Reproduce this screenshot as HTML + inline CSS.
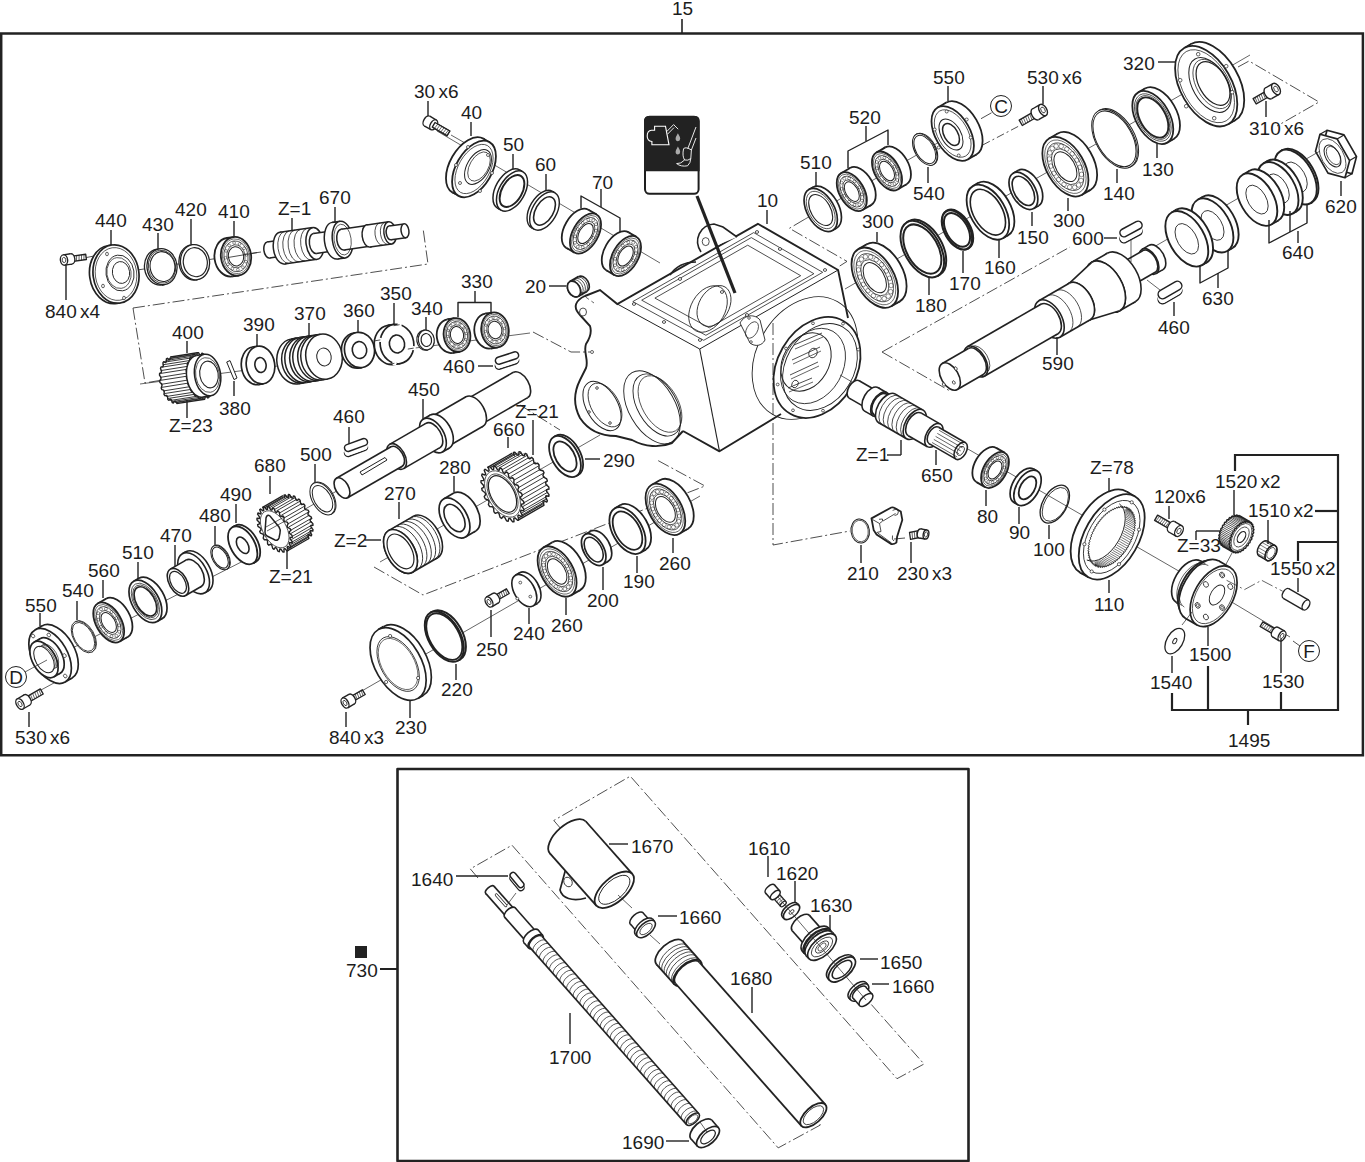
<!DOCTYPE html>
<html><head><meta charset="utf-8"><style>
html,body{margin:0;padding:0;background:#fff;}
svg{display:block;}
text{font-family:"Liberation Sans",sans-serif;fill:#1c1c1c;word-spacing:-2px;}
</style></head><body>
<svg width="1365" height="1162" viewBox="0 0 1365 1162">
<rect x="0" y="0" width="1365" height="1162" fill="#fff"/>
<polygon points="1.2,33.6 1362.9,33.6 1362.9,755.2 1.2,755.2" fill="none" stroke="#222" stroke-width="2.5" stroke-linejoin="miter"/>
<line x1="682" y1="19" x2="682" y2="34" stroke="#222" stroke-width="1.6"/>
<text x="672" y="15" font-size="19">15</text>
<polygon points="397.5,769 968.5,769 968.5,1161 397.5,1161" fill="none" stroke="#222" stroke-width="2.6" stroke-linejoin="round"/>
<rect x="355" y="946" width="12" height="12" fill="#222"/>
<text x="346" y="977" font-size="19">730</text>
<line x1="380" y1="969" x2="397" y2="969" stroke="#222" stroke-width="2"/>
<polygon points="699.7,349 838.1,270 848,318 820,400 781,414 719.5,451.3" fill="#fff" stroke="none" stroke-width="0" stroke-linejoin="round"/>
<path d="M617.3,304 L699.7,349 L719.5,451.3 L683,431 L672,443 C660,448 645,447 632,440 L616,436 C600,436 588,430 580,418 C573,405 574,392 580,380 L586,368 C589,360 583,352 586,344 C590,338 592,332 590,326 L580,315 C572,307 576,300 585,296 L600,290 L617.3,304 Z" fill="#fff" stroke="none" stroke-width="0" />
<polygon points="617.3,304 757.9,223.8 838.1,270 699.7,349" fill="#fff" stroke="none" stroke-width="0" stroke-linejoin="round"/>
<path d="M683,431 L672,443 C660,448 645,447 632,440 L616,436 C600,436 588,430 580,418 C573,405 574,392 580,380 L586,368 C589,360 583,352 586,344 C590,338 592,332 590,326 L580,315 C572,307 576,300 585,296 L600,290 L617.3,304 L757.9,223.8 L838.1,270 L848,318" fill="none" stroke="#222" stroke-width="1.9" />
<polyline points="781,414 719.5,451.3 683,431" fill="none" stroke="#222" stroke-width="1.9" stroke-linejoin="round"/>
<polyline points="617.3,304 699.7,349 838.1,270" fill="none" stroke="#222" stroke-width="1.0" stroke-linejoin="round"/>
<line x1="699.7" y1="349" x2="719.5" y2="451.3" stroke="#222" stroke-width="1.1"/>
<polygon points="632.8,301.6 753.7,232.6 822.7,272.3 703.7,340.3" fill="none" stroke="#222" stroke-width="0.8" stroke-linejoin="round"/>
<polygon points="641.7,300.2 751.3,237.6 813.9,273.7 705.9,335.3" fill="none" stroke="#222" stroke-width="0.8" stroke-linejoin="round"/>
<polygon points="654.9,298.1 747.7,245.2 800.7,275.7 709.3,327.8" fill="none" stroke="#222" stroke-width="0.8" stroke-linejoin="round"/>
<ellipse cx="634" cy="304" rx="1.6" ry="1.4" fill="#fff" stroke="#222" stroke-width="0.8"/>
<ellipse cx="757" cy="232" rx="1.6" ry="1.4" fill="#fff" stroke="#222" stroke-width="0.8"/>
<ellipse cx="825" cy="270" rx="1.6" ry="1.4" fill="#fff" stroke="#222" stroke-width="0.8"/>
<ellipse cx="700" cy="340" rx="1.6" ry="1.4" fill="#fff" stroke="#222" stroke-width="0.8"/>
<ellipse cx="680" cy="279" rx="1.6" ry="1.4" fill="#fff" stroke="#222" stroke-width="0.8"/>
<ellipse cx="780" cy="249" rx="1.6" ry="1.4" fill="#fff" stroke="#222" stroke-width="0.8"/>
<ellipse cx="747" cy="315" rx="1.6" ry="1.4" fill="#fff" stroke="#222" stroke-width="0.8"/>
<ellipse cx="664" cy="322" rx="1.6" ry="1.4" fill="#fff" stroke="#222" stroke-width="0.8"/>
<ellipse cx="722" cy="292" rx="1.6" ry="1.4" fill="#fff" stroke="#222" stroke-width="0.8"/>
<ellipse cx="708" cy="309" rx="17" ry="25" fill="none" stroke="#222" stroke-width="0.8" transform="rotate(30 708 309)"/>
<ellipse cx="714" cy="306" rx="15" ry="22" fill="none" stroke="#222" stroke-width="0.8" transform="rotate(30 714 306)"/>
<path d="M701,252 C693,240 700,225 714,224 L723,227 L737,237" fill="#fff" stroke="#222" stroke-width="1.6" />
<ellipse cx="705.7" cy="241.6" rx="3.5" ry="4" fill="#fff" stroke="#222" stroke-width="0.8"/>
<ellipse cx="583" cy="312" rx="3.5" ry="4" fill="#fff" stroke="#222" stroke-width="0.8"/>
<ellipse cx="592" cy="352" rx="1.5" ry="1.5" fill="#fff" stroke="#222" stroke-width="0.7"/>
<ellipse cx="602" cy="406" rx="15.6" ry="27" fill="none" stroke="#222" stroke-width="1.0" transform="rotate(-30 602 406)"/>
<ellipse cx="605" cy="405" rx="13.8" ry="24" fill="none" stroke="#222" stroke-width="0.8" transform="rotate(-30 605 405)"/>
<ellipse cx="597" cy="388" rx="1.3" ry="1.3" fill="#fff" stroke="#222" stroke-width="0.8"/>
<ellipse cx="610" cy="423" rx="1.3" ry="1.3" fill="#fff" stroke="#222" stroke-width="0.8"/>
<ellipse cx="589" cy="412" rx="1.3" ry="1.3" fill="#fff" stroke="#222" stroke-width="0.8"/>
<ellipse cx="652" cy="407.3" rx="23.1" ry="40" fill="none" stroke="#222" stroke-width="0.9" transform="rotate(-30 652 407.3)"/>
<ellipse cx="657" cy="405" rx="19.6" ry="34" fill="none" stroke="#222" stroke-width="0.9" transform="rotate(-30 657 405)"/>
<ellipse cx="660" cy="404" rx="17.9" ry="31" fill="none" stroke="#222" stroke-width="0.7" transform="rotate(-30 660 404)"/>
<ellipse cx="805" cy="358" rx="48.1" ry="65" fill="none" stroke="#222" stroke-width="0.9" transform="rotate(30 805 358)"/>
<ellipse cx="817" cy="367.5" rx="39.6" ry="53.5" fill="#fff" stroke="#222" stroke-width="1.8" transform="rotate(30 817 367.5)"/>
<ellipse cx="820" cy="367" rx="34" ry="46" fill="none" stroke="#222" stroke-width="0.9" transform="rotate(30 820 367)"/>
<ellipse cx="813" cy="366" rx="29.6" ry="40" fill="none" stroke="#222" stroke-width="0.8" transform="rotate(30 813 366)"/>
<ellipse cx="806" cy="362" rx="22.9" ry="31" fill="none" stroke="#222" stroke-width="1.0" transform="rotate(30 806 362)"/>
<ellipse cx="850" cy="385.5" rx="1.4" ry="1.4" fill="#fff" stroke="#222" stroke-width="0.7"/>
<ellipse cx="823" cy="410.7" rx="1.4" ry="1.4" fill="#fff" stroke="#222" stroke-width="0.7"/>
<ellipse cx="793" cy="410.3" rx="1.4" ry="1.4" fill="#fff" stroke="#222" stroke-width="0.7"/>
<ellipse cx="777.7" cy="384.5" rx="1.4" ry="1.4" fill="#fff" stroke="#222" stroke-width="0.7"/>
<ellipse cx="786" cy="348.5" rx="1.4" ry="1.4" fill="#fff" stroke="#222" stroke-width="0.7"/>
<ellipse cx="813" cy="323.3" rx="1.4" ry="1.4" fill="#fff" stroke="#222" stroke-width="0.7"/>
<ellipse cx="843" cy="323.7" rx="1.4" ry="1.4" fill="#fff" stroke="#222" stroke-width="0.7"/>
<ellipse cx="858.3" cy="349.5" rx="1.4" ry="1.4" fill="#fff" stroke="#222" stroke-width="0.7"/>
<line x1="794" y1="345" x2="822" y2="333" stroke="#222" stroke-width="0.8"/>
<line x1="795" y1="349" x2="823" y2="337" stroke="#222" stroke-width="0.7"/>
<line x1="792" y1="360" x2="820" y2="347" stroke="#222" stroke-width="0.8"/>
<line x1="793" y1="364" x2="821" y2="351" stroke="#222" stroke-width="0.7"/>
<line x1="790" y1="375" x2="818" y2="362" stroke="#222" stroke-width="0.8"/>
<line x1="791" y1="379" x2="819" y2="366" stroke="#222" stroke-width="0.7"/>
<line x1="788" y1="388" x2="812" y2="378" stroke="#222" stroke-width="0.8"/>
<line x1="789" y1="392" x2="813" y2="382" stroke="#222" stroke-width="0.7"/>
<ellipse cx="813" cy="353" rx="4" ry="5" fill="none" stroke="#222" stroke-width="0.8" transform="rotate(30 813 353)"/>
<ellipse cx="795" cy="384" rx="3" ry="4" fill="none" stroke="#222" stroke-width="0.8" transform="rotate(30 795 384)"/>
<path d="M740,323 C745,314 755,314 760,320 L765,340 C762,346 755,347 750,343 Z" fill="#fff" stroke="#222" stroke-width="0.9" />
<ellipse cx="749" cy="318" rx="1.3" ry="1.3" fill="#fff" stroke="#222" stroke-width="0.7"/>
<ellipse cx="751" cy="342" rx="1.3" ry="1.3" fill="#fff" stroke="#222" stroke-width="0.7"/>
<ellipse cx="752" cy="330" rx="5.4" ry="9" fill="none" stroke="#222" stroke-width="0.7" transform="rotate(30 752 330)"/>
<path d="M670,275 C676,266 686,262 696,262" fill="none" stroke="#222" stroke-width="1.6" />
<rect x="645" y="116.8" width="53.6" height="77" rx="4.5" ry="4.5" fill="#fff" stroke="#1e1e1e" stroke-width="2"/>
<path d="M644,121 Q644,116 649,116 L695,116 Q699.6,116 699.6,121 L699.6,171.2 L644,171.2 Z" fill="#222"/>
<path d="M654.6,126.3 L665.5,126.3 L669,144.8 L651.9,144.8 L651.9,141.5 Q647.2,141 647.2,136 Q647.2,130.6 651.5,130.3 L654.6,130.3 Z" fill="none" stroke="#fff" stroke-width="1.1"/>
<path d="M666.7,131.6 L673.6,124.6 L678.2,129.2 M667.6,134.1 L674,127.6" fill="none" stroke="#fff" stroke-width="0.9"/>
<path d="M677.9,133.2 Q675.6,137 675.6,138.6 Q675.6,141.2 677.9,141.2 Q680.2,141.2 680.2,138.6 Q680.2,137 677.9,133.2 Z M677.9,146.4 Q675.6,150.2 675.6,151.8 Q675.6,154.4 677.9,154.4 Q680.2,154.4 680.2,151.8 Q680.2,150.2 677.9,146.4 Z" fill="#aaa"/>
<path d="M696,127 L687.8,148.6 M696,138 L691.4,150 M683.6,148.6 Q686,146.5 691.4,150 L690.8,158.5 Q688,161 684.6,160 Q682,156 683.6,148.6 Z M684.6,160 Q681,164 676.6,163.6 Q681,167 687.6,165.8 Q690.6,163 690.8,158.5" fill="none" stroke="#fff" stroke-width="0.9"/>
<line x1="697" y1="196" x2="735" y2="293" stroke="#222" stroke-width="3.2"/>
<polyline points="773,323 773,545 850,531" fill="none" stroke="#222" stroke-width="0.8" stroke-linejoin="round" stroke-dasharray="12 3 2 3"/>
<polyline points="520,405 560,430" fill="none" stroke="#222" stroke-width="0.8" stroke-linejoin="round" stroke-dasharray="12 3 2 3"/>
<polyline points="533,332 571,352 590,352" fill="none" stroke="#222" stroke-width="0.8" stroke-linejoin="round" stroke-dasharray="12 3 2 3"/>
<line x1="84" y1="258" x2="94" y2="256" stroke="#222" stroke-width="0.8"/>
<line x1="113" y1="273.5" x2="257" y2="252.6" stroke="#222" stroke-width="0.8"/>
<line x1="257" y1="252.6" x2="266" y2="251.3" stroke="#222" stroke-width="0.8" stroke-dasharray="4 3"/>
<polygon points="71.6,261.6 86.4,259.5 85.7,254.3 70.8,256.4" fill="#fff" stroke="#222" stroke-width="1.4" stroke-linejoin="round"/>
<line x1="74" y1="261.2" x2="74.1" y2="256" stroke="#222" stroke-width="0.7"/>
<line x1="76.5" y1="260.9" x2="76.6" y2="255.6" stroke="#222" stroke-width="0.7"/>
<line x1="79" y1="260.5" x2="79.1" y2="255.3" stroke="#222" stroke-width="0.7"/>
<line x1="81.5" y1="260.2" x2="81.5" y2="254.9" stroke="#222" stroke-width="0.7"/>
<line x1="83.9" y1="259.8" x2="84" y2="254.6" stroke="#222" stroke-width="0.7"/>
<ellipse cx="71.2" cy="259" rx="3.6" ry="5.2" fill="#fff" stroke="#222" stroke-width="1.4" transform="rotate(-8 71.2 259)"/>
<polygon points="64.7,265.1 71.9,264.1 70.5,253.8 63.3,254.9" fill="#fff" stroke="none" stroke-width="0" stroke-linejoin="round"/>
<line x1="64.7" y1="265.1" x2="71.9" y2="264.1" stroke="#222" stroke-width="1.4"/>
<line x1="63.3" y1="254.9" x2="70.5" y2="253.8" stroke="#222" stroke-width="1.4"/>
<ellipse cx="64" cy="260" rx="3.6" ry="5.2" fill="#fff" stroke="#222" stroke-width="1.4" transform="rotate(-8 64 260)"/>
<ellipse cx="64" cy="260" rx="1.8" ry="2.6" fill="none" stroke="#222" stroke-width="0.8" transform="rotate(-8 64 260)"/>
<ellipse cx="112.5" cy="274.5" rx="22.9" ry="29.3" fill="#fff" stroke="#222" stroke-width="1.7" transform="rotate(172 112.5 274.5)"/>
<polygon points="111.9,245 108.5,245.5 116.6,303.5 120.1,303" fill="#fff" stroke="none" stroke-width="0" stroke-linejoin="round"/>
<line x1="111.9" y1="245" x2="108.5" y2="245.5" stroke="#222" stroke-width="1.7"/>
<line x1="120.1" y1="303" x2="116.6" y2="303.5" stroke="#222" stroke-width="1.7"/>
<ellipse cx="116" cy="274" rx="22.9" ry="29.3" fill="#fff" stroke="#222" stroke-width="1.7" transform="rotate(172 116 274)"/>
<ellipse cx="116" cy="274" rx="20.7" ry="26.5" fill="none" stroke="#222" stroke-width="0.7" transform="rotate(-8.3 116 274)"/>
<ellipse cx="120" cy="273" rx="14" ry="18" fill="none" stroke="#222" stroke-width="0.9" transform="rotate(-8.3 120 273)"/>
<ellipse cx="119" cy="273" rx="12.1" ry="15.5" fill="none" stroke="#222" stroke-width="0.7" transform="rotate(-8.3 119 273)"/>
<ellipse cx="121" cy="272.5" rx="8.6" ry="11" fill="none" stroke="#222" stroke-width="0.9" transform="rotate(-8.3 121 272.5)"/>
<ellipse cx="107" cy="254" rx="1.4" ry="1.8" fill="#fff" stroke="#222" stroke-width="0.7"/>
<ellipse cx="103" cy="286" rx="1.4" ry="1.8" fill="#fff" stroke="#222" stroke-width="0.7"/>
<ellipse cx="124" cy="298" rx="1.4" ry="1.8" fill="#fff" stroke="#222" stroke-width="0.7"/>
<ellipse cx="159.5" cy="267" rx="15" ry="18.1" fill="#fff" stroke="#222" stroke-width="1.3" transform="rotate(172 159.5 267)"/>
<polygon points="159.5,248.8 157,249.1 162,285 164.5,284.6" fill="#fff" stroke="none" stroke-width="0" stroke-linejoin="round"/>
<line x1="159.5" y1="248.8" x2="157" y2="249.1" stroke="#222" stroke-width="1.3"/>
<line x1="164.5" y1="284.6" x2="162" y2="285" stroke="#222" stroke-width="1.3"/>
<ellipse cx="162" cy="266.7" rx="15" ry="18.1" fill="#fff" stroke="#222" stroke-width="1.3" transform="rotate(172 162 266.7)"/>
<ellipse cx="162" cy="266.7" rx="13.7" ry="16.5" fill="none" stroke="#222" stroke-width="0.8" transform="rotate(-8.3 162 266.7)"/>
<ellipse cx="162.5" cy="266.6" rx="12.4" ry="15" fill="none" stroke="#222" stroke-width="1.1" transform="rotate(-8.3 162.5 266.6)"/>
<ellipse cx="193.5" cy="262.4" rx="14.5" ry="17.7" fill="#fff" stroke="#222" stroke-width="1.3" transform="rotate(172 193.5 262.4)"/>
<polygon points="192.5,244.7 191.1,244.9 196,279.9 197.5,279.7" fill="#fff" stroke="none" stroke-width="0" stroke-linejoin="round"/>
<line x1="192.5" y1="244.7" x2="191.1" y2="244.9" stroke="#222" stroke-width="1.3"/>
<line x1="197.5" y1="279.7" x2="196" y2="279.9" stroke="#222" stroke-width="1.3"/>
<ellipse cx="195" cy="262.2" rx="14.5" ry="17.7" fill="#fff" stroke="#222" stroke-width="1.3" transform="rotate(172 195 262.2)"/>
<ellipse cx="195.3" cy="262.2" rx="12" ry="14.6" fill="none" stroke="#222" stroke-width="1.2" transform="rotate(-8.3 195.3 262.2)"/>
<ellipse cx="229.6" cy="257.2" rx="15.1" ry="19.4" fill="#fff" stroke="#222" stroke-width="1.8" transform="rotate(172 229.6 257.2)"/>
<polygon points="233.3,237.1 226.9,238 232.3,276.4 238.7,275.5" fill="#fff" stroke="none" stroke-width="0" stroke-linejoin="round"/>
<line x1="233.3" y1="237.1" x2="226.9" y2="238" stroke="#222" stroke-width="1.8"/>
<line x1="238.7" y1="275.5" x2="232.3" y2="276.4" stroke="#222" stroke-width="1.8"/>
<ellipse cx="236" cy="256.3" rx="15.1" ry="19.4" fill="#fff" stroke="#222" stroke-width="1.8" transform="rotate(172 236 256.3)"/>
<ellipse cx="236" cy="256.3" rx="13.6" ry="17.5" fill="none" stroke="#222" stroke-width="0.6" transform="rotate(172 236 256.3)"/>
<ellipse cx="236" cy="256.3" rx="12.1" ry="15.5" fill="none" stroke="#222" stroke-width="0.7" transform="rotate(172 236 256.3)"/>
<ellipse cx="236" cy="256.3" rx="9.1" ry="11.6" fill="none" stroke="#222" stroke-width="0.7" transform="rotate(172 236 256.3)"/>
<ellipse cx="236" cy="256.3" rx="7.6" ry="9.7" fill="none" stroke="#222" stroke-width="1.0" transform="rotate(172 236 256.3)"/>
<ellipse cx="225.5" cy="257.8" rx="1.4" ry="1.4" fill="none" stroke="#222" stroke-width="0.5"/>
<ellipse cx="226" cy="250.9" rx="1.4" ry="1.4" fill="none" stroke="#222" stroke-width="0.5"/>
<ellipse cx="229.1" cy="245.4" rx="1.4" ry="1.4" fill="none" stroke="#222" stroke-width="0.5"/>
<ellipse cx="234.1" cy="242.9" rx="1.4" ry="1.4" fill="none" stroke="#222" stroke-width="0.5"/>
<ellipse cx="239.6" cy="243.9" rx="1.4" ry="1.4" fill="none" stroke="#222" stroke-width="0.5"/>
<ellipse cx="244.1" cy="248.3" rx="1.4" ry="1.4" fill="none" stroke="#222" stroke-width="0.5"/>
<ellipse cx="246.5" cy="254.8" rx="1.4" ry="1.4" fill="none" stroke="#222" stroke-width="0.5"/>
<ellipse cx="246" cy="261.7" rx="1.4" ry="1.4" fill="none" stroke="#222" stroke-width="0.5"/>
<ellipse cx="242.9" cy="267.2" rx="1.4" ry="1.4" fill="none" stroke="#222" stroke-width="0.5"/>
<ellipse cx="237.9" cy="269.7" rx="1.4" ry="1.4" fill="none" stroke="#222" stroke-width="0.5"/>
<ellipse cx="232.4" cy="268.7" rx="1.4" ry="1.4" fill="none" stroke="#222" stroke-width="0.5"/>
<ellipse cx="227.9" cy="264.3" rx="1.4" ry="1.4" fill="none" stroke="#222" stroke-width="0.5"/>
<line x1="228" y1="257.5" x2="257" y2="252.6" stroke="#222" stroke-width="0.8"/>
<ellipse cx="268.3" cy="250" rx="4.4" ry="8" fill="#fff" stroke="#222" stroke-width="1.5" transform="rotate(172 268.3 250)"/>
<polygon points="281.1,240.1 267.2,242.1 269.5,257.9 283.3,256" fill="#fff" stroke="none" stroke-width="0" stroke-linejoin="round"/>
<line x1="281.1" y1="240.1" x2="267.2" y2="242.1" stroke="#222" stroke-width="1.5"/>
<line x1="283.3" y1="256" x2="269.5" y2="257.9" stroke="#222" stroke-width="1.5"/>
<ellipse cx="282.2" cy="248.1" rx="4.4" ry="8" fill="#fff" stroke="#222" stroke-width="1.5" transform="rotate(172 282.2 248.1)"/>
<ellipse cx="282.2" cy="248.1" rx="8.8" ry="16" fill="#fff" stroke="#222" stroke-width="1.5" transform="rotate(172 282.2 248.1)"/>
<polygon points="312.7,227.6 280,232.2 284.4,263.9 317.1,259.3" fill="#fff" stroke="none" stroke-width="0" stroke-linejoin="round"/>
<line x1="312.7" y1="227.6" x2="280" y2="232.2" stroke="#222" stroke-width="1.5"/>
<line x1="317.1" y1="259.3" x2="284.4" y2="263.9" stroke="#222" stroke-width="1.5"/>
<ellipse cx="314.9" cy="243.5" rx="8.8" ry="16" fill="#fff" stroke="#222" stroke-width="1.5" transform="rotate(172 314.9 243.5)"/>
<ellipse cx="314.9" cy="243.5" rx="5.5" ry="10" fill="#fff" stroke="#222" stroke-width="1.5" transform="rotate(172 314.9 243.5)"/>
<polygon points="333.3,230.8 313.5,233.6 316.3,253.4 336.1,250.6" fill="#fff" stroke="none" stroke-width="0" stroke-linejoin="round"/>
<line x1="333.3" y1="230.8" x2="313.5" y2="233.6" stroke="#222" stroke-width="1.5"/>
<line x1="336.1" y1="250.6" x2="316.3" y2="253.4" stroke="#222" stroke-width="1.5"/>
<ellipse cx="334.7" cy="240.7" rx="5.5" ry="10" fill="#fff" stroke="#222" stroke-width="1.5" transform="rotate(172 334.7 240.7)"/>
<ellipse cx="334.7" cy="240.7" rx="10.2" ry="18.5" fill="#fff" stroke="#222" stroke-width="1.5" transform="rotate(172 334.7 240.7)"/>
<polygon points="340,221.2 332.1,222.4 337.3,259 345.2,257.9" fill="#fff" stroke="none" stroke-width="0" stroke-linejoin="round"/>
<line x1="340" y1="221.2" x2="332.1" y2="222.4" stroke="#222" stroke-width="1.5"/>
<line x1="345.2" y1="257.9" x2="337.3" y2="259" stroke="#222" stroke-width="1.5"/>
<ellipse cx="342.6" cy="239.6" rx="10.2" ry="18.5" fill="#fff" stroke="#222" stroke-width="1.5" transform="rotate(172 342.6 239.6)"/>
<ellipse cx="342.6" cy="239.6" rx="5.8" ry="10.5" fill="#fff" stroke="#222" stroke-width="1.5" transform="rotate(172 342.6 239.6)"/>
<polygon points="366.9,225.6 341.2,229.2 344.1,250 369.8,246.3" fill="#fff" stroke="none" stroke-width="0" stroke-linejoin="round"/>
<line x1="366.9" y1="225.6" x2="341.2" y2="229.2" stroke="#222" stroke-width="1.5"/>
<line x1="369.8" y1="246.3" x2="344.1" y2="250" stroke="#222" stroke-width="1.5"/>
<ellipse cx="368.4" cy="235.9" rx="5.8" ry="10.5" fill="#fff" stroke="#222" stroke-width="1.5" transform="rotate(172 368.4 235.9)"/>
<ellipse cx="368.4" cy="235.9" rx="6.2" ry="11.2" fill="#fff" stroke="#222" stroke-width="1.5" transform="rotate(172 368.4 235.9)"/>
<polygon points="388.6,221.8 366.8,224.9 369.9,247 391.7,244" fill="#fff" stroke="none" stroke-width="0" stroke-linejoin="round"/>
<line x1="388.6" y1="221.8" x2="366.8" y2="224.9" stroke="#222" stroke-width="1.5"/>
<line x1="391.7" y1="244" x2="369.9" y2="247" stroke="#222" stroke-width="1.5"/>
<ellipse cx="390.1" cy="232.9" rx="6.2" ry="11.2" fill="#fff" stroke="#222" stroke-width="1.5" transform="rotate(172 390.1 232.9)"/>
<ellipse cx="390.1" cy="232.9" rx="3.9" ry="7" fill="#fff" stroke="#222" stroke-width="1.5" transform="rotate(172 390.1 232.9)"/>
<polygon points="404,223.9 389.2,226 391.1,239.8 406,237.7" fill="#fff" stroke="none" stroke-width="0" stroke-linejoin="round"/>
<line x1="404" y1="223.9" x2="389.2" y2="226" stroke="#222" stroke-width="1.5"/>
<line x1="406" y1="237.7" x2="391.1" y2="239.8" stroke="#222" stroke-width="1.5"/>
<ellipse cx="405" cy="230.8" rx="3.9" ry="7" fill="#fff" stroke="#222" stroke-width="1.5" transform="rotate(172 405 230.8)"/>
<path d="M384.6,222.4 A6.2,11.2 172 0 0 387.7,244.5" fill="none" stroke="#222" stroke-width="0.8"/>
<path d="M379.7,223 A6.2,11.2 172 0 0 382.8,245.2" fill="none" stroke="#222" stroke-width="0.8"/>
<path d="M306.7,228.5 A8.8,16 172 0 0 311.2,260.1" fill="none" stroke="#222" stroke-width="0.8"/>
<path d="M300.8,229.3 A8.8,16 172 0 0 305.2,261" fill="none" stroke="#222" stroke-width="0.8"/>
<path d="M294.8,230.1 A8.8,16 172 0 0 299.3,261.8" fill="none" stroke="#222" stroke-width="0.8"/>
<path d="M288.9,231 A8.8,16 172 0 0 293.3,262.6" fill="none" stroke="#222" stroke-width="0.8"/>
<path d="M283.9,231.7 A8.8,16 172 0 0 288.4,263.3" fill="none" stroke="#222" stroke-width="0.8"/>
<ellipse cx="342.6" cy="239.6" rx="8.5" ry="15.5" fill="none" stroke="#222" stroke-width="0.7" transform="rotate(172 342.6 239.6)"/>
<polyline points="140,384 530,333" fill="none" stroke="#333" stroke-width="0.75" stroke-linejoin="round"/>
<polyline points="133,308 428,264 423,228" fill="none" stroke="#222" stroke-width="0.8" stroke-linejoin="round" stroke-dasharray="12 3 2 3"/>
<polyline points="133,308 145,383 168,379" fill="none" stroke="#222" stroke-width="0.8" stroke-linejoin="round" stroke-dasharray="12 3 2 3"/>
<polygon points="159.9,382.5 159.7,380.7 161,379 160.9,377.3 159.5,375.2 159.6,373.4 161.3,372.5 161.5,371 160.5,368.4 161,366.9 162.8,366.9 163.4,365.6 162.9,362.8 163.7,361.6 165.5,362.5 166.3,361.7 166.4,358.9 167.4,358.2 169,359.9 170,359.5 170.7,357 171.8,356.9 173.1,359.2 174.1,359.4 175.3,357.4 176.4,357.9 177.3,360.6 178.3,361.3 179.8,360.1 180.9,361.1 181.2,364 182.1,365.1 183.8,364.7 184.7,366.2 184.4,368.9 185.1,370.3 186.9,370.9 187.5,372.6 186.6,374.9 187,376.5 188.7,377.9 189,379.8 187.7,381.5 187.7,383.1 189.2,385.2 189,387 187.4,387.9 187.1,389.4 188.1,392 187.7,393.6 185.9,393.6 185.3,394.8 185.8,397.7 185,398.8 183.2,397.9 182.4,398.8 182.3,401.6 181.3,402.3 179.6,400.6 178.7,400.9 178,403.4 176.9,403.5 175.6,401.2 174.5,401.1 173.4,403 172.2,402.5 171.4,399.8 170.4,399.2 168.8,400.3 167.8,399.4 167.5,396.5 166.6,395.4 164.9,395.7 164,394.3 164.3,391.6 163.6,390.1 161.8,389.6 161.2,387.9 162,385.5 161.7,383.9" fill="#fff" stroke="#222" stroke-width="1.4" stroke-linejoin="round"/>
<polygon points="197.3,352.8 170.7,357 178,403.4 204.7,399.2" fill="#fff" stroke="none" stroke-width="0" stroke-linejoin="round"/>
<line x1="197.3" y1="352.8" x2="170.7" y2="357" stroke="#222" stroke-width="1.4"/>
<line x1="204.7" y1="399.2" x2="178" y2="403.4" stroke="#222" stroke-width="1.4"/>
<line x1="186.9" y1="376.2" x2="160.2" y2="380.4" stroke="#222" stroke-width="0.9"/>
<line x1="186.7" y1="373.1" x2="160.1" y2="377.4" stroke="#222" stroke-width="0.9"/>
<line x1="186.9" y1="369.3" x2="160.2" y2="373.5" stroke="#222" stroke-width="0.9"/>
<line x1="187.3" y1="366.4" x2="160.7" y2="370.6" stroke="#222" stroke-width="0.9"/>
<line x1="188.3" y1="363" x2="161.6" y2="367.2" stroke="#222" stroke-width="0.9"/>
<line x1="189.3" y1="360.6" x2="162.6" y2="364.8" stroke="#222" stroke-width="0.9"/>
<line x1="190.9" y1="358" x2="164.2" y2="362.2" stroke="#222" stroke-width="0.9"/>
<line x1="192.3" y1="356.3" x2="165.7" y2="360.6" stroke="#222" stroke-width="0.9"/>
<line x1="194.5" y1="354.8" x2="167.8" y2="359" stroke="#222" stroke-width="0.9"/>
<line x1="196.3" y1="354" x2="169.6" y2="358.2" stroke="#222" stroke-width="0.9"/>
<line x1="203.3" y1="398.4" x2="176.6" y2="402.6" stroke="#222" stroke-width="0.9"/>
<line x1="201.3" y1="398.2" x2="174.7" y2="402.4" stroke="#222" stroke-width="0.9"/>
<line x1="198.8" y1="397.4" x2="172.2" y2="401.6" stroke="#222" stroke-width="0.9"/>
<line x1="196.9" y1="396.3" x2="170.2" y2="400.5" stroke="#222" stroke-width="0.9"/>
<line x1="194.6" y1="394.3" x2="167.9" y2="398.5" stroke="#222" stroke-width="0.9"/>
<line x1="192.9" y1="392.3" x2="166.2" y2="396.5" stroke="#222" stroke-width="0.9"/>
<line x1="191" y1="389.4" x2="164.3" y2="393.6" stroke="#222" stroke-width="0.9"/>
<line x1="189.7" y1="386.7" x2="163" y2="391" stroke="#222" stroke-width="0.9"/>
<line x1="188.3" y1="383.1" x2="161.6" y2="387.4" stroke="#222" stroke-width="0.9"/>
<line x1="187.5" y1="380.1" x2="160.9" y2="384.4" stroke="#222" stroke-width="0.9"/>
<polygon points="186.6,378.3 186.4,376.5 187.7,374.8 187.6,373.1 186.2,371 186.3,369.2 187.9,368.3 188.2,366.8 187.2,364.2 187.7,362.7 189.5,362.6 190,361.4 189.6,358.6 190.3,357.4 192.2,358.3 193,357.4 193.1,354.6 194.1,354 195.7,355.6 196.7,355.3 197.3,352.8 198.5,352.7 199.8,355 200.8,355.2 202,353.2 203.1,353.7 203.9,356.4 205,357.1 206.5,355.9 207.6,356.9 207.8,359.7 208.7,360.8 210.5,360.5 211.3,361.9 211.1,364.7 211.7,366.1 213.6,366.7 214.1,368.4 213.3,370.7 213.7,372.3 215.4,373.7 215.6,375.5 214.3,377.2 214.4,378.9 215.8,381 215.7,382.8 214.1,383.7 213.8,385.2 214.8,387.8 214.3,389.3 212.5,389.4 212,390.6 212.4,393.4 211.7,394.6 209.8,393.7 209,394.6 208.9,397.4 207.9,398 206.3,396.4 205.3,396.7 204.7,399.2 203.5,399.3 202.2,397 201.2,396.8 200,398.8 198.9,398.3 198.1,395.6 197,394.9 195.5,396.1 194.4,395.1 194.2,392.3 193.3,391.2 191.5,391.5 190.7,390.1 190.9,387.3 190.3,385.9 188.4,385.3 187.9,383.6 188.7,381.3 188.3,379.7" fill="#fff" stroke="#222" stroke-width="1.4" stroke-linejoin="round"/>
<ellipse cx="201" cy="376" rx="12.2" ry="19.7" fill="none" stroke="#222" stroke-width="0.7" transform="rotate(171 201 376)"/>
<ellipse cx="199.7" cy="376.3" rx="13" ry="21" fill="#fff" stroke="#222" stroke-width="1.5" transform="rotate(171 199.7 376.3)"/>
<polygon points="204.3,354.3 196.4,355.5 203,397 210.9,395.7" fill="#fff" stroke="none" stroke-width="0" stroke-linejoin="round"/>
<line x1="204.3" y1="354.3" x2="196.4" y2="355.5" stroke="#222" stroke-width="1.5"/>
<line x1="210.9" y1="395.7" x2="203" y2="397" stroke="#222" stroke-width="1.5"/>
<ellipse cx="207.6" cy="375" rx="13" ry="21" fill="#fff" stroke="#222" stroke-width="1.5" transform="rotate(171 207.6 375)"/>
<ellipse cx="207.6" cy="375" rx="11.9" ry="17.5" fill="none" stroke="#222" stroke-width="0.7" transform="rotate(-9.5 207.6 375)"/>
<ellipse cx="209" cy="374.5" rx="9.2" ry="13.5" fill="none" stroke="#222" stroke-width="1.1" transform="rotate(-9.5 209 374.5)"/>
<polygon points="226.7,362 230,360.6 237,378 234,379.6" fill="#fff" stroke="#222" stroke-width="1.0" stroke-linejoin="round"/>
<ellipse cx="255.6" cy="365.8" rx="14.2" ry="19" fill="#fff" stroke="#222" stroke-width="1.7" transform="rotate(171 255.6 365.8)"/>
<polygon points="257.5,346.2 252.6,347 258.5,384.5 263.5,383.8" fill="#fff" stroke="none" stroke-width="0" stroke-linejoin="round"/>
<line x1="257.5" y1="346.2" x2="252.6" y2="347" stroke="#222" stroke-width="1.7"/>
<line x1="263.5" y1="383.8" x2="258.5" y2="384.5" stroke="#222" stroke-width="1.7"/>
<ellipse cx="260.5" cy="365" rx="14.2" ry="19" fill="#fff" stroke="#222" stroke-width="1.7" transform="rotate(171 260.5 365)"/>
<ellipse cx="260.5" cy="365" rx="5.6" ry="7.5" fill="none" stroke="#222" stroke-width="1.6" transform="rotate(171 260.5 365)"/>
<ellipse cx="295.1" cy="361.3" rx="18.2" ry="22.7" fill="#fff" stroke="#222" stroke-width="1.5" transform="rotate(171 295.1 361.3)"/>
<polygon points="296.4,338.1 291.5,338.9 298.6,383.7 303.6,382.9" fill="#fff" stroke="none" stroke-width="0" stroke-linejoin="round"/>
<line x1="296.4" y1="338.1" x2="291.5" y2="338.9" stroke="#222" stroke-width="1.5"/>
<line x1="303.6" y1="382.9" x2="298.6" y2="383.7" stroke="#222" stroke-width="1.5"/>
<ellipse cx="300" cy="360.5" rx="18.2" ry="22.7" fill="#fff" stroke="#222" stroke-width="1.5" transform="rotate(171 300 360.5)"/>
<ellipse cx="303.1" cy="360" rx="18.2" ry="22.7" fill="#fff" stroke="#222" stroke-width="1.5" transform="rotate(171 303.1 360)"/>
<polygon points="304.4,336.8 299.5,337.6 306.6,382.4 311.6,381.6" fill="#fff" stroke="none" stroke-width="0" stroke-linejoin="round"/>
<line x1="304.4" y1="336.8" x2="299.5" y2="337.6" stroke="#222" stroke-width="1.5"/>
<line x1="311.6" y1="381.6" x2="306.6" y2="382.4" stroke="#222" stroke-width="1.5"/>
<ellipse cx="308" cy="359.2" rx="18.2" ry="22.7" fill="#fff" stroke="#222" stroke-width="1.5" transform="rotate(171 308 359.2)"/>
<ellipse cx="311.1" cy="358.7" rx="18.2" ry="22.7" fill="#fff" stroke="#222" stroke-width="1.5" transform="rotate(171 311.1 358.7)"/>
<polygon points="312.4,335.5 307.5,336.3 314.6,381.1 319.6,380.3" fill="#fff" stroke="none" stroke-width="0" stroke-linejoin="round"/>
<line x1="312.4" y1="335.5" x2="307.5" y2="336.3" stroke="#222" stroke-width="1.5"/>
<line x1="319.6" y1="380.3" x2="314.6" y2="381.1" stroke="#222" stroke-width="1.5"/>
<ellipse cx="316" cy="357.9" rx="18.2" ry="22.7" fill="#fff" stroke="#222" stroke-width="1.5" transform="rotate(171 316 357.9)"/>
<ellipse cx="319.1" cy="357.4" rx="18.2" ry="22.7" fill="#fff" stroke="#222" stroke-width="1.5" transform="rotate(171 319.1 357.4)"/>
<polygon points="320.4,334.2 315.5,335 322.6,379.8 327.6,379" fill="#fff" stroke="none" stroke-width="0" stroke-linejoin="round"/>
<line x1="320.4" y1="334.2" x2="315.5" y2="335" stroke="#222" stroke-width="1.5"/>
<line x1="327.6" y1="379" x2="322.6" y2="379.8" stroke="#222" stroke-width="1.5"/>
<ellipse cx="324" cy="356.6" rx="18.2" ry="22.7" fill="#fff" stroke="#222" stroke-width="1.5" transform="rotate(171 324 356.6)"/>
<ellipse cx="324" cy="357" rx="7.2" ry="9" fill="none" stroke="#222" stroke-width="1.0" transform="rotate(-9.5 324 357)"/>
<ellipse cx="356.5" cy="350.5" rx="15" ry="17.7" fill="#fff" stroke="#222" stroke-width="1.7" transform="rotate(171 356.5 350.5)"/>
<polygon points="356.7,332.5 353.8,333 359.3,368 362.3,367.5" fill="#fff" stroke="none" stroke-width="0" stroke-linejoin="round"/>
<line x1="356.7" y1="332.5" x2="353.8" y2="333" stroke="#222" stroke-width="1.7"/>
<line x1="362.3" y1="367.5" x2="359.3" y2="368" stroke="#222" stroke-width="1.7"/>
<ellipse cx="359.5" cy="350" rx="15" ry="17.7" fill="#fff" stroke="#222" stroke-width="1.7" transform="rotate(171 359.5 350)"/>
<ellipse cx="359.5" cy="350" rx="7.2" ry="8.5" fill="none" stroke="#222" stroke-width="1.6" transform="rotate(171 359.5 350)"/>
<ellipse cx="391.1" cy="344.9" rx="16.8" ry="19.8" fill="#fff" stroke="#222" stroke-width="1.7" transform="rotate(171 391.1 344.9)"/>
<polygon points="393.9,324.4 388,325.4 394.2,364.5 400.1,363.6" fill="#fff" stroke="none" stroke-width="0" stroke-linejoin="round"/>
<line x1="393.9" y1="324.4" x2="388" y2="325.4" stroke="#222" stroke-width="1.7"/>
<line x1="400.1" y1="363.6" x2="394.2" y2="364.5" stroke="#222" stroke-width="1.7"/>
<ellipse cx="397" cy="344" rx="16.8" ry="19.8" fill="#fff" stroke="#222" stroke-width="1.7" transform="rotate(171 397 344)"/>
<ellipse cx="397" cy="344" rx="7.6" ry="9" fill="none" stroke="#222" stroke-width="1.6" transform="rotate(171 397 344)"/>
<ellipse cx="413.7" cy="348.1" rx="2.2" ry="2.2" fill="#fff"/>
<line x1="413.7" y1="348.1" x2="407.8" y2="349.1" stroke="#222" stroke-width="0.8"/>
<ellipse cx="394.4" cy="363.3" rx="2.2" ry="2.2" fill="#fff"/>
<line x1="394.4" y1="363.3" x2="388.5" y2="364.3" stroke="#222" stroke-width="0.8"/>
<ellipse cx="380.3" cy="339.9" rx="2.2" ry="2.2" fill="#fff"/>
<line x1="380.3" y1="339.9" x2="374.4" y2="340.9" stroke="#222" stroke-width="0.8"/>
<ellipse cx="399.6" cy="324.7" rx="2.2" ry="2.2" fill="#fff"/>
<line x1="399.6" y1="324.7" x2="393.7" y2="325.7" stroke="#222" stroke-width="0.8"/>
<ellipse cx="424.8" cy="340.2" rx="8" ry="10" fill="#fff" stroke="#222" stroke-width="1.2" transform="rotate(171 424.8 340.2)"/>
<polygon points="424.7,330.1 423.3,330.4 426.4,350.1 427.9,349.9" fill="#fff" stroke="none" stroke-width="0" stroke-linejoin="round"/>
<line x1="424.7" y1="330.1" x2="423.3" y2="330.4" stroke="#222" stroke-width="1.2"/>
<line x1="427.9" y1="349.9" x2="426.4" y2="350.1" stroke="#222" stroke-width="1.2"/>
<ellipse cx="426.3" cy="340" rx="8" ry="10" fill="#fff" stroke="#222" stroke-width="1.2" transform="rotate(171 426.3 340)"/>
<ellipse cx="426.3" cy="340" rx="5.2" ry="6.5" fill="none" stroke="#222" stroke-width="1.2" transform="rotate(171 426.3 340)"/>
<ellipse cx="450.1" cy="336.1" rx="13.3" ry="17" fill="#fff" stroke="#222" stroke-width="1.8" transform="rotate(171 450.1 336.1)"/>
<polygon points="454.3,318.2 447.4,319.3 452.7,352.9 459.7,351.8" fill="#fff" stroke="none" stroke-width="0" stroke-linejoin="round"/>
<line x1="454.3" y1="318.2" x2="447.4" y2="319.3" stroke="#222" stroke-width="1.8"/>
<line x1="459.7" y1="351.8" x2="452.7" y2="352.9" stroke="#222" stroke-width="1.8"/>
<ellipse cx="457" cy="335" rx="13.3" ry="17" fill="#fff" stroke="#222" stroke-width="1.8" transform="rotate(171 457 335)"/>
<ellipse cx="457" cy="335" rx="11.9" ry="15.3" fill="none" stroke="#222" stroke-width="0.6" transform="rotate(171 457 335)"/>
<ellipse cx="457" cy="335" rx="10.6" ry="13.6" fill="none" stroke="#222" stroke-width="0.7" transform="rotate(171 457 335)"/>
<ellipse cx="457" cy="335" rx="8" ry="10.2" fill="none" stroke="#222" stroke-width="0.7" transform="rotate(171 457 335)"/>
<ellipse cx="457" cy="335" rx="6.6" ry="8.5" fill="none" stroke="#222" stroke-width="1.0" transform="rotate(171 457 335)"/>
<ellipse cx="447.8" cy="336.5" rx="1.2" ry="1.2" fill="none" stroke="#222" stroke-width="0.5"/>
<ellipse cx="448.1" cy="330.4" rx="1.2" ry="1.2" fill="none" stroke="#222" stroke-width="0.5"/>
<ellipse cx="450.8" cy="325.5" rx="1.2" ry="1.2" fill="none" stroke="#222" stroke-width="0.5"/>
<ellipse cx="455.1" cy="323.2" rx="1.2" ry="1.2" fill="none" stroke="#222" stroke-width="0.5"/>
<ellipse cx="460" cy="324.1" rx="1.2" ry="1.2" fill="none" stroke="#222" stroke-width="0.5"/>
<ellipse cx="464" cy="327.9" rx="1.2" ry="1.2" fill="none" stroke="#222" stroke-width="0.5"/>
<ellipse cx="466.2" cy="333.5" rx="1.2" ry="1.2" fill="none" stroke="#222" stroke-width="0.5"/>
<ellipse cx="465.9" cy="339.6" rx="1.2" ry="1.2" fill="none" stroke="#222" stroke-width="0.5"/>
<ellipse cx="463.2" cy="344.5" rx="1.2" ry="1.2" fill="none" stroke="#222" stroke-width="0.5"/>
<ellipse cx="458.9" cy="346.8" rx="1.2" ry="1.2" fill="none" stroke="#222" stroke-width="0.5"/>
<ellipse cx="454" cy="345.9" rx="1.2" ry="1.2" fill="none" stroke="#222" stroke-width="0.5"/>
<ellipse cx="450" cy="342.1" rx="1.2" ry="1.2" fill="none" stroke="#222" stroke-width="0.5"/>
<ellipse cx="488.1" cy="331.1" rx="13.7" ry="17.6" fill="#fff" stroke="#222" stroke-width="1.8" transform="rotate(171 488.1 331.1)"/>
<polygon points="492.2,312.6 485.3,313.7 490.8,348.5 497.8,347.4" fill="#fff" stroke="none" stroke-width="0" stroke-linejoin="round"/>
<line x1="492.2" y1="312.6" x2="485.3" y2="313.7" stroke="#222" stroke-width="1.8"/>
<line x1="497.8" y1="347.4" x2="490.8" y2="348.5" stroke="#222" stroke-width="1.8"/>
<ellipse cx="495" cy="330" rx="13.7" ry="17.6" fill="#fff" stroke="#222" stroke-width="1.8" transform="rotate(171 495 330)"/>
<ellipse cx="495" cy="330" rx="12.4" ry="15.8" fill="none" stroke="#222" stroke-width="0.6" transform="rotate(171 495 330)"/>
<ellipse cx="495" cy="330" rx="11" ry="14.1" fill="none" stroke="#222" stroke-width="0.7" transform="rotate(171 495 330)"/>
<ellipse cx="495" cy="330" rx="8.2" ry="10.6" fill="none" stroke="#222" stroke-width="0.7" transform="rotate(171 495 330)"/>
<ellipse cx="495" cy="330" rx="6.9" ry="8.8" fill="none" stroke="#222" stroke-width="1.0" transform="rotate(171 495 330)"/>
<ellipse cx="485.5" cy="331.5" rx="1.2" ry="1.2" fill="none" stroke="#222" stroke-width="0.5"/>
<ellipse cx="485.8" cy="325.2" rx="1.2" ry="1.2" fill="none" stroke="#222" stroke-width="0.5"/>
<ellipse cx="488.6" cy="320.2" rx="1.2" ry="1.2" fill="none" stroke="#222" stroke-width="0.5"/>
<ellipse cx="493.1" cy="317.8" rx="1.2" ry="1.2" fill="none" stroke="#222" stroke-width="0.5"/>
<ellipse cx="498.1" cy="318.7" rx="1.2" ry="1.2" fill="none" stroke="#222" stroke-width="0.5"/>
<ellipse cx="502.3" cy="322.6" rx="1.2" ry="1.2" fill="none" stroke="#222" stroke-width="0.5"/>
<ellipse cx="504.5" cy="328.5" rx="1.2" ry="1.2" fill="none" stroke="#222" stroke-width="0.5"/>
<ellipse cx="504.2" cy="334.8" rx="1.2" ry="1.2" fill="none" stroke="#222" stroke-width="0.5"/>
<ellipse cx="501.4" cy="339.8" rx="1.2" ry="1.2" fill="none" stroke="#222" stroke-width="0.5"/>
<ellipse cx="496.9" cy="342.2" rx="1.2" ry="1.2" fill="none" stroke="#222" stroke-width="0.5"/>
<ellipse cx="491.9" cy="341.3" rx="1.2" ry="1.2" fill="none" stroke="#222" stroke-width="0.5"/>
<ellipse cx="487.7" cy="337.4" rx="1.2" ry="1.2" fill="none" stroke="#222" stroke-width="0.5"/>
<rect x="495" y="359.5" width="24" height="7" rx="3.5" fill="#fff" stroke="#222" stroke-width="1.5" transform="rotate(-18 507 363)"/>
<rect x="495" y="358.8" width="24" height="7" rx="3.5" fill="#fff" transform="rotate(-18 507 362.3)"/>
<rect x="495" y="358.1" width="24" height="7" rx="3.5" fill="#fff" transform="rotate(-18 507 361.6)"/>
<rect x="495" y="357.4" width="24" height="7" rx="3.5" fill="#fff" transform="rotate(-18 507 360.9)"/>
<rect x="495" y="356.6" width="24" height="7" rx="3.5" fill="#fff" transform="rotate(-18 507 360.1)"/>
<rect x="495" y="355.9" width="24" height="7" rx="3.5" fill="#fff" transform="rotate(-18 507 359.4)"/>
<rect x="495" y="355.2" width="24" height="7" rx="3.5" fill="#fff" transform="rotate(-18 507 358.7)"/>
<rect x="495" y="354.5" width="24" height="7" rx="3.5" fill="#fff" transform="rotate(-18 507 358)"/>
<rect x="495" y="354.5" width="24" height="7" rx="3.5" fill="#fff" stroke="#222" stroke-width="1.5" transform="rotate(-18 507 358)"/>
<polyline points="437,131 660,263" fill="none" stroke="#333" stroke-width="0.75" stroke-linejoin="round"/>
<polygon points="432.3,127.2 447,135.7 449.8,131 435,122.5" fill="#fff" stroke="#222" stroke-width="1.4" stroke-linejoin="round"/>
<line x1="434.4" y1="128.4" x2="437.8" y2="124.1" stroke="#222" stroke-width="0.7"/>
<line x1="436.5" y1="129.7" x2="439.9" y2="125.3" stroke="#222" stroke-width="0.7"/>
<line x1="438.6" y1="130.9" x2="442" y2="126.5" stroke="#222" stroke-width="0.7"/>
<line x1="440.7" y1="132.1" x2="444.1" y2="127.7" stroke="#222" stroke-width="0.7"/>
<line x1="442.8" y1="133.3" x2="446.3" y2="128.9" stroke="#222" stroke-width="0.7"/>
<line x1="444.9" y1="134.5" x2="448.4" y2="130.2" stroke="#222" stroke-width="0.7"/>
<ellipse cx="427" cy="121" rx="3.3" ry="5.5" fill="#fff" stroke="#222" stroke-width="1.4" transform="rotate(210 427 121)"/>
<polygon points="436.4,120.1 429.8,116.2 424.2,125.8 430.9,129.6" fill="#fff" stroke="none" stroke-width="0" stroke-linejoin="round"/>
<line x1="436.4" y1="120.1" x2="429.8" y2="116.2" stroke="#222" stroke-width="1.4"/>
<line x1="430.9" y1="129.6" x2="424.2" y2="125.8" stroke="#222" stroke-width="1.4"/>
<ellipse cx="433.7" cy="124.8" rx="3.3" ry="5.5" fill="#fff" stroke="#222" stroke-width="1.4" transform="rotate(210 433.7 124.8)"/>
<polygon points="432.3,127.2 447,135.7 449.8,131 435,122.5" fill="#fff" stroke="#222" stroke-width="1.4" stroke-linejoin="round"/>
<line x1="434.4" y1="128.4" x2="437.8" y2="124.1" stroke="#222" stroke-width="0.7"/>
<line x1="436.5" y1="129.7" x2="439.9" y2="125.3" stroke="#222" stroke-width="0.7"/>
<line x1="438.6" y1="130.9" x2="442" y2="126.5" stroke="#222" stroke-width="0.7"/>
<line x1="440.7" y1="132.1" x2="444.1" y2="127.7" stroke="#222" stroke-width="0.7"/>
<line x1="442.8" y1="133.3" x2="446.3" y2="128.9" stroke="#222" stroke-width="0.7"/>
<line x1="444.9" y1="134.5" x2="448.4" y2="130.2" stroke="#222" stroke-width="0.7"/>
<line x1="451" y1="135" x2="465" y2="143" stroke="#222" stroke-width="0.7"/>
<ellipse cx="467.9" cy="165.5" rx="17.9" ry="31" fill="#fff" stroke="#222" stroke-width="1.8" transform="rotate(210 467.9 165.5)"/>
<polygon points="489.5,142.2 483.4,138.7 452.4,192.3 458.5,195.8" fill="#fff" stroke="none" stroke-width="0" stroke-linejoin="round"/>
<line x1="489.5" y1="142.2" x2="483.4" y2="138.7" stroke="#222" stroke-width="1.8"/>
<line x1="458.5" y1="195.8" x2="452.4" y2="192.3" stroke="#222" stroke-width="1.8"/>
<ellipse cx="474" cy="169" rx="17.9" ry="31" fill="#fff" stroke="#222" stroke-width="1.8" transform="rotate(210 474 169)"/>
<ellipse cx="474" cy="169" rx="15.6" ry="27" fill="none" stroke="#222" stroke-width="0.7" transform="rotate(30 474 169)"/>
<ellipse cx="478" cy="167" rx="11" ry="19" fill="none" stroke="#222" stroke-width="1.0" transform="rotate(30 478 167)"/>
<ellipse cx="479" cy="166.5" rx="9.2" ry="16" fill="none" stroke="#222" stroke-width="0.7" transform="rotate(30 479 166.5)"/>
<ellipse cx="468" cy="147" rx="1.5" ry="1.5" fill="#fff" stroke="#222" stroke-width="0.7"/>
<ellipse cx="488" cy="155" rx="1.5" ry="1.5" fill="#fff" stroke="#222" stroke-width="0.7"/>
<ellipse cx="460" cy="183" rx="1.5" ry="1.5" fill="#fff" stroke="#222" stroke-width="0.7"/>
<ellipse cx="480" cy="191" rx="1.5" ry="1.5" fill="#fff" stroke="#222" stroke-width="0.7"/>
<ellipse cx="492" cy="173" rx="1.5" ry="1.5" fill="#fff" stroke="#222" stroke-width="0.7"/>
<ellipse cx="456" cy="165" rx="1.5" ry="1.5" fill="#fff" stroke="#222" stroke-width="0.7"/>
<ellipse cx="508.5" cy="189" rx="12.7" ry="22" fill="#fff" stroke="#222" stroke-width="1.5" transform="rotate(210 508.5 189)"/>
<polygon points="523,171.9 519.5,169.9 497.5,208.1 501,210.1" fill="#fff" stroke="none" stroke-width="0" stroke-linejoin="round"/>
<line x1="523" y1="171.9" x2="519.5" y2="169.9" stroke="#222" stroke-width="1.5"/>
<line x1="501" y1="210.1" x2="497.5" y2="208.1" stroke="#222" stroke-width="1.5"/>
<ellipse cx="512" cy="191" rx="12.7" ry="22" fill="#fff" stroke="#222" stroke-width="1.5" transform="rotate(210 512 191)"/>
<ellipse cx="512" cy="191" rx="10.1" ry="17.5" fill="none" stroke="#222" stroke-width="1.9" transform="rotate(210 512 191)"/>
<ellipse cx="541.9" cy="209.5" rx="12.1" ry="21" fill="#fff" stroke="#222" stroke-width="1.4" transform="rotate(210 541.9 209.5)"/>
<polygon points="555,192.8 552.4,191.3 531.4,227.7 534,229.2" fill="#fff" stroke="none" stroke-width="0" stroke-linejoin="round"/>
<line x1="555" y1="192.8" x2="552.4" y2="191.3" stroke="#222" stroke-width="1.4"/>
<line x1="534" y1="229.2" x2="531.4" y2="227.7" stroke="#222" stroke-width="1.4"/>
<ellipse cx="544.5" cy="211" rx="12.1" ry="21" fill="#fff" stroke="#222" stroke-width="1.4" transform="rotate(210 544.5 211)"/>
<ellipse cx="544.5" cy="211" rx="8.9" ry="15.5" fill="none" stroke="#222" stroke-width="1.6" transform="rotate(210 544.5 211)"/>
<ellipse cx="577.3" cy="228.8" rx="12.7" ry="22" fill="#fff" stroke="#222" stroke-width="1.8" transform="rotate(210 577.3 228.8)"/>
<polygon points="596.5,214.4 588.3,209.7 566.3,247.8 574.5,252.6" fill="#fff" stroke="none" stroke-width="0" stroke-linejoin="round"/>
<line x1="596.5" y1="214.4" x2="588.3" y2="209.7" stroke="#222" stroke-width="1.8"/>
<line x1="574.5" y1="252.6" x2="566.3" y2="247.8" stroke="#222" stroke-width="1.8"/>
<ellipse cx="585.5" cy="233.5" rx="12.7" ry="22" fill="#fff" stroke="#222" stroke-width="1.8" transform="rotate(210 585.5 233.5)"/>
<ellipse cx="585.5" cy="233.5" rx="11.4" ry="19.8" fill="none" stroke="#222" stroke-width="0.6" transform="rotate(210 585.5 233.5)"/>
<ellipse cx="585.5" cy="233.5" rx="10.2" ry="17.6" fill="none" stroke="#222" stroke-width="0.7" transform="rotate(210 585.5 233.5)"/>
<ellipse cx="585.5" cy="233.5" rx="7.6" ry="13.2" fill="none" stroke="#222" stroke-width="0.7" transform="rotate(210 585.5 233.5)"/>
<ellipse cx="585.5" cy="233.5" rx="6.3" ry="11" fill="none" stroke="#222" stroke-width="1.0" transform="rotate(210 585.5 233.5)"/>
<ellipse cx="577.8" cy="229.1" rx="1.5" ry="1.5" fill="none" stroke="#222" stroke-width="0.5"/>
<ellipse cx="582.7" cy="223" rx="1.5" ry="1.5" fill="none" stroke="#222" stroke-width="0.5"/>
<ellipse cx="588.3" cy="219.7" rx="1.5" ry="1.5" fill="none" stroke="#222" stroke-width="0.5"/>
<ellipse cx="593.2" cy="220.2" rx="1.5" ry="1.5" fill="none" stroke="#222" stroke-width="0.5"/>
<ellipse cx="596" cy="224.2" rx="1.5" ry="1.5" fill="none" stroke="#222" stroke-width="0.5"/>
<ellipse cx="596" cy="230.7" rx="1.5" ry="1.5" fill="none" stroke="#222" stroke-width="0.5"/>
<ellipse cx="593.2" cy="237.9" rx="1.5" ry="1.5" fill="none" stroke="#222" stroke-width="0.5"/>
<ellipse cx="588.3" cy="244" rx="1.5" ry="1.5" fill="none" stroke="#222" stroke-width="0.5"/>
<ellipse cx="582.7" cy="247.3" rx="1.5" ry="1.5" fill="none" stroke="#222" stroke-width="0.5"/>
<ellipse cx="577.8" cy="246.8" rx="1.5" ry="1.5" fill="none" stroke="#222" stroke-width="0.5"/>
<ellipse cx="575" cy="242.8" rx="1.5" ry="1.5" fill="none" stroke="#222" stroke-width="0.5"/>
<ellipse cx="575" cy="236.3" rx="1.5" ry="1.5" fill="none" stroke="#222" stroke-width="0.5"/>
<ellipse cx="617.3" cy="251.2" rx="12.7" ry="22" fill="#fff" stroke="#222" stroke-width="1.8" transform="rotate(210 617.3 251.2)"/>
<polygon points="636.5,236.9 628.3,232.2 606.3,270.3 614.5,275.1" fill="#fff" stroke="none" stroke-width="0" stroke-linejoin="round"/>
<line x1="636.5" y1="236.9" x2="628.3" y2="232.2" stroke="#222" stroke-width="1.8"/>
<line x1="614.5" y1="275.1" x2="606.3" y2="270.3" stroke="#222" stroke-width="1.8"/>
<ellipse cx="625.5" cy="256" rx="12.7" ry="22" fill="#fff" stroke="#222" stroke-width="1.8" transform="rotate(210 625.5 256)"/>
<ellipse cx="625.5" cy="256" rx="11.4" ry="19.8" fill="none" stroke="#222" stroke-width="0.6" transform="rotate(210 625.5 256)"/>
<ellipse cx="625.5" cy="256" rx="10.2" ry="17.6" fill="none" stroke="#222" stroke-width="0.7" transform="rotate(210 625.5 256)"/>
<ellipse cx="625.5" cy="256" rx="7.6" ry="13.2" fill="none" stroke="#222" stroke-width="0.7" transform="rotate(210 625.5 256)"/>
<ellipse cx="625.5" cy="256" rx="6.3" ry="11" fill="none" stroke="#222" stroke-width="1.0" transform="rotate(210 625.5 256)"/>
<ellipse cx="617.8" cy="251.6" rx="1.5" ry="1.5" fill="none" stroke="#222" stroke-width="0.5"/>
<ellipse cx="622.7" cy="245.5" rx="1.5" ry="1.5" fill="none" stroke="#222" stroke-width="0.5"/>
<ellipse cx="628.3" cy="242.2" rx="1.5" ry="1.5" fill="none" stroke="#222" stroke-width="0.5"/>
<ellipse cx="633.2" cy="242.7" rx="1.5" ry="1.5" fill="none" stroke="#222" stroke-width="0.5"/>
<ellipse cx="636" cy="246.7" rx="1.5" ry="1.5" fill="none" stroke="#222" stroke-width="0.5"/>
<ellipse cx="636" cy="253.2" rx="1.5" ry="1.5" fill="none" stroke="#222" stroke-width="0.5"/>
<ellipse cx="633.2" cy="260.4" rx="1.5" ry="1.5" fill="none" stroke="#222" stroke-width="0.5"/>
<ellipse cx="628.3" cy="266.5" rx="1.5" ry="1.5" fill="none" stroke="#222" stroke-width="0.5"/>
<ellipse cx="622.7" cy="269.8" rx="1.5" ry="1.5" fill="none" stroke="#222" stroke-width="0.5"/>
<ellipse cx="617.8" cy="269.3" rx="1.5" ry="1.5" fill="none" stroke="#222" stroke-width="0.5"/>
<ellipse cx="615" cy="265.3" rx="1.5" ry="1.5" fill="none" stroke="#222" stroke-width="0.5"/>
<ellipse cx="615" cy="258.8" rx="1.5" ry="1.5" fill="none" stroke="#222" stroke-width="0.5"/>
<polyline points="804,219.7 955,133" fill="none" stroke="#333" stroke-width="0.75" stroke-linejoin="round"/>
<polyline points="804,219.7 789.4,228.3 847,261.4 838.8,266.6" fill="none" stroke="#222" stroke-width="0.8" stroke-linejoin="round" stroke-dasharray="12 3 2 3"/>
<line x1="981" y1="118.7" x2="991.5" y2="112.8" stroke="#222" stroke-width="0.8"/>
<line x1="982.7" y1="145" x2="1019" y2="126" stroke="#222" stroke-width="0.8" stroke-dasharray="8 3 2 3"/>
<polyline points="845,289 1250,55" fill="none" stroke="#333" stroke-width="0.75" stroke-linejoin="round"/>
<ellipse cx="824.8" cy="207.7" rx="13.6" ry="23.6" fill="#fff" stroke="#222" stroke-width="1.7" transform="rotate(-30 824.8 207.7)"/>
<polygon points="832.5,230.4 836.6,228.1 813,187.2 808.9,189.6" fill="#fff" stroke="none" stroke-width="0" stroke-linejoin="round"/>
<line x1="832.5" y1="230.4" x2="836.6" y2="228.1" stroke="#222" stroke-width="1.7"/>
<line x1="808.9" y1="189.6" x2="813" y2="187.2" stroke="#222" stroke-width="1.7"/>
<ellipse cx="820.7" cy="210" rx="13.6" ry="23.6" fill="#fff" stroke="#222" stroke-width="1.7" transform="rotate(-30 820.7 210)"/>
<ellipse cx="820.7" cy="210" rx="11.8" ry="20.5" fill="none" stroke="#222" stroke-width="0.7" transform="rotate(-30 820.7 210)"/>
<ellipse cx="820.7" cy="210" rx="9.8" ry="17" fill="none" stroke="#222" stroke-width="1.1" transform="rotate(-30 820.7 210)"/>
<ellipse cx="860.7" cy="186.4" rx="12.3" ry="21.3" fill="#fff" stroke="#222" stroke-width="1.8" transform="rotate(-30 860.7 186.4)"/>
<polygon points="862.4,210 871.4,204.9 850.1,168 841.1,173.2" fill="#fff" stroke="none" stroke-width="0" stroke-linejoin="round"/>
<line x1="862.4" y1="210" x2="871.4" y2="204.9" stroke="#222" stroke-width="1.8"/>
<line x1="841.1" y1="173.2" x2="850.1" y2="168" stroke="#222" stroke-width="1.8"/>
<ellipse cx="851.8" cy="191.6" rx="12.3" ry="21.3" fill="#fff" stroke="#222" stroke-width="1.8" transform="rotate(-30 851.8 191.6)"/>
<ellipse cx="851.8" cy="191.6" rx="11.1" ry="19.2" fill="none" stroke="#222" stroke-width="0.6" transform="rotate(-30 851.8 191.6)"/>
<ellipse cx="851.8" cy="191.6" rx="9.8" ry="17" fill="none" stroke="#222" stroke-width="0.7" transform="rotate(-30 851.8 191.6)"/>
<ellipse cx="851.8" cy="191.6" rx="7.4" ry="12.8" fill="none" stroke="#222" stroke-width="0.7" transform="rotate(-30 851.8 191.6)"/>
<ellipse cx="851.8" cy="191.6" rx="6.1" ry="10.7" fill="none" stroke="#222" stroke-width="1.0" transform="rotate(-30 851.8 191.6)"/>
<ellipse cx="859.3" cy="187.3" rx="1.5" ry="1.5" fill="none" stroke="#222" stroke-width="0.5"/>
<ellipse cx="862" cy="194.3" rx="1.5" ry="1.5" fill="none" stroke="#222" stroke-width="0.5"/>
<ellipse cx="862" cy="200.6" rx="1.5" ry="1.5" fill="none" stroke="#222" stroke-width="0.5"/>
<ellipse cx="859.3" cy="204.5" rx="1.5" ry="1.5" fill="none" stroke="#222" stroke-width="0.5"/>
<ellipse cx="854.5" cy="204.9" rx="1.5" ry="1.5" fill="none" stroke="#222" stroke-width="0.5"/>
<ellipse cx="849.1" cy="201.8" rx="1.5" ry="1.5" fill="none" stroke="#222" stroke-width="0.5"/>
<ellipse cx="844.3" cy="195.9" rx="1.5" ry="1.5" fill="none" stroke="#222" stroke-width="0.5"/>
<ellipse cx="841.6" cy="188.9" rx="1.5" ry="1.5" fill="none" stroke="#222" stroke-width="0.5"/>
<ellipse cx="841.6" cy="182.6" rx="1.5" ry="1.5" fill="none" stroke="#222" stroke-width="0.5"/>
<ellipse cx="844.3" cy="178.7" rx="1.5" ry="1.5" fill="none" stroke="#222" stroke-width="0.5"/>
<ellipse cx="849.1" cy="178.3" rx="1.5" ry="1.5" fill="none" stroke="#222" stroke-width="0.5"/>
<ellipse cx="854.5" cy="181.4" rx="1.5" ry="1.5" fill="none" stroke="#222" stroke-width="0.5"/>
<ellipse cx="895.9" cy="165.8" rx="12.3" ry="21.3" fill="#fff" stroke="#222" stroke-width="1.8" transform="rotate(-30 895.9 165.8)"/>
<polygon points="897.6,189.4 906.6,184.3 885.3,147.4 876.4,152.6" fill="#fff" stroke="none" stroke-width="0" stroke-linejoin="round"/>
<line x1="897.6" y1="189.4" x2="906.6" y2="184.3" stroke="#222" stroke-width="1.8"/>
<line x1="876.4" y1="152.6" x2="885.3" y2="147.4" stroke="#222" stroke-width="1.8"/>
<ellipse cx="887" cy="171" rx="12.3" ry="21.3" fill="#fff" stroke="#222" stroke-width="1.8" transform="rotate(-30 887 171)"/>
<ellipse cx="887" cy="171" rx="11.1" ry="19.2" fill="none" stroke="#222" stroke-width="0.6" transform="rotate(-30 887 171)"/>
<ellipse cx="887" cy="171" rx="9.8" ry="17" fill="none" stroke="#222" stroke-width="0.7" transform="rotate(-30 887 171)"/>
<ellipse cx="887" cy="171" rx="7.4" ry="12.8" fill="none" stroke="#222" stroke-width="0.7" transform="rotate(-30 887 171)"/>
<ellipse cx="887" cy="171" rx="6.1" ry="10.7" fill="none" stroke="#222" stroke-width="1.0" transform="rotate(-30 887 171)"/>
<ellipse cx="894.5" cy="166.7" rx="1.5" ry="1.5" fill="none" stroke="#222" stroke-width="0.5"/>
<ellipse cx="897.2" cy="173.7" rx="1.5" ry="1.5" fill="none" stroke="#222" stroke-width="0.5"/>
<ellipse cx="897.2" cy="180" rx="1.5" ry="1.5" fill="none" stroke="#222" stroke-width="0.5"/>
<ellipse cx="894.5" cy="183.9" rx="1.5" ry="1.5" fill="none" stroke="#222" stroke-width="0.5"/>
<ellipse cx="889.7" cy="184.3" rx="1.5" ry="1.5" fill="none" stroke="#222" stroke-width="0.5"/>
<ellipse cx="884.3" cy="181.2" rx="1.5" ry="1.5" fill="none" stroke="#222" stroke-width="0.5"/>
<ellipse cx="879.5" cy="175.3" rx="1.5" ry="1.5" fill="none" stroke="#222" stroke-width="0.5"/>
<ellipse cx="876.8" cy="168.3" rx="1.5" ry="1.5" fill="none" stroke="#222" stroke-width="0.5"/>
<ellipse cx="876.8" cy="162" rx="1.5" ry="1.5" fill="none" stroke="#222" stroke-width="0.5"/>
<ellipse cx="879.5" cy="158.1" rx="1.5" ry="1.5" fill="none" stroke="#222" stroke-width="0.5"/>
<ellipse cx="884.3" cy="157.7" rx="1.5" ry="1.5" fill="none" stroke="#222" stroke-width="0.5"/>
<ellipse cx="889.7" cy="160.8" rx="1.5" ry="1.5" fill="none" stroke="#222" stroke-width="0.5"/>
<ellipse cx="925.5" cy="149.1" rx="10" ry="17.4" fill="#fff" stroke="#222" stroke-width="1.0" transform="rotate(-30 925.5 149.1)"/>
<polygon points="933.5,164.6 934.2,164.2 916.8,134 916.1,134.4" fill="#fff" stroke="none" stroke-width="0" stroke-linejoin="round"/>
<line x1="933.5" y1="164.6" x2="934.2" y2="164.2" stroke="#222" stroke-width="1.0"/>
<line x1="916.1" y1="134.4" x2="916.8" y2="134" stroke="#222" stroke-width="1.0"/>
<ellipse cx="924.8" cy="149.5" rx="10" ry="17.4" fill="#fff" stroke="#222" stroke-width="1.0" transform="rotate(-30 924.8 149.5)"/>
<ellipse cx="924.8" cy="149.5" rx="8.9" ry="15.5" fill="none" stroke="#222" stroke-width="1.0" transform="rotate(-30 924.8 149.5)"/>
<ellipse cx="961.4" cy="128.5" rx="17.3" ry="30" fill="#fff" stroke="#222" stroke-width="1.8" transform="rotate(-30 961.4 128.5)"/>
<polygon points="967.7,159.5 976.4,154.5 946.4,102.5 937.7,107.5" fill="#fff" stroke="none" stroke-width="0" stroke-linejoin="round"/>
<line x1="967.7" y1="159.5" x2="976.4" y2="154.5" stroke="#222" stroke-width="1.8"/>
<line x1="937.7" y1="107.5" x2="946.4" y2="102.5" stroke="#222" stroke-width="1.8"/>
<ellipse cx="952.7" cy="133.5" rx="17.3" ry="30" fill="#fff" stroke="#222" stroke-width="1.8" transform="rotate(-30 952.7 133.5)"/>
<ellipse cx="952.7" cy="133.5" rx="15" ry="26" fill="none" stroke="#222" stroke-width="0.7" transform="rotate(-30 952.7 133.5)"/>
<ellipse cx="951" cy="134.5" rx="9.8" ry="17" fill="none" stroke="#222" stroke-width="1.0" transform="rotate(-30 951 134.5)"/>
<ellipse cx="951" cy="134.5" rx="6.9" ry="12" fill="none" stroke="#222" stroke-width="1.5" transform="rotate(-30 951 134.5)"/>
<ellipse cx="946.7" cy="111.5" rx="1.5" ry="1.5" fill="#fff" stroke="#222" stroke-width="0.7"/>
<ellipse cx="966.7" cy="119.5" rx="1.5" ry="1.5" fill="#fff" stroke="#222" stroke-width="0.7"/>
<ellipse cx="938.7" cy="147.5" rx="1.5" ry="1.5" fill="#fff" stroke="#222" stroke-width="0.7"/>
<ellipse cx="958.7" cy="155.5" rx="1.5" ry="1.5" fill="#fff" stroke="#222" stroke-width="0.7"/>
<ellipse cx="970.7" cy="137.5" rx="1.5" ry="1.5" fill="#fff" stroke="#222" stroke-width="0.7"/>
<ellipse cx="934.7" cy="129.5" rx="1.5" ry="1.5" fill="#fff" stroke="#222" stroke-width="0.7"/>
<polygon points="1033.9,111.7 1019.2,120.2 1022.3,125.5 1037,117" fill="#fff" stroke="#222" stroke-width="1.4" stroke-linejoin="round"/>
<line x1="1031.8" y1="112.9" x2="1034.2" y2="118.6" stroke="#222" stroke-width="0.7"/>
<line x1="1029.7" y1="114.1" x2="1032.1" y2="119.9" stroke="#222" stroke-width="0.7"/>
<line x1="1027.6" y1="115.3" x2="1030" y2="121.1" stroke="#222" stroke-width="0.7"/>
<line x1="1025.5" y1="116.5" x2="1027.9" y2="122.3" stroke="#222" stroke-width="0.7"/>
<line x1="1023.4" y1="117.7" x2="1025.8" y2="123.5" stroke="#222" stroke-width="0.7"/>
<line x1="1021.3" y1="118.9" x2="1023.7" y2="124.7" stroke="#222" stroke-width="0.7"/>
<ellipse cx="1035.5" cy="114.3" rx="3.7" ry="6.2" fill="#fff" stroke="#222" stroke-width="1.4" transform="rotate(150 1035.5 114.3)"/>
<polygon points="1039.9,104.6 1032.4,109 1038.6,119.7 1046.1,115.4" fill="#fff" stroke="none" stroke-width="0" stroke-linejoin="round"/>
<line x1="1039.9" y1="104.6" x2="1032.4" y2="109" stroke="#222" stroke-width="1.4"/>
<line x1="1046.1" y1="115.4" x2="1038.6" y2="119.7" stroke="#222" stroke-width="1.4"/>
<ellipse cx="1043" cy="110" rx="3.7" ry="6.2" fill="#fff" stroke="#222" stroke-width="1.4" transform="rotate(150 1043 110)"/>
<ellipse cx="1043" cy="110" rx="1.9" ry="3.1" fill="none" stroke="#222" stroke-width="0.8" transform="rotate(150 1043 110)"/>
<ellipse cx="883.3" cy="272.8" rx="19" ry="33" fill="#fff" stroke="#222" stroke-width="1.8" transform="rotate(-30 883.3 272.8)"/>
<polygon points="891.3,306.3 899.8,301.4 866.8,244.2 858.3,249.1" fill="#fff" stroke="none" stroke-width="0" stroke-linejoin="round"/>
<line x1="891.3" y1="306.3" x2="899.8" y2="301.4" stroke="#222" stroke-width="1.8"/>
<line x1="858.3" y1="249.1" x2="866.8" y2="244.2" stroke="#222" stroke-width="1.8"/>
<ellipse cx="874.8" cy="277.7" rx="19" ry="33" fill="#fff" stroke="#222" stroke-width="1.8" transform="rotate(-30 874.8 277.7)"/>
<ellipse cx="874.8" cy="277.7" rx="17.1" ry="29.7" fill="none" stroke="#222" stroke-width="0.6" transform="rotate(-30 874.8 277.7)"/>
<ellipse cx="874.8" cy="277.7" rx="15.2" ry="26.4" fill="none" stroke="#222" stroke-width="0.7" transform="rotate(-30 874.8 277.7)"/>
<ellipse cx="874.8" cy="277.7" rx="11.4" ry="19.8" fill="none" stroke="#222" stroke-width="0.7" transform="rotate(-30 874.8 277.7)"/>
<ellipse cx="874.8" cy="277.7" rx="9.5" ry="16.5" fill="none" stroke="#222" stroke-width="1.0" transform="rotate(-30 874.8 277.7)"/>
<ellipse cx="886.3" cy="271" rx="2.3" ry="2.3" fill="none" stroke="#222" stroke-width="0.5"/>
<ellipse cx="889.6" cy="278.3" rx="2.3" ry="2.3" fill="none" stroke="#222" stroke-width="0.5"/>
<ellipse cx="891.1" cy="285.5" rx="2.3" ry="2.3" fill="none" stroke="#222" stroke-width="0.5"/>
<ellipse cx="890.6" cy="291.7" rx="2.3" ry="2.3" fill="none" stroke="#222" stroke-width="0.5"/>
<ellipse cx="888.2" cy="296.2" rx="2.3" ry="2.3" fill="none" stroke="#222" stroke-width="0.5"/>
<ellipse cx="884.2" cy="298.6" rx="2.3" ry="2.3" fill="none" stroke="#222" stroke-width="0.5"/>
<ellipse cx="879" cy="298.4" rx="2.3" ry="2.3" fill="none" stroke="#222" stroke-width="0.5"/>
<ellipse cx="873.4" cy="295.7" rx="2.3" ry="2.3" fill="none" stroke="#222" stroke-width="0.5"/>
<ellipse cx="867.9" cy="290.8" rx="2.3" ry="2.3" fill="none" stroke="#222" stroke-width="0.5"/>
<ellipse cx="863.3" cy="284.4" rx="2.3" ry="2.3" fill="none" stroke="#222" stroke-width="0.5"/>
<ellipse cx="860" cy="277.1" rx="2.3" ry="2.3" fill="none" stroke="#222" stroke-width="0.5"/>
<ellipse cx="858.5" cy="269.9" rx="2.3" ry="2.3" fill="none" stroke="#222" stroke-width="0.5"/>
<ellipse cx="859" cy="263.7" rx="2.3" ry="2.3" fill="none" stroke="#222" stroke-width="0.5"/>
<ellipse cx="861.4" cy="259.2" rx="2.3" ry="2.3" fill="none" stroke="#222" stroke-width="0.5"/>
<ellipse cx="865.4" cy="256.8" rx="2.3" ry="2.3" fill="none" stroke="#222" stroke-width="0.5"/>
<ellipse cx="870.6" cy="257" rx="2.3" ry="2.3" fill="none" stroke="#222" stroke-width="0.5"/>
<ellipse cx="876.2" cy="259.7" rx="2.3" ry="2.3" fill="none" stroke="#222" stroke-width="0.5"/>
<ellipse cx="881.7" cy="264.6" rx="2.3" ry="2.3" fill="none" stroke="#222" stroke-width="0.5"/>
<ellipse cx="924.4" cy="247.9" rx="17.8" ry="30.9" fill="#fff" stroke="#222" stroke-width="2.0" transform="rotate(-30 924.4 247.9)"/>
<polygon points="937.8,275.9 939.8,274.7 908.9,221.1 906.8,222.3" fill="#fff" stroke="none" stroke-width="0" stroke-linejoin="round"/>
<line x1="937.8" y1="275.9" x2="939.8" y2="274.7" stroke="#222" stroke-width="2.0"/>
<line x1="906.8" y1="222.3" x2="908.9" y2="221.1" stroke="#222" stroke-width="2.0"/>
<ellipse cx="922.3" cy="249.1" rx="17.8" ry="30.9" fill="#fff" stroke="#222" stroke-width="2.0" transform="rotate(-30 922.3 249.1)"/>
<ellipse cx="922.3" cy="249.1" rx="15.6" ry="27" fill="none" stroke="#222" stroke-width="2.0" transform="rotate(-30 922.3 249.1)"/>
<ellipse cx="957.9" cy="229.4" rx="12.4" ry="21.5" fill="#fff" stroke="#222" stroke-width="2.2" transform="rotate(-30 957.9 229.4)"/>
<polygon points="967.8,248.5 968.6,248 947.1,210.8 946.2,211.3" fill="#fff" stroke="none" stroke-width="0" stroke-linejoin="round"/>
<line x1="967.8" y1="248.5" x2="968.6" y2="248" stroke="#222" stroke-width="2.2"/>
<line x1="946.2" y1="211.3" x2="947.1" y2="210.8" stroke="#222" stroke-width="2.2"/>
<ellipse cx="957" cy="229.9" rx="12.4" ry="21.5" fill="#fff" stroke="#222" stroke-width="2.2" transform="rotate(-30 957 229.9)"/>
<ellipse cx="957" cy="229.9" rx="10.7" ry="18.5" fill="none" stroke="#222" stroke-width="2.0" transform="rotate(-30 957 229.9)"/>
<ellipse cx="993.1" cy="209.2" rx="17.4" ry="30.1" fill="#fff" stroke="#222" stroke-width="1.8" transform="rotate(-30 993.1 209.2)"/>
<polygon points="1002.9,238.3 1008.1,235.3 978,183.1 972.9,186.1" fill="#fff" stroke="none" stroke-width="0" stroke-linejoin="round"/>
<line x1="1002.9" y1="238.3" x2="1008.1" y2="235.3" stroke="#222" stroke-width="1.8"/>
<line x1="972.9" y1="186.1" x2="978" y2="183.1" stroke="#222" stroke-width="1.8"/>
<ellipse cx="987.9" cy="212.2" rx="17.4" ry="30.1" fill="#fff" stroke="#222" stroke-width="1.8" transform="rotate(-30 987.9 212.2)"/>
<ellipse cx="987.9" cy="212.2" rx="14.4" ry="25" fill="none" stroke="#222" stroke-width="1.6" transform="rotate(-30 987.9 212.2)"/>
<ellipse cx="1028.3" cy="188.1" rx="11.8" ry="20.4" fill="#fff" stroke="#222" stroke-width="1.7" transform="rotate(-30 1028.3 188.1)"/>
<polygon points="1033.6,208.6 1038.5,205.7 1018.1,170.4 1013.2,173.2" fill="#fff" stroke="none" stroke-width="0" stroke-linejoin="round"/>
<line x1="1033.6" y1="208.6" x2="1038.5" y2="205.7" stroke="#222" stroke-width="1.7"/>
<line x1="1013.2" y1="173.2" x2="1018.1" y2="170.4" stroke="#222" stroke-width="1.7"/>
<ellipse cx="1023.4" cy="190.9" rx="11.8" ry="20.4" fill="#fff" stroke="#222" stroke-width="1.7" transform="rotate(-30 1023.4 190.9)"/>
<ellipse cx="1023.4" cy="190.9" rx="9.2" ry="16" fill="none" stroke="#222" stroke-width="1.6" transform="rotate(-30 1023.4 190.9)"/>
<ellipse cx="1074.1" cy="161.7" rx="18.8" ry="32.6" fill="#fff" stroke="#222" stroke-width="1.8" transform="rotate(-30 1074.1 161.7)"/>
<polygon points="1081.7,194.9 1090.4,189.9 1057.8,133.5 1049.1,138.5" fill="#fff" stroke="none" stroke-width="0" stroke-linejoin="round"/>
<line x1="1081.7" y1="194.9" x2="1090.4" y2="189.9" stroke="#222" stroke-width="1.8"/>
<line x1="1049.1" y1="138.5" x2="1057.8" y2="133.5" stroke="#222" stroke-width="1.8"/>
<ellipse cx="1065.4" cy="166.7" rx="18.8" ry="32.6" fill="#fff" stroke="#222" stroke-width="1.8" transform="rotate(-30 1065.4 166.7)"/>
<ellipse cx="1065.4" cy="166.7" rx="16.9" ry="29.3" fill="none" stroke="#222" stroke-width="0.6" transform="rotate(-30 1065.4 166.7)"/>
<ellipse cx="1065.4" cy="166.7" rx="15" ry="26.1" fill="none" stroke="#222" stroke-width="0.7" transform="rotate(-30 1065.4 166.7)"/>
<ellipse cx="1065.4" cy="166.7" rx="11.3" ry="19.6" fill="none" stroke="#222" stroke-width="0.7" transform="rotate(-30 1065.4 166.7)"/>
<ellipse cx="1065.4" cy="166.7" rx="9.4" ry="16.3" fill="none" stroke="#222" stroke-width="1.0" transform="rotate(-30 1065.4 166.7)"/>
<ellipse cx="1076.8" cy="160.1" rx="2.3" ry="2.3" fill="none" stroke="#222" stroke-width="0.5"/>
<ellipse cx="1080" cy="167.3" rx="2.3" ry="2.3" fill="none" stroke="#222" stroke-width="0.5"/>
<ellipse cx="1081.5" cy="174.4" rx="2.3" ry="2.3" fill="none" stroke="#222" stroke-width="0.5"/>
<ellipse cx="1081" cy="180.5" rx="2.3" ry="2.3" fill="none" stroke="#222" stroke-width="0.5"/>
<ellipse cx="1078.6" cy="185" rx="2.3" ry="2.3" fill="none" stroke="#222" stroke-width="0.5"/>
<ellipse cx="1074.7" cy="187.3" rx="2.3" ry="2.3" fill="none" stroke="#222" stroke-width="0.5"/>
<ellipse cx="1069.6" cy="187.1" rx="2.3" ry="2.3" fill="none" stroke="#222" stroke-width="0.5"/>
<ellipse cx="1064" cy="184.4" rx="2.3" ry="2.3" fill="none" stroke="#222" stroke-width="0.5"/>
<ellipse cx="1058.6" cy="179.6" rx="2.3" ry="2.3" fill="none" stroke="#222" stroke-width="0.5"/>
<ellipse cx="1054" cy="173.3" rx="2.3" ry="2.3" fill="none" stroke="#222" stroke-width="0.5"/>
<ellipse cx="1050.8" cy="166.1" rx="2.3" ry="2.3" fill="none" stroke="#222" stroke-width="0.5"/>
<ellipse cx="1049.3" cy="159" rx="2.3" ry="2.3" fill="none" stroke="#222" stroke-width="0.5"/>
<ellipse cx="1049.8" cy="152.9" rx="2.3" ry="2.3" fill="none" stroke="#222" stroke-width="0.5"/>
<ellipse cx="1052.2" cy="148.4" rx="2.3" ry="2.3" fill="none" stroke="#222" stroke-width="0.5"/>
<ellipse cx="1056.1" cy="146.1" rx="2.3" ry="2.3" fill="none" stroke="#222" stroke-width="0.5"/>
<ellipse cx="1061.2" cy="146.3" rx="2.3" ry="2.3" fill="none" stroke="#222" stroke-width="0.5"/>
<ellipse cx="1066.8" cy="149" rx="2.3" ry="2.3" fill="none" stroke="#222" stroke-width="0.5"/>
<ellipse cx="1072.2" cy="153.8" rx="2.3" ry="2.3" fill="none" stroke="#222" stroke-width="0.5"/>
<ellipse cx="1115.8" cy="138.1" rx="18.6" ry="32.3" fill="#fff" stroke="#222" stroke-width="1.0" transform="rotate(-30 1115.8 138.1)"/>
<polygon points="1130.7,166.8 1131.9,166 1099.6,110.1 1098.3,110.8" fill="#fff" stroke="none" stroke-width="0" stroke-linejoin="round"/>
<line x1="1130.7" y1="166.8" x2="1131.9" y2="166" stroke="#222" stroke-width="1.0"/>
<line x1="1098.3" y1="110.8" x2="1099.6" y2="110.1" stroke="#222" stroke-width="1.0"/>
<ellipse cx="1114.5" cy="138.8" rx="18.6" ry="32.3" fill="#fff" stroke="#222" stroke-width="1.0" transform="rotate(-30 1114.5 138.8)"/>
<ellipse cx="1114.5" cy="138.8" rx="17.6" ry="30.5" fill="none" stroke="#222" stroke-width="1.0" transform="rotate(-30 1114.5 138.8)"/>
<ellipse cx="1159.5" cy="113.7" rx="16.7" ry="29" fill="#fff" stroke="#222" stroke-width="1.8" transform="rotate(-30 1159.5 113.7)"/>
<polygon points="1167.3,142.6 1174,138.8 1145,88.5 1138.3,92.4" fill="#fff" stroke="none" stroke-width="0" stroke-linejoin="round"/>
<line x1="1167.3" y1="142.6" x2="1174" y2="138.8" stroke="#222" stroke-width="1.8"/>
<line x1="1138.3" y1="92.4" x2="1145" y2="88.5" stroke="#222" stroke-width="1.8"/>
<ellipse cx="1152.8" cy="117.5" rx="16.7" ry="29" fill="#fff" stroke="#222" stroke-width="1.8" transform="rotate(-30 1152.8 117.5)"/>
<ellipse cx="1152.8" cy="117.5" rx="15" ry="26" fill="none" stroke="#222" stroke-width="0.7" transform="rotate(-30 1152.8 117.5)"/>
<ellipse cx="1152.8" cy="117.5" rx="13.8" ry="24" fill="none" stroke="#222" stroke-width="0.7" transform="rotate(-30 1152.8 117.5)"/>
<ellipse cx="1152.8" cy="117.5" rx="12.7" ry="22" fill="none" stroke="#222" stroke-width="1.9" transform="rotate(-30 1152.8 117.5)"/>
<ellipse cx="1213.1" cy="82.2" rx="25.4" ry="44" fill="#fff" stroke="#222" stroke-width="1.8" transform="rotate(-30 1213.1 82.2)"/>
<polygon points="1228.2,124.3 1235.1,120.3 1191.1,44.1 1184.2,48.1" fill="#fff" stroke="none" stroke-width="0" stroke-linejoin="round"/>
<line x1="1228.2" y1="124.3" x2="1235.1" y2="120.3" stroke="#222" stroke-width="1.8"/>
<line x1="1184.2" y1="48.1" x2="1191.1" y2="44.1" stroke="#222" stroke-width="1.8"/>
<ellipse cx="1206.2" cy="86.2" rx="25.4" ry="44" fill="#fff" stroke="#222" stroke-width="1.8" transform="rotate(-30 1206.2 86.2)"/>
<ellipse cx="1206.2" cy="86.2" rx="23.1" ry="40" fill="none" stroke="#222" stroke-width="0.7" transform="rotate(-30 1206.2 86.2)"/>
<ellipse cx="1210" cy="85" rx="17.3" ry="30" fill="none" stroke="#222" stroke-width="1.0" transform="rotate(-30 1210 85)"/>
<ellipse cx="1212" cy="84" rx="15.6" ry="27" fill="none" stroke="#222" stroke-width="0.7" transform="rotate(-30 1212 84)"/>
<ellipse cx="1213" cy="83.5" rx="13.8" ry="24" fill="none" stroke="#222" stroke-width="1.2" transform="rotate(-30 1213 83.5)"/>
<ellipse cx="1198.2" cy="54.2" rx="1.8" ry="1.8" fill="#fff" stroke="#222" stroke-width="0.7"/>
<ellipse cx="1226.2" cy="66.2" rx="1.8" ry="1.8" fill="#fff" stroke="#222" stroke-width="0.7"/>
<ellipse cx="1186.2" cy="106.2" rx="1.8" ry="1.8" fill="#fff" stroke="#222" stroke-width="0.7"/>
<ellipse cx="1214.2" cy="118.2" rx="1.8" ry="1.8" fill="#fff" stroke="#222" stroke-width="0.7"/>
<ellipse cx="1232.2" cy="92.2" rx="1.8" ry="1.8" fill="#fff" stroke="#222" stroke-width="0.7"/>
<ellipse cx="1180.2" cy="80.2" rx="1.8" ry="1.8" fill="#fff" stroke="#222" stroke-width="0.7"/>
<polyline points="1238,67 1249,61 1319,102 1277,126" fill="none" stroke="#222" stroke-width="0.8" stroke-linejoin="round" stroke-dasharray="12 3 2 3"/>
<polygon points="1266.9,90.7 1253.1,98.7 1256.2,104 1270,96" fill="#fff" stroke="#222" stroke-width="1.4" stroke-linejoin="round"/>
<line x1="1265" y1="91.8" x2="1267.4" y2="97.6" stroke="#222" stroke-width="0.7"/>
<line x1="1263" y1="92.9" x2="1265.4" y2="98.7" stroke="#222" stroke-width="0.7"/>
<line x1="1261" y1="94.1" x2="1263.4" y2="99.9" stroke="#222" stroke-width="0.7"/>
<line x1="1259" y1="95.2" x2="1261.4" y2="101" stroke="#222" stroke-width="0.7"/>
<line x1="1257" y1="96.4" x2="1259.4" y2="102.1" stroke="#222" stroke-width="0.7"/>
<line x1="1255.1" y1="97.5" x2="1257.5" y2="103.3" stroke="#222" stroke-width="0.7"/>
<ellipse cx="1268.5" cy="93.3" rx="3.7" ry="6.2" fill="#fff" stroke="#222" stroke-width="1.4" transform="rotate(150 1268.5 93.3)"/>
<polygon points="1272.9,83.6 1265.4,88 1271.6,98.7 1279.1,94.4" fill="#fff" stroke="none" stroke-width="0" stroke-linejoin="round"/>
<line x1="1272.9" y1="83.6" x2="1265.4" y2="88" stroke="#222" stroke-width="1.4"/>
<line x1="1279.1" y1="94.4" x2="1271.6" y2="98.7" stroke="#222" stroke-width="1.4"/>
<ellipse cx="1276" cy="89" rx="3.7" ry="6.2" fill="#fff" stroke="#222" stroke-width="1.4" transform="rotate(150 1276 89)"/>
<ellipse cx="1276" cy="89" rx="1.9" ry="3.1" fill="none" stroke="#222" stroke-width="0.8" transform="rotate(150 1276 89)"/>
<polygon points="1352,173.7 1334.9,169.1 1322.4,147.4 1327,130.3 1344,134.9 1356.5,156.6" fill="#fff" stroke="#222" stroke-width="1.7" stroke-linejoin="round"/>
<line x1="1352" y1="173.7" x2="1345" y2="177.7" stroke="#222" stroke-width="1.2"/>
<line x1="1334.9" y1="169.1" x2="1328" y2="173.1" stroke="#222" stroke-width="1.2"/>
<line x1="1322.4" y1="147.4" x2="1315.5" y2="151.4" stroke="#222" stroke-width="1.2"/>
<line x1="1327" y1="130.3" x2="1320" y2="134.3" stroke="#222" stroke-width="1.2"/>
<line x1="1344" y1="134.9" x2="1337.1" y2="138.9" stroke="#222" stroke-width="1.2"/>
<line x1="1356.5" y1="156.6" x2="1349.6" y2="160.6" stroke="#222" stroke-width="1.2"/>
<polygon points="1345,177.7 1328,173.1 1315.5,151.4 1320,134.3 1337.1,138.9 1349.6,160.6" fill="#fff" stroke="#222" stroke-width="1.7" stroke-linejoin="round"/>
<ellipse cx="1332.5" cy="156" rx="11" ry="19" fill="none" stroke="#222" stroke-width="0.7" transform="rotate(-30 1332.5 156)"/>
<ellipse cx="1332.5" cy="156" rx="6.9" ry="12" fill="none" stroke="#222" stroke-width="1.0" transform="rotate(-30 1332.5 156)"/>
<ellipse cx="1333.4" cy="155.5" rx="5.8" ry="10" fill="none" stroke="#222" stroke-width="0.7" transform="rotate(-30 1333.4 155.5)"/>
<polyline points="960,359 1320,151" fill="none" stroke="#333" stroke-width="0.75" stroke-linejoin="round"/>
<polyline points="882,352 1070,247" fill="none" stroke="#222" stroke-width="0.8" stroke-linejoin="round" stroke-dasharray="12 3 2 3"/>
<polyline points="882,352 950,391" fill="none" stroke="#222" stroke-width="0.8" stroke-linejoin="round" stroke-dasharray="12 3 2 3"/>
<ellipse cx="1155.9" cy="257.5" rx="8.1" ry="14" fill="#fff" stroke="#222" stroke-width="1.6" transform="rotate(-30 1155.9 257.5)"/>
<polygon points="1156,273.6 1162.9,269.6 1148.9,245.4 1142,249.4" fill="#fff" stroke="none" stroke-width="0" stroke-linejoin="round"/>
<line x1="1156" y1="273.6" x2="1162.9" y2="269.6" stroke="#222" stroke-width="1.6"/>
<line x1="1142" y1="249.4" x2="1148.9" y2="245.4" stroke="#222" stroke-width="1.6"/>
<ellipse cx="1149" cy="261.5" rx="8.1" ry="14" fill="#fff" stroke="#222" stroke-width="1.6" transform="rotate(-30 1149 261.5)"/>
<ellipse cx="1149" cy="261.5" rx="7.2" ry="12.5" fill="#fff" stroke="#222" stroke-width="1.6" transform="rotate(-30 1149 261.5)"/>
<polygon points="1127.5,288.3 1155.2,272.3 1142.7,250.7 1115,266.7" fill="#fff" stroke="none" stroke-width="0" stroke-linejoin="round"/>
<line x1="1127.5" y1="288.3" x2="1155.2" y2="272.3" stroke="#222" stroke-width="1.6"/>
<line x1="1115" y1="266.7" x2="1142.7" y2="250.7" stroke="#222" stroke-width="1.6"/>
<ellipse cx="1121.3" cy="277.5" rx="7.2" ry="12.5" fill="#fff" stroke="#222" stroke-width="1.6" transform="rotate(-30 1121.3 277.5)"/>
<ellipse cx="1121.3" cy="277.5" rx="16.2" ry="28" fill="#fff" stroke="#222" stroke-width="1.6" transform="rotate(-30 1121.3 277.5)"/>
<polygon points="1119.7,310.7 1135.3,301.7 1107.3,253.3 1091.7,262.3" fill="#fff" stroke="none" stroke-width="0" stroke-linejoin="round"/>
<line x1="1119.7" y1="310.7" x2="1135.3" y2="301.7" stroke="#222" stroke-width="1.6"/>
<line x1="1091.7" y1="262.3" x2="1107.3" y2="253.3" stroke="#222" stroke-width="1.6"/>
<ellipse cx="1105.7" cy="286.5" rx="16.2" ry="28" fill="#fff" stroke="#222" stroke-width="1.6" transform="rotate(-30 1105.7 286.5)"/>
<ellipse cx="1105.7" cy="286.5" rx="16.2" ry="28" fill="#fff" stroke="#222" stroke-width="1.6" transform="rotate(-30 1105.7 286.5)"/>
<polygon points="1090.2,319.7 1119.7,310.7 1091.7,262.3 1069.2,283.3" fill="#fff" stroke="none" stroke-width="0" stroke-linejoin="round"/>
<line x1="1090.2" y1="319.7" x2="1119.7" y2="310.7" stroke="#222" stroke-width="1.6"/>
<line x1="1069.2" y1="283.3" x2="1091.7" y2="262.3" stroke="#222" stroke-width="1.6"/>
<ellipse cx="1079.7" cy="301.5" rx="12.1" ry="21" fill="#fff" stroke="#222" stroke-width="1.6" transform="rotate(-30 1079.7 301.5)"/>
<ellipse cx="1079.7" cy="301.5" rx="12.1" ry="21" fill="#fff" stroke="#222" stroke-width="1.6" transform="rotate(-30 1079.7 301.5)"/>
<polygon points="1059.9,337.2 1090.2,319.7 1069.2,283.3 1038.9,300.8" fill="#fff" stroke="none" stroke-width="0" stroke-linejoin="round"/>
<line x1="1059.9" y1="337.2" x2="1090.2" y2="319.7" stroke="#222" stroke-width="1.6"/>
<line x1="1038.9" y1="300.8" x2="1069.2" y2="283.3" stroke="#222" stroke-width="1.6"/>
<ellipse cx="1049.4" cy="319" rx="12.1" ry="21" fill="#fff" stroke="#222" stroke-width="1.6" transform="rotate(-30 1049.4 319)"/>
<ellipse cx="1049.4" cy="319" rx="9.8" ry="17" fill="#fff" stroke="#222" stroke-width="1.6" transform="rotate(-30 1049.4 319)"/>
<polygon points="984.3,376.2 1057.9,333.7 1040.9,304.3 967.3,346.8" fill="#fff" stroke="none" stroke-width="0" stroke-linejoin="round"/>
<line x1="984.3" y1="376.2" x2="1057.9" y2="333.7" stroke="#222" stroke-width="1.6"/>
<line x1="967.3" y1="346.8" x2="1040.9" y2="304.3" stroke="#222" stroke-width="1.6"/>
<ellipse cx="975.8" cy="361.5" rx="9.8" ry="17" fill="#fff" stroke="#222" stroke-width="1.6" transform="rotate(-30 975.8 361.5)"/>
<ellipse cx="975.8" cy="361.5" rx="8.7" ry="15" fill="#fff" stroke="#222" stroke-width="1.6" transform="rotate(-30 975.8 361.5)"/>
<polygon points="957.3,389.5 983.3,374.5 968.3,348.5 942.3,363.5" fill="#fff" stroke="none" stroke-width="0" stroke-linejoin="round"/>
<line x1="957.3" y1="389.5" x2="983.3" y2="374.5" stroke="#222" stroke-width="1.6"/>
<line x1="942.3" y1="363.5" x2="968.3" y2="348.5" stroke="#222" stroke-width="1.6"/>
<ellipse cx="949.8" cy="376.5" rx="8.7" ry="15" fill="#fff" stroke="#222" stroke-width="1.6" transform="rotate(-30 949.8 376.5)"/>
<path d="M1068.6,332.2 A12.1,21 -30 0 0 1047.6,295.8" fill="none" stroke="#222" stroke-width="0.8"/>
<path d="M1077.2,327.2 A12.1,21 -30 0 0 1056.2,290.8" fill="none" stroke="#222" stroke-width="0.8"/>
<path d="M986.7,372.5 A8.7,15 -30 0 0 971.7,346.5" fill="none" stroke="#222" stroke-width="0.8"/>
<ellipse cx="943.8" cy="384.5" rx="1.3" ry="1.8" fill="#fff" stroke="#222" stroke-width="0.7" transform="rotate(-30 943.8 384.5)"/>
<ellipse cx="955.8" cy="368.5" rx="1.3" ry="1.8" fill="#fff" stroke="#222" stroke-width="0.7" transform="rotate(-30 955.8 368.5)"/>
<ellipse cx="953.8" cy="382.5" rx="1.3" ry="1.8" fill="#fff" stroke="#222" stroke-width="0.7" transform="rotate(-30 953.8 382.5)"/>
<line x1="1131" y1="240" x2="1131" y2="262" stroke="#222" stroke-width="0.7"/>
<line x1="1160" y1="290" x2="1147" y2="280" stroke="#222" stroke-width="0.7"/>
<rect x="1119" y="231" width="24" height="8" rx="4" fill="#fff" stroke="#222" stroke-width="1.5" transform="rotate(-28 1131 235)"/>
<rect x="1119" y="230.2" width="24" height="8" rx="4" fill="#fff" transform="rotate(-28 1131 234.2)"/>
<rect x="1119" y="229.5" width="24" height="8" rx="4" fill="#fff" transform="rotate(-28 1131 233.5)"/>
<rect x="1119" y="228.8" width="24" height="8" rx="4" fill="#fff" transform="rotate(-28 1131 232.8)"/>
<rect x="1119" y="228" width="24" height="8" rx="4" fill="#fff" transform="rotate(-28 1131 232)"/>
<rect x="1119" y="227.2" width="24" height="8" rx="4" fill="#fff" transform="rotate(-28 1131 231.2)"/>
<rect x="1119" y="226.5" width="24" height="8" rx="4" fill="#fff" transform="rotate(-28 1131 230.5)"/>
<rect x="1119" y="225.8" width="24" height="8" rx="4" fill="#fff" transform="rotate(-28 1131 229.8)"/>
<rect x="1119" y="225" width="24" height="8" rx="4" fill="#fff" transform="rotate(-28 1131 229)"/>
<rect x="1119" y="225" width="24" height="8" rx="4" fill="#fff" stroke="#222" stroke-width="1.5" transform="rotate(-28 1131 229)"/>
<rect x="1157" y="290.5" width="26" height="9" rx="4.5" fill="#fff" stroke="#222" stroke-width="1.5" transform="rotate(-30 1170 295)"/>
<rect x="1157" y="289.8" width="26" height="9" rx="4.5" fill="#fff" transform="rotate(-30 1170 294.3)"/>
<rect x="1157" y="289.1" width="26" height="9" rx="4.5" fill="#fff" transform="rotate(-30 1170 293.6)"/>
<rect x="1157" y="288.4" width="26" height="9" rx="4.5" fill="#fff" transform="rotate(-30 1170 292.9)"/>
<rect x="1157" y="287.6" width="26" height="9" rx="4.5" fill="#fff" transform="rotate(-30 1170 292.1)"/>
<rect x="1157" y="286.9" width="26" height="9" rx="4.5" fill="#fff" transform="rotate(-30 1170 291.4)"/>
<rect x="1157" y="286.2" width="26" height="9" rx="4.5" fill="#fff" transform="rotate(-30 1170 290.7)"/>
<rect x="1157" y="285.5" width="26" height="9" rx="4.5" fill="#fff" transform="rotate(-30 1170 290)"/>
<rect x="1157" y="285.5" width="26" height="9" rx="4.5" fill="#fff" stroke="#222" stroke-width="1.5" transform="rotate(-30 1170 290)"/>
<ellipse cx="1217.7" cy="222.4" rx="17.1" ry="29.6" fill="#fff" stroke="#222" stroke-width="1.9" transform="rotate(-30 1217.7 222.4)"/>
<polygon points="1227.3,251 1232.5,248 1202.9,196.8 1197.7,199.8" fill="#fff" stroke="none" stroke-width="0" stroke-linejoin="round"/>
<line x1="1227.3" y1="251" x2="1232.5" y2="248" stroke="#222" stroke-width="1.9"/>
<line x1="1197.7" y1="199.8" x2="1202.9" y2="196.8" stroke="#222" stroke-width="1.9"/>
<ellipse cx="1212.5" cy="225.4" rx="17.1" ry="29.6" fill="#fff" stroke="#222" stroke-width="1.9" transform="rotate(-30 1212.5 225.4)"/>
<ellipse cx="1212.5" cy="225.4" rx="9.4" ry="16.3" fill="none" stroke="#222" stroke-width="0.8" transform="rotate(-30 1212.5 225.4)"/>
<ellipse cx="1191.6" cy="236" rx="17.5" ry="30.4" fill="#fff" stroke="#222" stroke-width="1.9" transform="rotate(-30 1191.6 236)"/>
<polygon points="1202,265.1 1206.8,262.3 1176.4,209.7 1171.6,212.5" fill="#fff" stroke="none" stroke-width="0" stroke-linejoin="round"/>
<line x1="1202" y1="265.1" x2="1206.8" y2="262.3" stroke="#222" stroke-width="1.9"/>
<line x1="1171.6" y1="212.5" x2="1176.4" y2="209.7" stroke="#222" stroke-width="1.9"/>
<ellipse cx="1186.8" cy="238.8" rx="17.5" ry="30.4" fill="#fff" stroke="#222" stroke-width="1.9" transform="rotate(-30 1186.8 238.8)"/>
<ellipse cx="1186.8" cy="238.8" rx="9.6" ry="16.7" fill="none" stroke="#222" stroke-width="0.8" transform="rotate(-30 1186.8 238.8)"/>
<ellipse cx="1297.3" cy="176.1" rx="17.3" ry="30" fill="#fff" stroke="#222" stroke-width="1.9" transform="rotate(-30 1297.3 176.1)"/>
<polygon points="1310.6,203.1 1312.3,202.1 1282.3,150.1 1280.6,151.1" fill="#fff" stroke="none" stroke-width="0" stroke-linejoin="round"/>
<line x1="1310.6" y1="203.1" x2="1312.3" y2="202.1" stroke="#222" stroke-width="1.9"/>
<line x1="1280.6" y1="151.1" x2="1282.3" y2="150.1" stroke="#222" stroke-width="1.9"/>
<ellipse cx="1295.6" cy="177.1" rx="17.3" ry="30" fill="#fff" stroke="#222" stroke-width="1.9" transform="rotate(-30 1295.6 177.1)"/>
<ellipse cx="1295.6" cy="177.1" rx="9.5" ry="16.5" fill="none" stroke="#222" stroke-width="0.8" transform="rotate(-30 1295.6 177.1)"/>
<ellipse cx="1282.3" cy="186" rx="16.7" ry="29" fill="#fff" stroke="#222" stroke-width="1.9" transform="rotate(-30 1282.3 186)"/>
<polygon points="1292.5,213.6 1296.8,211.1 1267.8,160.9 1263.5,163.4" fill="#fff" stroke="none" stroke-width="0" stroke-linejoin="round"/>
<line x1="1292.5" y1="213.6" x2="1296.8" y2="211.1" stroke="#222" stroke-width="1.9"/>
<line x1="1263.5" y1="163.4" x2="1267.8" y2="160.9" stroke="#222" stroke-width="1.9"/>
<ellipse cx="1278" cy="188.5" rx="16.7" ry="29" fill="#fff" stroke="#222" stroke-width="1.9" transform="rotate(-30 1278 188.5)"/>
<ellipse cx="1278" cy="188.5" rx="9.2" ry="16" fill="none" stroke="#222" stroke-width="0.8" transform="rotate(-30 1278 188.5)"/>
<ellipse cx="1263.9" cy="195.6" rx="16.6" ry="28.7" fill="#fff" stroke="#222" stroke-width="1.9" transform="rotate(-30 1263.9 195.6)"/>
<polygon points="1271.3,224.5 1278.3,220.5 1249.6,170.7 1242.7,174.7" fill="#fff" stroke="none" stroke-width="0" stroke-linejoin="round"/>
<line x1="1271.3" y1="224.5" x2="1278.3" y2="220.5" stroke="#222" stroke-width="1.9"/>
<line x1="1242.7" y1="174.7" x2="1249.6" y2="170.7" stroke="#222" stroke-width="1.9"/>
<ellipse cx="1257" cy="199.6" rx="16.6" ry="28.7" fill="#fff" stroke="#222" stroke-width="1.9" transform="rotate(-30 1257 199.6)"/>
<ellipse cx="1257" cy="199.6" rx="9.1" ry="15.8" fill="none" stroke="#222" stroke-width="0.8" transform="rotate(-30 1257 199.6)"/>
<polyline points="300,512 342,488" fill="none" stroke="#333" stroke-width="0.75" stroke-linejoin="round"/>
<ellipse cx="520.4" cy="385" rx="8.4" ry="14.5" fill="#fff" stroke="#222" stroke-width="1.6" transform="rotate(-30 520.4 385)"/>
<polygon points="481.8,424.1 527.7,397.6 513.2,372.4 467.3,398.9" fill="#fff" stroke="none" stroke-width="0" stroke-linejoin="round"/>
<line x1="481.8" y1="424.1" x2="527.7" y2="397.6" stroke="#222" stroke-width="1.6"/>
<line x1="467.3" y1="398.9" x2="513.2" y2="372.4" stroke="#222" stroke-width="1.6"/>
<ellipse cx="474.5" cy="411.5" rx="8.4" ry="14.5" fill="#fff" stroke="#222" stroke-width="1.6" transform="rotate(-30 474.5 411.5)"/>
<ellipse cx="474.5" cy="411.5" rx="9.8" ry="17" fill="#fff" stroke="#222" stroke-width="1.6" transform="rotate(-30 474.5 411.5)"/>
<polygon points="448.4,446.2 483,426.2 466,396.8 431.4,416.8" fill="#fff" stroke="none" stroke-width="0" stroke-linejoin="round"/>
<line x1="448.4" y1="446.2" x2="483" y2="426.2" stroke="#222" stroke-width="1.6"/>
<line x1="431.4" y1="416.8" x2="466" y2="396.8" stroke="#222" stroke-width="1.6"/>
<ellipse cx="439.9" cy="431.5" rx="9.8" ry="17" fill="#fff" stroke="#222" stroke-width="1.6" transform="rotate(-30 439.9 431.5)"/>
<ellipse cx="439.9" cy="431.5" rx="11" ry="19" fill="#fff" stroke="#222" stroke-width="1.6" transform="rotate(-30 439.9 431.5)"/>
<polygon points="442.4,452 449.4,448 430.4,415 423.4,419" fill="#fff" stroke="none" stroke-width="0" stroke-linejoin="round"/>
<line x1="442.4" y1="452" x2="449.4" y2="448" stroke="#222" stroke-width="1.6"/>
<line x1="423.4" y1="419" x2="430.4" y2="415" stroke="#222" stroke-width="1.6"/>
<ellipse cx="432.9" cy="435.5" rx="11" ry="19" fill="#fff" stroke="#222" stroke-width="1.6" transform="rotate(-30 432.9 435.5)"/>
<ellipse cx="432.9" cy="435.5" rx="8.1" ry="14" fill="#fff" stroke="#222" stroke-width="1.6" transform="rotate(-30 432.9 435.5)"/>
<polygon points="403.6,468.6 439.9,447.6 425.9,423.4 389.6,444.4" fill="#fff" stroke="none" stroke-width="0" stroke-linejoin="round"/>
<line x1="403.6" y1="468.6" x2="439.9" y2="447.6" stroke="#222" stroke-width="1.6"/>
<line x1="389.6" y1="444.4" x2="425.9" y2="423.4" stroke="#222" stroke-width="1.6"/>
<ellipse cx="396.6" cy="456.5" rx="8.1" ry="14" fill="#fff" stroke="#222" stroke-width="1.6" transform="rotate(-30 396.6 456.5)"/>
<ellipse cx="396.6" cy="456.5" rx="6.5" ry="11.2" fill="#fff" stroke="#222" stroke-width="1.6" transform="rotate(-30 396.6 456.5)"/>
<polygon points="347.6,497.7 402.2,466.2 391,446.8 336.4,478.3" fill="#fff" stroke="none" stroke-width="0" stroke-linejoin="round"/>
<line x1="347.6" y1="497.7" x2="402.2" y2="466.2" stroke="#222" stroke-width="1.6"/>
<line x1="336.4" y1="478.3" x2="391" y2="446.8" stroke="#222" stroke-width="1.6"/>
<ellipse cx="342" cy="488" rx="6.5" ry="11.2" fill="#fff" stroke="#222" stroke-width="1.6" transform="rotate(-30 342 488)"/>
<polygon points="360,472 385,457.5 387,460 362,475" fill="none" stroke="#222" stroke-width="1.0" stroke-linejoin="round"/>
<rect x="344" y="446.5" width="24" height="7" rx="3.5" fill="#fff" stroke="#222" stroke-width="1.5" transform="rotate(-20 356 450)"/>
<rect x="344" y="445.8" width="24" height="7" rx="3.5" fill="#fff" transform="rotate(-20 356 449.3)"/>
<rect x="344" y="445.1" width="24" height="7" rx="3.5" fill="#fff" transform="rotate(-20 356 448.6)"/>
<rect x="344" y="444.4" width="24" height="7" rx="3.5" fill="#fff" transform="rotate(-20 356 447.9)"/>
<rect x="344" y="443.6" width="24" height="7" rx="3.5" fill="#fff" transform="rotate(-20 356 447.1)"/>
<rect x="344" y="442.9" width="24" height="7" rx="3.5" fill="#fff" transform="rotate(-20 356 446.4)"/>
<rect x="344" y="442.2" width="24" height="7" rx="3.5" fill="#fff" transform="rotate(-20 356 445.7)"/>
<rect x="344" y="441.5" width="24" height="7" rx="3.5" fill="#fff" transform="rotate(-20 356 445)"/>
<rect x="344" y="441.5" width="24" height="7" rx="3.5" fill="#fff" stroke="#222" stroke-width="1.5" transform="rotate(-20 356 445)"/>
<polygon points="308,510.1 308.9,511.7 307.9,513.9 308.5,515.4 311.1,516.8 311.7,518.5 310,519.8 310.4,521.3 312.8,523.5 313,525.2 310.9,525.5 310.9,526.9 313,529.7 312.8,531.1 310.4,530.5 310,531.6 311.7,534.8 311.1,535.9 308.5,534.3 307.9,535 308.9,538.4 308,539 305.5,536.6 304.6,536.9 304.9,540 303.7,540.1 301.7,537.2 300.6,537 300.1,539.7 298.8,539.3 297.2,536 296.1,535.4 294.8,537.3 293.5,536.4 292.6,533.1 291.5,532.2 289.7,533.2 288.4,531.9 288.3,528.9 287.3,527.6 285,527.7 284,526.1 284.6,523.6 283.8,522.2 281.3,521.2 280.5,519.5 281.9,517.7 281.4,516.3 278.8,514.4 278.4,512.7 280.3,511.9 280.2,510.4 277.8,507.9 277.8,506.3 280.2,506.5 280.3,505.2 278.4,502.2 278.8,500.9 281.4,502 281.9,501.1 280.5,497.8 281.3,497 283.8,498.9 284.6,498.4 284,495.2 285,494.8 287.3,497.5 288.3,497.4 288.4,494.5 289.6,494.7 291.5,497.8 292.6,498.2 293.5,495.9 294.8,496.5 296.1,499.8 297.2,500.6 298.8,499.1 300.1,500.2 300.6,503.4 301.6,504.5 303.7,504 304.9,505.5 304.6,508.3 305.5,509.6" fill="#fff" stroke="#222" stroke-width="1.4" stroke-linejoin="round"/>
<polygon points="287.2,551 308,539 283,495.6 262.2,507.6" fill="#fff" stroke="none" stroke-width="0" stroke-linejoin="round"/>
<line x1="287.2" y1="551" x2="308" y2="539" stroke="#222" stroke-width="1.4"/>
<line x1="262.2" y1="507.6" x2="283" y2="495.6" stroke="#222" stroke-width="1.4"/>
<line x1="287.5" y1="524.2" x2="308.3" y2="512.2" stroke="#222" stroke-width="0.9"/>
<line x1="288.8" y1="527" x2="309.6" y2="515" stroke="#222" stroke-width="0.9"/>
<line x1="290.1" y1="530.6" x2="310.9" y2="518.6" stroke="#222" stroke-width="0.9"/>
<line x1="290.9" y1="533.5" x2="311.6" y2="521.5" stroke="#222" stroke-width="0.9"/>
<line x1="291.4" y1="536.9" x2="312.2" y2="524.9" stroke="#222" stroke-width="0.9"/>
<line x1="291.5" y1="539.5" x2="312.2" y2="527.5" stroke="#222" stroke-width="0.9"/>
<line x1="291.1" y1="542.6" x2="311.9" y2="530.6" stroke="#222" stroke-width="0.9"/>
<line x1="290.6" y1="544.7" x2="311.4" y2="532.7" stroke="#222" stroke-width="0.9"/>
<line x1="289.5" y1="547" x2="310.2" y2="535" stroke="#222" stroke-width="0.9"/>
<line x1="288.3" y1="548.5" x2="309.1" y2="536.5" stroke="#222" stroke-width="0.9"/>
<line x1="286.5" y1="549.9" x2="307.2" y2="537.9" stroke="#222" stroke-width="0.9"/>
<line x1="262.7" y1="508.8" x2="283.5" y2="496.8" stroke="#222" stroke-width="0.9"/>
<line x1="264.9" y1="507.9" x2="285.6" y2="495.9" stroke="#222" stroke-width="0.9"/>
<line x1="266.7" y1="507.7" x2="287.5" y2="495.7" stroke="#222" stroke-width="0.9"/>
<line x1="269.3" y1="507.8" x2="290.1" y2="495.8" stroke="#222" stroke-width="0.9"/>
<line x1="271.4" y1="508.4" x2="292.2" y2="496.4" stroke="#222" stroke-width="0.9"/>
<line x1="274.2" y1="509.7" x2="295" y2="497.7" stroke="#222" stroke-width="0.9"/>
<line x1="276.4" y1="511" x2="297.2" y2="499" stroke="#222" stroke-width="0.9"/>
<line x1="279.2" y1="513.2" x2="300" y2="501.2" stroke="#222" stroke-width="0.9"/>
<line x1="281.3" y1="515.3" x2="302" y2="503.3" stroke="#222" stroke-width="0.9"/>
<line x1="283.7" y1="518.2" x2="304.5" y2="506.2" stroke="#222" stroke-width="0.9"/>
<line x1="285.5" y1="520.8" x2="306.3" y2="508.8" stroke="#222" stroke-width="0.9"/>
<polygon points="287.2,522.1 288.1,523.7 287.1,525.9 287.7,527.4 290.3,528.8 290.9,530.5 289.2,531.8 289.6,533.3 292.1,535.5 292.3,537.2 290.1,537.5 290.1,538.9 292.3,541.7 292.1,543.1 289.6,542.5 289.2,543.6 290.9,546.8 290.3,547.9 287.8,546.3 287.1,547 288.1,550.4 287.2,551 284.8,548.6 283.9,548.9 284.1,552 283,552.1 280.9,549.2 279.8,549 279.3,551.7 278,551.3 276.4,548 275.3,547.4 274,549.3 272.7,548.4 271.8,545.1 270.7,544.2 268.9,545.2 267.6,543.9 267.5,540.9 266.5,539.6 264.2,539.7 263.2,538.1 263.8,535.6 263,534.2 260.5,533.2 259.7,531.5 261.1,529.7 260.6,528.3 258,526.4 257.6,524.7 259.6,523.9 259.4,522.4 257,519.9 257,518.3 259.4,518.5 259.6,517.2 257.6,514.2 258,512.9 260.6,514 261.1,513.1 259.7,509.8 260.5,509 263,510.9 263.8,510.4 263.2,507.2 264.2,506.8 266.5,509.5 267.5,509.4 267.6,506.5 268.9,506.7 270.7,509.8 271.8,510.2 272.7,507.9 274,508.5 275.3,511.8 276.4,512.6 278,511.1 279.3,512.2 279.8,515.4 280.9,516.5 283,516 284.1,517.5 283.8,520.3 284.7,521.6" fill="#fff" stroke="#222" stroke-width="1.4" stroke-linejoin="round"/>
<ellipse cx="274.7" cy="529.3" rx="11.7" ry="20.3" fill="none" stroke="#222" stroke-width="0.7" transform="rotate(-30 274.7 529.3)"/>
<path d="M266,518 Q267,514 270,516 L279,527 Q281,530 280,533 L279,538 Q278,541 275,540 L267,536 Q265,535 265,532 Z" fill="#fff" stroke="#222" stroke-width="1.5" />
<line x1="266" y1="527" x2="284" y2="517" stroke="#222" stroke-width="0.7"/>
<line x1="267" y1="531" x2="285" y2="521" stroke="#222" stroke-width="0.7"/>
<ellipse cx="323.4" cy="498.2" rx="10.3" ry="17.8" fill="#fff" stroke="#222" stroke-width="1.0" transform="rotate(-30 323.4 498.2)"/>
<polygon points="331.4,514.1 332.3,513.6 314.5,482.8 313.6,483.3" fill="#fff" stroke="none" stroke-width="0" stroke-linejoin="round"/>
<line x1="331.4" y1="514.1" x2="332.3" y2="513.6" stroke="#222" stroke-width="1.0"/>
<line x1="313.6" y1="483.3" x2="314.5" y2="482.8" stroke="#222" stroke-width="1.0"/>
<ellipse cx="322.5" cy="498.7" rx="10.3" ry="17.8" fill="#fff" stroke="#222" stroke-width="1.0" transform="rotate(-30 322.5 498.7)"/>
<ellipse cx="322.5" cy="498.7" rx="8.4" ry="14.5" fill="none" stroke="#222" stroke-width="1.0" transform="rotate(-30 322.5 498.7)"/>
<polyline points="380,562 600,435" fill="none" stroke="#333" stroke-width="0.75" stroke-linejoin="round"/>
<polyline points="374,567 423,595 705,486 657,460" fill="none" stroke="#222" stroke-width="0.8" stroke-linejoin="round" stroke-dasharray="12 3 2 3"/>
<ellipse cx="425.6" cy="536.9" rx="13.8" ry="24" fill="#fff" stroke="#222" stroke-width="1.6" transform="rotate(-30 425.6 536.9)"/>
<polygon points="412.5,572.2 437.6,557.7 413.6,516.1 388.5,530.6" fill="#fff" stroke="none" stroke-width="0" stroke-linejoin="round"/>
<line x1="412.5" y1="572.2" x2="437.6" y2="557.7" stroke="#222" stroke-width="1.6"/>
<line x1="388.5" y1="530.6" x2="413.6" y2="516.1" stroke="#222" stroke-width="1.6"/>
<ellipse cx="400.5" cy="551.4" rx="13.8" ry="24" fill="#fff" stroke="#222" stroke-width="1.6" transform="rotate(-30 400.5 551.4)"/>
<path d="M417.7,569.2 A13.8,24 -30 0 0 393.7,527.6" fill="none" stroke="#222" stroke-width="0.9"/>
<path d="M422,566.7 A13.8,24 -30 0 0 398,525.1" fill="none" stroke="#222" stroke-width="0.9"/>
<path d="M426.4,564.2 A13.8,24 -30 0 0 402.4,522.6" fill="none" stroke="#222" stroke-width="0.9"/>
<path d="M430.7,561.7 A13.8,24 -30 0 0 406.7,520.1" fill="none" stroke="#222" stroke-width="0.9"/>
<path d="M435,559.2 A13.8,24 -30 0 0 411,517.6" fill="none" stroke="#222" stroke-width="0.9"/>
<ellipse cx="400.5" cy="551.4" rx="13.8" ry="24" fill="#fff" stroke="#222" stroke-width="1.6" transform="rotate(-30 400.5 551.4)"/>
<ellipse cx="400.5" cy="551.4" rx="11" ry="19" fill="none" stroke="#222" stroke-width="1.2" transform="rotate(-30 400.5 551.4)"/>
<ellipse cx="464.7" cy="512.1" rx="12.6" ry="21.9" fill="#fff" stroke="#222" stroke-width="1.7" transform="rotate(-30 464.7 512.1)"/>
<polygon points="465.4,537 475.7,531.1 453.8,493.1 443.6,499" fill="#fff" stroke="none" stroke-width="0" stroke-linejoin="round"/>
<line x1="465.4" y1="537" x2="475.7" y2="531.1" stroke="#222" stroke-width="1.7"/>
<line x1="443.6" y1="499" x2="453.8" y2="493.1" stroke="#222" stroke-width="1.7"/>
<ellipse cx="454.5" cy="518" rx="12.6" ry="21.9" fill="#fff" stroke="#222" stroke-width="1.7" transform="rotate(-30 454.5 518)"/>
<ellipse cx="454.5" cy="518" rx="8.7" ry="15" fill="none" stroke="#222" stroke-width="1.6" transform="rotate(-30 454.5 518)"/>
<polygon points="542.9,470.7 544,472.7 542.9,475.3 543.7,477.1 546.7,478.9 547.4,481 545.6,482.6 546,484.4 548.8,487.1 549,489.1 546.6,489.7 546.6,491.3 549,494.7 548.8,496.4 546,495.8 545.6,497.1 547.4,500.9 546.7,502.1 543.7,500.5 542.9,501.4 544,505.2 542.9,505.9 540,503.3 538.9,503.7 539.1,507.2 537.7,507.3 535.2,504 533.9,503.9 533.2,506.8 531.6,506.3 529.7,502.6 528.3,501.9 526.8,503.9 525.2,502.8 524.1,499 522.7,497.9 520.5,498.9 519,497.3 518.7,493.8 517.5,492.2 514.8,492.1 513.6,490.2 514.2,487.3 513.2,485.5 510.3,484.3 509.4,482.2 510.8,480 510.2,478.2 507.3,476 506.8,473.9 508.9,472.8 508.7,471 506.1,468 506.1,466.1 508.7,466.1 508.9,464.6 506.8,461 507.3,459.5 510.2,460.6 510.8,459.5 509.4,455.7 510.3,454.7 513.2,456.8 514.2,456.2 513.5,452.5 514.8,452.1 517.5,455.1 518.7,455 519,451.7 520.5,451.9 522.7,455.4 524.1,455.9 525.2,453.4 526.8,454.2 528.3,458 529.7,458.9 531.6,457.4 533.2,458.7 533.9,462.4 535.2,463.8 537.7,463.3 539.1,465 538.9,468.4 540,470" fill="#fff" stroke="#222" stroke-width="1.4" stroke-linejoin="round"/>
<polygon points="517.8,520.4 542.9,505.9 512.4,453.1 487.2,467.6" fill="#fff" stroke="none" stroke-width="0" stroke-linejoin="round"/>
<line x1="517.8" y1="520.4" x2="542.9" y2="505.9" stroke="#222" stroke-width="1.4"/>
<line x1="487.2" y1="467.6" x2="512.4" y2="453.1" stroke="#222" stroke-width="1.4"/>
<line x1="518.2" y1="487.8" x2="543.3" y2="473.3" stroke="#222" stroke-width="0.9"/>
<line x1="519.8" y1="491.2" x2="544.9" y2="476.7" stroke="#222" stroke-width="0.9"/>
<line x1="521.4" y1="495.6" x2="546.5" y2="481.1" stroke="#222" stroke-width="0.9"/>
<line x1="522.3" y1="499.1" x2="547.4" y2="484.6" stroke="#222" stroke-width="0.9"/>
<line x1="522.9" y1="503.4" x2="548" y2="488.9" stroke="#222" stroke-width="0.9"/>
<line x1="523" y1="506.5" x2="548.1" y2="492" stroke="#222" stroke-width="0.9"/>
<line x1="522.7" y1="510.3" x2="547.8" y2="495.8" stroke="#222" stroke-width="0.9"/>
<line x1="522" y1="512.9" x2="547.1" y2="498.4" stroke="#222" stroke-width="0.9"/>
<line x1="520.6" y1="515.7" x2="545.7" y2="501.2" stroke="#222" stroke-width="0.9"/>
<line x1="519.1" y1="517.5" x2="544.3" y2="503" stroke="#222" stroke-width="0.9"/>
<line x1="516.9" y1="519.2" x2="542" y2="504.7" stroke="#222" stroke-width="0.9"/>
<line x1="487.8" y1="468.9" x2="513" y2="454.4" stroke="#222" stroke-width="0.9"/>
<line x1="490.4" y1="467.8" x2="515.6" y2="453.3" stroke="#222" stroke-width="0.9"/>
<line x1="492.7" y1="467.5" x2="517.8" y2="453" stroke="#222" stroke-width="0.9"/>
<line x1="495.9" y1="467.7" x2="521" y2="453.2" stroke="#222" stroke-width="0.9"/>
<line x1="498.5" y1="468.4" x2="523.6" y2="453.9" stroke="#222" stroke-width="0.9"/>
<line x1="501.9" y1="469.9" x2="527" y2="455.4" stroke="#222" stroke-width="0.9"/>
<line x1="504.6" y1="471.6" x2="529.7" y2="457.1" stroke="#222" stroke-width="0.9"/>
<line x1="508" y1="474.3" x2="533.1" y2="459.8" stroke="#222" stroke-width="0.9"/>
<line x1="510.5" y1="476.8" x2="535.7" y2="462.3" stroke="#222" stroke-width="0.9"/>
<line x1="513.6" y1="480.4" x2="538.7" y2="465.9" stroke="#222" stroke-width="0.9"/>
<line x1="515.8" y1="483.5" x2="540.9" y2="469" stroke="#222" stroke-width="0.9"/>
<polygon points="517.7,485.2 518.8,487.2 517.8,489.8 518.6,491.6 521.6,493.4 522.3,495.5 520.4,497.1 520.9,498.9 523.7,501.6 523.9,503.6 521.5,504.2 521.5,505.8 523.9,509.2 523.7,510.9 520.9,510.3 520.5,511.6 522.3,515.4 521.6,516.6 518.6,515 517.8,515.9 518.8,519.7 517.8,520.4 514.9,517.8 513.8,518.2 514,521.7 512.6,521.8 510.1,518.5 508.8,518.4 508.1,521.3 506.5,520.8 504.6,517.1 503.2,516.4 501.7,518.4 500.1,517.3 499,513.5 497.6,512.4 495.4,513.4 493.9,511.8 493.6,508.3 492.4,506.7 489.7,506.6 488.4,504.7 489.1,501.8 488.1,500 485.2,498.8 484.2,496.7 485.7,494.5 485.1,492.7 482.2,490.5 481.7,488.4 483.8,487.3 483.6,485.5 481,482.5 481,480.6 483.6,480.6 483.8,479.1 481.7,475.5 482.1,474 485.1,475.1 485.7,474 484.2,470.2 485.1,469.2 488.1,471.3 489.1,470.7 488.4,467 489.7,466.6 492.4,469.6 493.6,469.5 493.9,466.2 495.4,466.4 497.6,469.9 499,470.4 500.1,467.9 501.7,468.7 503.2,472.5 504.6,473.4 506.5,471.9 508.1,473.2 508.8,476.9 510.1,478.3 512.6,477.8 514,479.5 513.8,482.9 514.9,484.5" fill="#fff" stroke="#222" stroke-width="1.4" stroke-linejoin="round"/>
<ellipse cx="502.5" cy="494" rx="14.7" ry="25.4" fill="none" stroke="#222" stroke-width="0.7" transform="rotate(-30 502.5 494)"/>
<ellipse cx="502.5" cy="494" rx="11.5" ry="20" fill="none" stroke="#222" stroke-width="1.2" transform="rotate(-30 502.5 494)"/>
<ellipse cx="502.5" cy="494" rx="12.7" ry="22" fill="none" stroke="#222" stroke-width="0.7" transform="rotate(-30 502.5 494)"/>
<ellipse cx="567.2" cy="455.2" rx="13" ry="22.5" fill="#fff" stroke="#222" stroke-width="1.8" transform="rotate(-30 567.2 455.2)"/>
<polygon points="576.2,476 578.4,474.7 555.9,435.8 553.8,437" fill="#fff" stroke="none" stroke-width="0" stroke-linejoin="round"/>
<line x1="576.2" y1="476" x2="578.4" y2="474.7" stroke="#222" stroke-width="1.8"/>
<line x1="553.8" y1="437" x2="555.9" y2="435.8" stroke="#222" stroke-width="1.8"/>
<ellipse cx="565" cy="456.5" rx="13" ry="22.5" fill="#fff" stroke="#222" stroke-width="1.8" transform="rotate(-30 565 456.5)"/>
<ellipse cx="565" cy="456.5" rx="9.5" ry="16.5" fill="none" stroke="#222" stroke-width="1.8" transform="rotate(-30 565 456.5)"/>
<polyline points="45,662 255,555" fill="none" stroke="#333" stroke-width="0.75" stroke-linejoin="round"/>
<line x1="41" y1="690" x2="65" y2="677" stroke="#222" stroke-width="0.7"/>
<ellipse cx="245.5" cy="543.7" rx="12" ry="20.8" fill="#fff" stroke="#222" stroke-width="1.8" transform="rotate(-30 245.5 543.7)"/>
<polygon points="253.1,563.3 255.9,561.7 235.1,525.7 232.3,527.3" fill="#fff" stroke="none" stroke-width="0" stroke-linejoin="round"/>
<line x1="253.1" y1="563.3" x2="255.9" y2="561.7" stroke="#222" stroke-width="1.8"/>
<line x1="232.3" y1="527.3" x2="235.1" y2="525.7" stroke="#222" stroke-width="1.8"/>
<ellipse cx="242.7" cy="545.3" rx="12" ry="20.8" fill="#fff" stroke="#222" stroke-width="1.8" transform="rotate(-30 242.7 545.3)"/>
<ellipse cx="242.7" cy="545.3" rx="5.2" ry="9" fill="none" stroke="#222" stroke-width="1.6" transform="rotate(-30 242.7 545.3)"/>
<ellipse cx="220.9" cy="557.2" rx="7.7" ry="13.3" fill="#fff" stroke="#222" stroke-width="1.0" transform="rotate(-30 220.9 557.2)"/>
<polygon points="226.8,569.1 227.5,568.7 214.2,545.7 213.5,546.1" fill="#fff" stroke="none" stroke-width="0" stroke-linejoin="round"/>
<line x1="226.8" y1="569.1" x2="227.5" y2="568.7" stroke="#222" stroke-width="1.0"/>
<line x1="213.5" y1="546.1" x2="214.2" y2="545.7" stroke="#222" stroke-width="1.0"/>
<ellipse cx="220.2" cy="557.6" rx="7.7" ry="13.3" fill="#fff" stroke="#222" stroke-width="1.0" transform="rotate(-30 220.2 557.6)"/>
<ellipse cx="220.2" cy="557.6" rx="6.6" ry="11.5" fill="none" stroke="#222" stroke-width="1.0" transform="rotate(-30 220.2 557.6)"/>
<ellipse cx="197.1" cy="571.3" rx="13" ry="22.5" fill="#fff" stroke="#222" stroke-width="1.6" transform="rotate(-30 197.1 571.3)"/>
<polygon points="204.8,592.8 208.3,590.8 185.8,551.8 182.3,553.8" fill="#fff" stroke="none" stroke-width="0" stroke-linejoin="round"/>
<line x1="204.8" y1="592.8" x2="208.3" y2="590.8" stroke="#222" stroke-width="1.6"/>
<line x1="182.3" y1="553.8" x2="185.8" y2="551.8" stroke="#222" stroke-width="1.6"/>
<ellipse cx="193.6" cy="573.3" rx="13" ry="22.5" fill="#fff" stroke="#222" stroke-width="1.6" transform="rotate(-30 193.6 573.3)"/>
<ellipse cx="193.6" cy="573.3" rx="8.8" ry="15.2" fill="#fff" stroke="#222" stroke-width="1.6" transform="rotate(-30 193.6 573.3)"/>
<polygon points="185.6,595.5 201.2,586.5 186,560.1 170.4,569.1" fill="#fff" stroke="none" stroke-width="0" stroke-linejoin="round"/>
<line x1="185.6" y1="595.5" x2="201.2" y2="586.5" stroke="#222" stroke-width="1.6"/>
<line x1="170.4" y1="569.1" x2="186" y2="560.1" stroke="#222" stroke-width="1.6"/>
<ellipse cx="178" cy="582.3" rx="8.8" ry="15.2" fill="#fff" stroke="#222" stroke-width="1.6" transform="rotate(-30 178 582.3)"/>
<ellipse cx="178" cy="582.3" rx="6.9" ry="12" fill="none" stroke="#222" stroke-width="1.2" transform="rotate(-30 178 582.3)"/>
<ellipse cx="150.6" cy="598.4" rx="13.4" ry="23.3" fill="#fff" stroke="#222" stroke-width="1.7" transform="rotate(-30 150.6 598.4)"/>
<polygon points="157.1,621.6 162.2,618.6 138.9,578.2 133.8,581.2" fill="#fff" stroke="none" stroke-width="0" stroke-linejoin="round"/>
<line x1="157.1" y1="621.6" x2="162.2" y2="618.6" stroke="#222" stroke-width="1.7"/>
<line x1="133.8" y1="581.2" x2="138.9" y2="578.2" stroke="#222" stroke-width="1.7"/>
<ellipse cx="145.4" cy="601.4" rx="13.4" ry="23.3" fill="#fff" stroke="#222" stroke-width="1.7" transform="rotate(-30 145.4 601.4)"/>
<ellipse cx="145.4" cy="601.4" rx="11.5" ry="20" fill="none" stroke="#222" stroke-width="0.7" transform="rotate(-30 145.4 601.4)"/>
<ellipse cx="145.4" cy="601.4" rx="10.4" ry="18" fill="none" stroke="#222" stroke-width="0.7" transform="rotate(-30 145.4 601.4)"/>
<ellipse cx="145.4" cy="601.4" rx="9.2" ry="16" fill="none" stroke="#222" stroke-width="1.6" transform="rotate(-30 145.4 601.4)"/>
<ellipse cx="117" cy="617.7" rx="12.6" ry="21.9" fill="#fff" stroke="#222" stroke-width="1.8" transform="rotate(-30 117 617.7)"/>
<polygon points="119.7,641.5 128,636.7 106.1,598.7 97.8,603.5" fill="#fff" stroke="none" stroke-width="0" stroke-linejoin="round"/>
<line x1="119.7" y1="641.5" x2="128" y2="636.7" stroke="#222" stroke-width="1.8"/>
<line x1="97.8" y1="603.5" x2="106.1" y2="598.7" stroke="#222" stroke-width="1.8"/>
<ellipse cx="108.7" cy="622.5" rx="12.6" ry="21.9" fill="#fff" stroke="#222" stroke-width="1.8" transform="rotate(-30 108.7 622.5)"/>
<ellipse cx="108.7" cy="622.5" rx="11.4" ry="19.7" fill="none" stroke="#222" stroke-width="0.6" transform="rotate(-30 108.7 622.5)"/>
<ellipse cx="108.7" cy="622.5" rx="10.1" ry="17.5" fill="none" stroke="#222" stroke-width="0.7" transform="rotate(-30 108.7 622.5)"/>
<ellipse cx="108.7" cy="622.5" rx="7.6" ry="13.1" fill="none" stroke="#222" stroke-width="0.7" transform="rotate(-30 108.7 622.5)"/>
<ellipse cx="108.7" cy="622.5" rx="6.3" ry="10.9" fill="none" stroke="#222" stroke-width="1.0" transform="rotate(-30 108.7 622.5)"/>
<ellipse cx="116.4" cy="618.1" rx="1.5" ry="1.5" fill="none" stroke="#222" stroke-width="0.5"/>
<ellipse cx="119.2" cy="625.3" rx="1.5" ry="1.5" fill="none" stroke="#222" stroke-width="0.5"/>
<ellipse cx="119.2" cy="631.8" rx="1.5" ry="1.5" fill="none" stroke="#222" stroke-width="0.5"/>
<ellipse cx="116.4" cy="635.8" rx="1.5" ry="1.5" fill="none" stroke="#222" stroke-width="0.5"/>
<ellipse cx="111.5" cy="636.2" rx="1.5" ry="1.5" fill="none" stroke="#222" stroke-width="0.5"/>
<ellipse cx="105.9" cy="633" rx="1.5" ry="1.5" fill="none" stroke="#222" stroke-width="0.5"/>
<ellipse cx="101" cy="626.9" rx="1.5" ry="1.5" fill="none" stroke="#222" stroke-width="0.5"/>
<ellipse cx="98.2" cy="619.7" rx="1.5" ry="1.5" fill="none" stroke="#222" stroke-width="0.5"/>
<ellipse cx="98.2" cy="613.2" rx="1.5" ry="1.5" fill="none" stroke="#222" stroke-width="0.5"/>
<ellipse cx="101" cy="609.2" rx="1.5" ry="1.5" fill="none" stroke="#222" stroke-width="0.5"/>
<ellipse cx="105.9" cy="608.8" rx="1.5" ry="1.5" fill="none" stroke="#222" stroke-width="0.5"/>
<ellipse cx="111.5" cy="612" rx="1.5" ry="1.5" fill="none" stroke="#222" stroke-width="0.5"/>
<ellipse cx="84.2" cy="636.5" rx="10" ry="17.4" fill="#fff" stroke="#222" stroke-width="0.8" transform="rotate(-30 84.2 636.5)"/>
<polygon points="92.2,652 92.9,651.6 75.5,621.4 74.8,621.8" fill="#fff" stroke="none" stroke-width="0" stroke-linejoin="round"/>
<line x1="92.2" y1="652" x2="92.9" y2="651.6" stroke="#222" stroke-width="0.8"/>
<line x1="74.8" y1="621.8" x2="75.5" y2="621.4" stroke="#222" stroke-width="0.8"/>
<ellipse cx="83.5" cy="636.9" rx="10" ry="17.4" fill="#fff" stroke="#222" stroke-width="0.8" transform="rotate(-30 83.5 636.9)"/>
<ellipse cx="83.5" cy="636.9" rx="9.1" ry="15.8" fill="none" stroke="#222" stroke-width="0.8" transform="rotate(-30 83.5 636.9)"/>
<ellipse cx="57" cy="652" rx="17.4" ry="30.1" fill="#fff" stroke="#222" stroke-width="1.7" transform="rotate(-30 57 652)"/>
<polygon points="65.1,682.1 72,678.1 41.9,625.9 35,629.9" fill="#fff" stroke="none" stroke-width="0" stroke-linejoin="round"/>
<line x1="65.1" y1="682.1" x2="72" y2="678.1" stroke="#222" stroke-width="1.7"/>
<line x1="35" y1="629.9" x2="41.9" y2="625.9" stroke="#222" stroke-width="1.7"/>
<ellipse cx="50.1" cy="656" rx="17.4" ry="30.1" fill="#fff" stroke="#222" stroke-width="1.7" transform="rotate(-30 50.1 656)"/>
<ellipse cx="50.1" cy="656" rx="11.5" ry="20" fill="#fff" stroke="#222" stroke-width="1.7" transform="rotate(-30 50.1 656)"/>
<polygon points="54,676.8 60.1,673.3 40.1,638.7 34,642.2" fill="#fff" stroke="none" stroke-width="0" stroke-linejoin="round"/>
<line x1="54" y1="676.8" x2="60.1" y2="673.3" stroke="#222" stroke-width="1.7"/>
<line x1="34" y1="642.2" x2="40.1" y2="638.7" stroke="#222" stroke-width="1.7"/>
<ellipse cx="44" cy="659.5" rx="11.5" ry="20" fill="#fff" stroke="#222" stroke-width="1.7" transform="rotate(-30 44 659.5)"/>
<ellipse cx="44" cy="659.5" rx="8.4" ry="14.5" fill="none" stroke="#222" stroke-width="1.0" transform="rotate(-30 44 659.5)"/>
<path d="M52.5,670.2 A7.8,13.5 -30 0 0 39,646.8" fill="none" stroke="#222" stroke-width="0.7"/>
<path d="M54.2,669.2 A7.8,13.5 -30 0 0 40.7,645.8" fill="none" stroke="#222" stroke-width="0.7"/>
<path d="M55.9,668.2 A7.8,13.5 -30 0 0 42.4,644.8" fill="none" stroke="#222" stroke-width="0.7"/>
<ellipse cx="33" cy="636" rx="1.6" ry="2" fill="#fff" stroke="#222" stroke-width="0.7" transform="rotate(-30 33 636)"/>
<ellipse cx="48.8" cy="635" rx="1.6" ry="2" fill="#fff" stroke="#222" stroke-width="0.7" transform="rotate(-30 48.8 635)"/>
<ellipse cx="64.5" cy="655.6" rx="1.6" ry="2" fill="#fff" stroke="#222" stroke-width="0.7" transform="rotate(-30 64.5 655.6)"/>
<ellipse cx="65.2" cy="676" rx="1.6" ry="2" fill="#fff" stroke="#222" stroke-width="0.7" transform="rotate(-30 65.2 676)"/>
<line x1="25" y1="672" x2="47" y2="660" stroke="#222" stroke-width="0.7"/>
<polygon points="28.5,702.5 43.2,694 40.3,688.9 25.6,697.4" fill="#fff" stroke="#222" stroke-width="1.4" stroke-linejoin="round"/>
<line x1="30.6" y1="701.2" x2="28.4" y2="695.8" stroke="#222" stroke-width="0.7"/>
<line x1="32.7" y1="700" x2="30.5" y2="694.6" stroke="#222" stroke-width="0.7"/>
<line x1="34.8" y1="698.8" x2="32.6" y2="693.4" stroke="#222" stroke-width="0.7"/>
<line x1="36.9" y1="697.6" x2="34.7" y2="692.2" stroke="#222" stroke-width="0.7"/>
<line x1="39" y1="696.4" x2="36.8" y2="691" stroke="#222" stroke-width="0.7"/>
<line x1="41.1" y1="695.2" x2="38.9" y2="689.7" stroke="#222" stroke-width="0.7"/>
<ellipse cx="27" cy="699.9" rx="3.5" ry="5.8" fill="#fff" stroke="#222" stroke-width="1.4" transform="rotate(-30 27 699.9)"/>
<polygon points="22.9,709 29.9,705 24.1,694.9 17.1,699" fill="#fff" stroke="none" stroke-width="0" stroke-linejoin="round"/>
<line x1="22.9" y1="709" x2="29.9" y2="705" stroke="#222" stroke-width="1.4"/>
<line x1="17.1" y1="699" x2="24.1" y2="694.9" stroke="#222" stroke-width="1.4"/>
<ellipse cx="20" cy="704" rx="3.5" ry="5.8" fill="#fff" stroke="#222" stroke-width="1.4" transform="rotate(-30 20 704)"/>
<ellipse cx="20" cy="704" rx="1.7" ry="2.9" fill="none" stroke="#222" stroke-width="0.8" transform="rotate(-30 20 704)"/>
<polyline points="360,692 700,496" fill="none" stroke="#333" stroke-width="0.75" stroke-linejoin="round"/>
<ellipse cx="673.9" cy="504.5" rx="16.2" ry="28.1" fill="#fff" stroke="#222" stroke-width="1.8" transform="rotate(-30 673.9 504.5)"/>
<polygon points="679.4,533.7 687.9,528.8 659.8,480.2 651.4,485.1" fill="#fff" stroke="none" stroke-width="0" stroke-linejoin="round"/>
<line x1="679.4" y1="533.7" x2="687.9" y2="528.8" stroke="#222" stroke-width="1.8"/>
<line x1="651.4" y1="485.1" x2="659.8" y2="480.2" stroke="#222" stroke-width="1.8"/>
<ellipse cx="665.4" cy="509.4" rx="16.2" ry="28.1" fill="#fff" stroke="#222" stroke-width="1.8" transform="rotate(-30 665.4 509.4)"/>
<ellipse cx="665.4" cy="509.4" rx="14.6" ry="25.3" fill="none" stroke="#222" stroke-width="0.6" transform="rotate(-30 665.4 509.4)"/>
<ellipse cx="665.4" cy="509.4" rx="13" ry="22.5" fill="none" stroke="#222" stroke-width="0.7" transform="rotate(-30 665.4 509.4)"/>
<ellipse cx="665.4" cy="509.4" rx="9.7" ry="16.9" fill="none" stroke="#222" stroke-width="0.7" transform="rotate(-30 665.4 509.4)"/>
<ellipse cx="665.4" cy="509.4" rx="8.1" ry="14.1" fill="none" stroke="#222" stroke-width="1.0" transform="rotate(-30 665.4 509.4)"/>
<ellipse cx="675.2" cy="503.7" rx="2" ry="2" fill="none" stroke="#222" stroke-width="0.5"/>
<ellipse cx="678" cy="509.9" rx="2" ry="2" fill="none" stroke="#222" stroke-width="0.5"/>
<ellipse cx="679.3" cy="516" rx="2" ry="2" fill="none" stroke="#222" stroke-width="0.5"/>
<ellipse cx="678.8" cy="521.3" rx="2" ry="2" fill="none" stroke="#222" stroke-width="0.5"/>
<ellipse cx="676.8" cy="525.2" rx="2" ry="2" fill="none" stroke="#222" stroke-width="0.5"/>
<ellipse cx="673.4" cy="527.2" rx="2" ry="2" fill="none" stroke="#222" stroke-width="0.5"/>
<ellipse cx="669" cy="527" rx="2" ry="2" fill="none" stroke="#222" stroke-width="0.5"/>
<ellipse cx="664.2" cy="524.7" rx="2" ry="2" fill="none" stroke="#222" stroke-width="0.5"/>
<ellipse cx="659.5" cy="520.6" rx="2" ry="2" fill="none" stroke="#222" stroke-width="0.5"/>
<ellipse cx="655.6" cy="515.1" rx="2" ry="2" fill="none" stroke="#222" stroke-width="0.5"/>
<ellipse cx="652.8" cy="508.9" rx="2" ry="2" fill="none" stroke="#222" stroke-width="0.5"/>
<ellipse cx="651.5" cy="502.8" rx="2" ry="2" fill="none" stroke="#222" stroke-width="0.5"/>
<ellipse cx="652" cy="497.5" rx="2" ry="2" fill="none" stroke="#222" stroke-width="0.5"/>
<ellipse cx="654" cy="493.6" rx="2" ry="2" fill="none" stroke="#222" stroke-width="0.5"/>
<ellipse cx="657.4" cy="491.6" rx="2" ry="2" fill="none" stroke="#222" stroke-width="0.5"/>
<ellipse cx="661.8" cy="491.8" rx="2" ry="2" fill="none" stroke="#222" stroke-width="0.5"/>
<ellipse cx="666.6" cy="494.1" rx="2" ry="2" fill="none" stroke="#222" stroke-width="0.5"/>
<ellipse cx="671.3" cy="498.2" rx="2" ry="2" fill="none" stroke="#222" stroke-width="0.5"/>
<ellipse cx="633" cy="527.4" rx="14.8" ry="25.6" fill="#fff" stroke="#222" stroke-width="1.8" transform="rotate(-30 633 527.4)"/>
<polygon points="640.3,552.8 645.8,549.6 620.2,505.2 614.7,508.4" fill="#fff" stroke="none" stroke-width="0" stroke-linejoin="round"/>
<line x1="640.3" y1="552.8" x2="645.8" y2="549.6" stroke="#222" stroke-width="1.8"/>
<line x1="614.7" y1="508.4" x2="620.2" y2="505.2" stroke="#222" stroke-width="1.8"/>
<ellipse cx="627.5" cy="530.6" rx="14.8" ry="25.6" fill="#fff" stroke="#222" stroke-width="1.8" transform="rotate(-30 627.5 530.6)"/>
<ellipse cx="627.5" cy="530.6" rx="12.1" ry="21" fill="none" stroke="#222" stroke-width="1.8" transform="rotate(-30 627.5 530.6)"/>
<ellipse cx="599.5" cy="546.2" rx="10" ry="17.4" fill="#fff" stroke="#222" stroke-width="1.7" transform="rotate(-30 599.5 546.2)"/>
<polygon points="602.4,564.7 608.2,561.3 590.8,531.2 585,534.5" fill="#fff" stroke="none" stroke-width="0" stroke-linejoin="round"/>
<line x1="602.4" y1="564.7" x2="608.2" y2="561.3" stroke="#222" stroke-width="1.7"/>
<line x1="585" y1="534.5" x2="590.8" y2="531.2" stroke="#222" stroke-width="1.7"/>
<ellipse cx="593.7" cy="549.6" rx="10" ry="17.4" fill="#fff" stroke="#222" stroke-width="1.7" transform="rotate(-30 593.7 549.6)"/>
<ellipse cx="593.7" cy="549.6" rx="7.8" ry="13.5" fill="none" stroke="#222" stroke-width="1.6" transform="rotate(-30 593.7 549.6)"/>
<ellipse cx="566.3" cy="566.2" rx="15.9" ry="27.6" fill="#fff" stroke="#222" stroke-width="1.8" transform="rotate(-30 566.3 566.2)"/>
<polygon points="570.9,595.4 580.1,590.1 552.5,542.3 543.3,547.6" fill="#fff" stroke="none" stroke-width="0" stroke-linejoin="round"/>
<line x1="570.9" y1="595.4" x2="580.1" y2="590.1" stroke="#222" stroke-width="1.8"/>
<line x1="543.3" y1="547.6" x2="552.5" y2="542.3" stroke="#222" stroke-width="1.8"/>
<ellipse cx="557.1" cy="571.5" rx="15.9" ry="27.6" fill="#fff" stroke="#222" stroke-width="1.8" transform="rotate(-30 557.1 571.5)"/>
<ellipse cx="557.1" cy="571.5" rx="14.3" ry="24.8" fill="none" stroke="#222" stroke-width="0.6" transform="rotate(-30 557.1 571.5)"/>
<ellipse cx="557.1" cy="571.5" rx="12.7" ry="22.1" fill="none" stroke="#222" stroke-width="0.7" transform="rotate(-30 557.1 571.5)"/>
<ellipse cx="557.1" cy="571.5" rx="9.6" ry="16.6" fill="none" stroke="#222" stroke-width="0.7" transform="rotate(-30 557.1 571.5)"/>
<ellipse cx="557.1" cy="571.5" rx="8" ry="13.8" fill="none" stroke="#222" stroke-width="1.0" transform="rotate(-30 557.1 571.5)"/>
<ellipse cx="566.8" cy="565.9" rx="1.9" ry="1.9" fill="none" stroke="#222" stroke-width="0.5"/>
<ellipse cx="569.5" cy="572" rx="1.9" ry="1.9" fill="none" stroke="#222" stroke-width="0.5"/>
<ellipse cx="570.7" cy="578" rx="1.9" ry="1.9" fill="none" stroke="#222" stroke-width="0.5"/>
<ellipse cx="570.3" cy="583.2" rx="1.9" ry="1.9" fill="none" stroke="#222" stroke-width="0.5"/>
<ellipse cx="568.3" cy="587" rx="1.9" ry="1.9" fill="none" stroke="#222" stroke-width="0.5"/>
<ellipse cx="564.9" cy="588.9" rx="1.9" ry="1.9" fill="none" stroke="#222" stroke-width="0.5"/>
<ellipse cx="560.6" cy="588.8" rx="1.9" ry="1.9" fill="none" stroke="#222" stroke-width="0.5"/>
<ellipse cx="555.9" cy="586.5" rx="1.9" ry="1.9" fill="none" stroke="#222" stroke-width="0.5"/>
<ellipse cx="551.3" cy="582.5" rx="1.9" ry="1.9" fill="none" stroke="#222" stroke-width="0.5"/>
<ellipse cx="547.4" cy="577.1" rx="1.9" ry="1.9" fill="none" stroke="#222" stroke-width="0.5"/>
<ellipse cx="544.7" cy="571" rx="1.9" ry="1.9" fill="none" stroke="#222" stroke-width="0.5"/>
<ellipse cx="543.5" cy="565" rx="1.9" ry="1.9" fill="none" stroke="#222" stroke-width="0.5"/>
<ellipse cx="543.9" cy="559.8" rx="1.9" ry="1.9" fill="none" stroke="#222" stroke-width="0.5"/>
<ellipse cx="545.9" cy="556" rx="1.9" ry="1.9" fill="none" stroke="#222" stroke-width="0.5"/>
<ellipse cx="549.3" cy="554.1" rx="1.9" ry="1.9" fill="none" stroke="#222" stroke-width="0.5"/>
<ellipse cx="553.6" cy="554.2" rx="1.9" ry="1.9" fill="none" stroke="#222" stroke-width="0.5"/>
<ellipse cx="558.3" cy="556.5" rx="1.9" ry="1.9" fill="none" stroke="#222" stroke-width="0.5"/>
<ellipse cx="562.9" cy="560.5" rx="1.9" ry="1.9" fill="none" stroke="#222" stroke-width="0.5"/>
<ellipse cx="528.5" cy="588.1" rx="10.2" ry="17.7" fill="#fff" stroke="#222" stroke-width="1.6" transform="rotate(-30 528.5 588.1)"/>
<polygon points="533.1,605.9 537.4,603.5 519.7,572.8 515.4,575.3" fill="#fff" stroke="none" stroke-width="0" stroke-linejoin="round"/>
<line x1="533.1" y1="605.9" x2="537.4" y2="603.5" stroke="#222" stroke-width="1.6"/>
<line x1="515.4" y1="575.3" x2="519.7" y2="572.8" stroke="#222" stroke-width="1.6"/>
<ellipse cx="524.3" cy="590.6" rx="10.2" ry="17.7" fill="#fff" stroke="#222" stroke-width="1.6" transform="rotate(-30 524.3 590.6)"/>
<ellipse cx="520.3" cy="582.6" rx="1.4" ry="1.4" fill="#fff" stroke="#222" stroke-width="0.7"/>
<ellipse cx="530.3" cy="596.6" rx="1.4" ry="1.4" fill="#fff" stroke="#222" stroke-width="0.7"/>
<ellipse cx="517.3" cy="598.6" rx="1.4" ry="1.4" fill="#fff" stroke="#222" stroke-width="0.7"/>
<polygon points="497,600.5 509.2,593.5 506.4,588.8 494.3,595.8" fill="#fff" stroke="#222" stroke-width="1.4" stroke-linejoin="round"/>
<line x1="499.1" y1="599.4" x2="497" y2="594.2" stroke="#222" stroke-width="0.7"/>
<line x1="501.1" y1="598.2" x2="499" y2="593" stroke="#222" stroke-width="0.7"/>
<line x1="503.1" y1="597" x2="501" y2="591.9" stroke="#222" stroke-width="0.7"/>
<line x1="505.1" y1="595.9" x2="503.1" y2="590.7" stroke="#222" stroke-width="0.7"/>
<line x1="507.1" y1="594.7" x2="505.1" y2="589.5" stroke="#222" stroke-width="0.7"/>
<ellipse cx="495.7" cy="598.1" rx="3.3" ry="5.5" fill="#fff" stroke="#222" stroke-width="1.4" transform="rotate(-30 495.7 598.1)"/>
<polygon points="491.8,606.8 498.4,602.9 492.9,593.4 486.2,597.2" fill="#fff" stroke="none" stroke-width="0" stroke-linejoin="round"/>
<line x1="491.8" y1="606.8" x2="498.4" y2="602.9" stroke="#222" stroke-width="1.4"/>
<line x1="486.2" y1="597.2" x2="492.9" y2="593.4" stroke="#222" stroke-width="1.4"/>
<ellipse cx="489" cy="602" rx="3.3" ry="5.5" fill="#fff" stroke="#222" stroke-width="1.4" transform="rotate(-30 489 602)"/>
<ellipse cx="489" cy="602" rx="1.6" ry="2.8" fill="none" stroke="#222" stroke-width="0.8" transform="rotate(-30 489 602)"/>
<ellipse cx="446.4" cy="635.4" rx="15.9" ry="27.6" fill="#fff" stroke="#222" stroke-width="2.0" transform="rotate(-30 446.4 635.4)"/>
<polygon points="458.1,660.5 460.2,659.3 432.6,611.5 430.5,612.7" fill="#fff" stroke="none" stroke-width="0" stroke-linejoin="round"/>
<line x1="458.1" y1="660.5" x2="460.2" y2="659.3" stroke="#222" stroke-width="2.0"/>
<line x1="430.5" y1="612.7" x2="432.6" y2="611.5" stroke="#222" stroke-width="2.0"/>
<ellipse cx="444.3" cy="636.6" rx="15.9" ry="27.6" fill="#fff" stroke="#222" stroke-width="2.0" transform="rotate(-30 444.3 636.6)"/>
<ellipse cx="444.3" cy="636.6" rx="14.7" ry="25.5" fill="none" stroke="#222" stroke-width="1.8" transform="rotate(-30 444.3 636.6)"/>
<ellipse cx="403.3" cy="661" rx="22.9" ry="39.7" fill="#fff" stroke="#222" stroke-width="1.7" transform="rotate(-30 403.3 661)"/>
<polygon points="418,698.4 423.1,695.4 383.4,626.6 378.2,629.6" fill="#fff" stroke="none" stroke-width="0" stroke-linejoin="round"/>
<line x1="418" y1="698.4" x2="423.1" y2="695.4" stroke="#222" stroke-width="1.7"/>
<line x1="378.2" y1="629.6" x2="383.4" y2="626.6" stroke="#222" stroke-width="1.7"/>
<ellipse cx="398.1" cy="664" rx="22.9" ry="39.7" fill="#fff" stroke="#222" stroke-width="1.7" transform="rotate(-30 398.1 664)"/>
<ellipse cx="398.1" cy="664" rx="17.3" ry="30" fill="none" stroke="#222" stroke-width="0.8" transform="rotate(-30 398.1 664)"/>
<ellipse cx="398.1" cy="664" rx="16.2" ry="28" fill="none" stroke="#222" stroke-width="0.6" transform="rotate(-30 398.1 664)"/>
<ellipse cx="390.1" cy="636" rx="1.6" ry="1.6" fill="#fff" stroke="#222" stroke-width="0.7"/>
<ellipse cx="418.1" cy="678" rx="1.6" ry="1.6" fill="#fff" stroke="#222" stroke-width="0.7"/>
<ellipse cx="386.1" cy="682" rx="1.6" ry="1.6" fill="#fff" stroke="#222" stroke-width="0.7"/>
<polygon points="353,701.5 365.2,694.5 362.4,689.8 350.3,696.8" fill="#fff" stroke="#222" stroke-width="1.4" stroke-linejoin="round"/>
<line x1="355.1" y1="700.4" x2="353" y2="695.2" stroke="#222" stroke-width="0.7"/>
<line x1="357.1" y1="699.2" x2="355" y2="694" stroke="#222" stroke-width="0.7"/>
<line x1="359.1" y1="698" x2="357" y2="692.9" stroke="#222" stroke-width="0.7"/>
<line x1="361.1" y1="696.9" x2="359.1" y2="691.7" stroke="#222" stroke-width="0.7"/>
<line x1="363.1" y1="695.7" x2="361.1" y2="690.5" stroke="#222" stroke-width="0.7"/>
<ellipse cx="351.7" cy="699.1" rx="3.3" ry="5.5" fill="#fff" stroke="#222" stroke-width="1.4" transform="rotate(-30 351.7 699.1)"/>
<polygon points="347.8,707.8 354.4,703.9 348.9,694.4 342.2,698.2" fill="#fff" stroke="none" stroke-width="0" stroke-linejoin="round"/>
<line x1="347.8" y1="707.8" x2="354.4" y2="703.9" stroke="#222" stroke-width="1.4"/>
<line x1="342.2" y1="698.2" x2="348.9" y2="694.4" stroke="#222" stroke-width="1.4"/>
<ellipse cx="345" cy="703" rx="3.3" ry="5.5" fill="#fff" stroke="#222" stroke-width="1.4" transform="rotate(-30 345 703)"/>
<ellipse cx="345" cy="703" rx="1.6" ry="2.8" fill="none" stroke="#222" stroke-width="0.8" transform="rotate(-30 345 703)"/>
<polyline points="840,375 1215,592" fill="none" stroke="#333" stroke-width="0.75" stroke-linejoin="round"/>
<polyline points="1215,592 1290,637" fill="none" stroke="#333" stroke-width="0.75" stroke-linejoin="round"/>
<ellipse cx="854.2" cy="389.4" rx="5.8" ry="10" fill="#fff" stroke="#222" stroke-width="1.6" transform="rotate(210 854.2 389.4)"/>
<polygon points="876.5,390.7 859.2,380.7 849.2,398.1 866.5,408.1" fill="#fff" stroke="none" stroke-width="0" stroke-linejoin="round"/>
<line x1="876.5" y1="390.7" x2="859.2" y2="380.7" stroke="#222" stroke-width="1.6"/>
<line x1="866.5" y1="408.1" x2="849.2" y2="398.1" stroke="#222" stroke-width="1.6"/>
<ellipse cx="871.5" cy="399.4" rx="5.8" ry="10" fill="#fff" stroke="#222" stroke-width="1.6" transform="rotate(210 871.5 399.4)"/>
<ellipse cx="871.5" cy="399.4" rx="7.8" ry="13.5" fill="#fff" stroke="#222" stroke-width="1.6" transform="rotate(210 871.5 399.4)"/>
<polygon points="886.9,392.7 878.2,387.7 864.7,411.1 873.4,416.1" fill="#fff" stroke="none" stroke-width="0" stroke-linejoin="round"/>
<line x1="886.9" y1="392.7" x2="878.2" y2="387.7" stroke="#222" stroke-width="1.6"/>
<line x1="873.4" y1="416.1" x2="864.7" y2="411.1" stroke="#222" stroke-width="1.6"/>
<ellipse cx="880.2" cy="404.4" rx="7.8" ry="13.5" fill="#fff" stroke="#222" stroke-width="1.6" transform="rotate(210 880.2 404.4)"/>
<ellipse cx="880.2" cy="404.4" rx="6.9" ry="12" fill="#fff" stroke="#222" stroke-width="1.6" transform="rotate(210 880.2 404.4)"/>
<polygon points="893.1,398 886.2,394 874.2,414.8 881.1,418.8" fill="#fff" stroke="none" stroke-width="0" stroke-linejoin="round"/>
<line x1="893.1" y1="398" x2="886.2" y2="394" stroke="#222" stroke-width="1.6"/>
<line x1="881.1" y1="418.8" x2="874.2" y2="414.8" stroke="#222" stroke-width="1.6"/>
<ellipse cx="887.1" cy="408.4" rx="6.9" ry="12" fill="#fff" stroke="#222" stroke-width="1.6" transform="rotate(210 887.1 408.4)"/>
<ellipse cx="887.1" cy="408.4" rx="9.5" ry="16.5" fill="#fff" stroke="#222" stroke-width="1.6" transform="rotate(210 887.1 408.4)"/>
<polygon points="923.1,410.1 895.3,394.1 878.8,422.7 906.6,438.7" fill="#fff" stroke="none" stroke-width="0" stroke-linejoin="round"/>
<line x1="923.1" y1="410.1" x2="895.3" y2="394.1" stroke="#222" stroke-width="1.6"/>
<line x1="906.6" y1="438.7" x2="878.8" y2="422.7" stroke="#222" stroke-width="1.6"/>
<ellipse cx="914.8" cy="424.4" rx="9.5" ry="16.5" fill="#fff" stroke="#222" stroke-width="1.6" transform="rotate(210 914.8 424.4)"/>
<ellipse cx="914.8" cy="424.4" rx="7.5" ry="13" fill="#fff" stroke="#222" stroke-width="1.6" transform="rotate(210 914.8 424.4)"/>
<polygon points="940.4,424.1 921.3,413.1 908.3,435.7 927.4,446.7" fill="#fff" stroke="none" stroke-width="0" stroke-linejoin="round"/>
<line x1="940.4" y1="424.1" x2="921.3" y2="413.1" stroke="#222" stroke-width="1.6"/>
<line x1="927.4" y1="446.7" x2="908.3" y2="435.7" stroke="#222" stroke-width="1.6"/>
<ellipse cx="933.9" cy="435.4" rx="7.5" ry="13" fill="#fff" stroke="#222" stroke-width="1.6" transform="rotate(210 933.9 435.4)"/>
<ellipse cx="933.9" cy="435.4" rx="5.5" ry="9.5" fill="#fff" stroke="#222" stroke-width="1.6" transform="rotate(210 933.9 435.4)"/>
<polygon points="965.5,442.7 938.6,427.2 929.1,443.6 956,459.1" fill="#fff" stroke="none" stroke-width="0" stroke-linejoin="round"/>
<line x1="965.5" y1="442.7" x2="938.6" y2="427.2" stroke="#222" stroke-width="1.6"/>
<line x1="956" y1="459.1" x2="929.1" y2="443.6" stroke="#222" stroke-width="1.6"/>
<ellipse cx="960.7" cy="450.9" rx="5.5" ry="9.5" fill="#fff" stroke="#222" stroke-width="1.6" transform="rotate(210 960.7 450.9)"/>
<path d="M920.5,408.6 A9.5,16.5 210 0 0 904,437.2" fill="none" stroke="#222" stroke-width="0.8"/>
<path d="M916.1,406.1 A9.5,16.5 210 0 0 899.6,434.7" fill="none" stroke="#222" stroke-width="0.8"/>
<path d="M911.8,403.6 A9.5,16.5 210 0 0 895.3,432.2" fill="none" stroke="#222" stroke-width="0.8"/>
<path d="M907.5,401.1 A9.5,16.5 210 0 0 891,429.7" fill="none" stroke="#222" stroke-width="0.8"/>
<path d="M903.1,398.6 A9.5,16.5 210 0 0 886.6,427.2" fill="none" stroke="#222" stroke-width="0.8"/>
<path d="M898.8,396.1 A9.5,16.5 210 0 0 882.3,424.7" fill="none" stroke="#222" stroke-width="0.8"/>
<path d="M886.9,392.7 A7.8,13.5 210 0 0 873.4,416.1" fill="none" stroke="#222" stroke-width="0.8"/>
<line x1="957.2" y1="457" x2="932.1" y2="442.5" stroke="#222" stroke-width="0.7"/>
<line x1="959" y1="453.9" x2="933.8" y2="439.4" stroke="#222" stroke-width="0.7"/>
<line x1="960.7" y1="450.9" x2="935.6" y2="436.4" stroke="#222" stroke-width="0.7"/>
<line x1="962.5" y1="447.9" x2="937.3" y2="433.4" stroke="#222" stroke-width="0.7"/>
<line x1="964.2" y1="444.8" x2="939.1" y2="430.3" stroke="#222" stroke-width="0.7"/>
<ellipse cx="960.7" cy="450.9" rx="2.9" ry="5" fill="none" stroke="#222" stroke-width="0.8" transform="rotate(30 960.7 450.9)"/>
<ellipse cx="986.3" cy="465" rx="11.4" ry="19.7" fill="#fff" stroke="#222" stroke-width="1.8" transform="rotate(210 986.3 465)"/>
<polygon points="1004.9,452.9 996.2,447.9 976.5,482.1 985.1,487.1" fill="#fff" stroke="none" stroke-width="0" stroke-linejoin="round"/>
<line x1="1004.9" y1="452.9" x2="996.2" y2="447.9" stroke="#222" stroke-width="1.8"/>
<line x1="985.1" y1="487.1" x2="976.5" y2="482.1" stroke="#222" stroke-width="1.8"/>
<ellipse cx="995" cy="470" rx="11.4" ry="19.7" fill="#fff" stroke="#222" stroke-width="1.8" transform="rotate(210 995 470)"/>
<ellipse cx="995" cy="470" rx="10.2" ry="17.7" fill="none" stroke="#222" stroke-width="0.6" transform="rotate(210 995 470)"/>
<ellipse cx="995" cy="470" rx="9.1" ry="15.8" fill="none" stroke="#222" stroke-width="0.7" transform="rotate(210 995 470)"/>
<ellipse cx="995" cy="470" rx="6.8" ry="11.8" fill="none" stroke="#222" stroke-width="0.7" transform="rotate(210 995 470)"/>
<ellipse cx="995" cy="470" rx="5.7" ry="9.8" fill="none" stroke="#222" stroke-width="1.0" transform="rotate(210 995 470)"/>
<ellipse cx="988.1" cy="466" rx="1.4" ry="1.4" fill="none" stroke="#222" stroke-width="0.5"/>
<ellipse cx="992.5" cy="460.6" rx="1.4" ry="1.4" fill="none" stroke="#222" stroke-width="0.5"/>
<ellipse cx="997.5" cy="457.7" rx="1.4" ry="1.4" fill="none" stroke="#222" stroke-width="0.5"/>
<ellipse cx="1001.9" cy="458.1" rx="1.4" ry="1.4" fill="none" stroke="#222" stroke-width="0.5"/>
<ellipse cx="1004.4" cy="461.6" rx="1.4" ry="1.4" fill="none" stroke="#222" stroke-width="0.5"/>
<ellipse cx="1004.4" cy="467.5" rx="1.4" ry="1.4" fill="none" stroke="#222" stroke-width="0.5"/>
<ellipse cx="1001.9" cy="474" rx="1.4" ry="1.4" fill="none" stroke="#222" stroke-width="0.5"/>
<ellipse cx="997.5" cy="479.4" rx="1.4" ry="1.4" fill="none" stroke="#222" stroke-width="0.5"/>
<ellipse cx="992.5" cy="482.3" rx="1.4" ry="1.4" fill="none" stroke="#222" stroke-width="0.5"/>
<ellipse cx="988.1" cy="481.9" rx="1.4" ry="1.4" fill="none" stroke="#222" stroke-width="0.5"/>
<ellipse cx="985.6" cy="478.4" rx="1.4" ry="1.4" fill="none" stroke="#222" stroke-width="0.5"/>
<ellipse cx="985.6" cy="472.5" rx="1.4" ry="1.4" fill="none" stroke="#222" stroke-width="0.5"/>
<ellipse cx="1023.8" cy="485.8" rx="11.2" ry="19.4" fill="#fff" stroke="#222" stroke-width="1.7" transform="rotate(210 1023.8 485.8)"/>
<polygon points="1037.2,471.1 1033.5,468.9 1014.1,502.6 1017.8,504.7" fill="#fff" stroke="none" stroke-width="0" stroke-linejoin="round"/>
<line x1="1037.2" y1="471.1" x2="1033.5" y2="468.9" stroke="#222" stroke-width="1.7"/>
<line x1="1017.8" y1="504.7" x2="1014.1" y2="502.6" stroke="#222" stroke-width="1.7"/>
<ellipse cx="1027.5" cy="487.9" rx="11.2" ry="19.4" fill="#fff" stroke="#222" stroke-width="1.7" transform="rotate(210 1027.5 487.9)"/>
<ellipse cx="1027.5" cy="487.9" rx="7.2" ry="12.5" fill="none" stroke="#222" stroke-width="1.8" transform="rotate(210 1027.5 487.9)"/>
<ellipse cx="1054.8" cy="504.1" rx="12" ry="20.8" fill="none" stroke="#222" stroke-width="1.3" transform="rotate(30 1054.8 504.1)"/>
<ellipse cx="1055.3" cy="504.4" rx="10.7" ry="18.5" fill="none" stroke="#222" stroke-width="0.8" transform="rotate(30 1055.3 504.4)"/>
<ellipse cx="1103.6" cy="532.2" rx="26.9" ry="46.7" fill="#fff" stroke="#222" stroke-width="1.8" transform="rotate(210 1103.6 532.2)"/>
<polygon points="1135,496.5 1126.9,491.8 1080.2,572.6 1088.4,577.3" fill="#fff" stroke="none" stroke-width="0" stroke-linejoin="round"/>
<line x1="1135" y1="496.5" x2="1126.9" y2="491.8" stroke="#222" stroke-width="1.8"/>
<line x1="1088.4" y1="577.3" x2="1080.2" y2="572.6" stroke="#222" stroke-width="1.8"/>
<ellipse cx="1111.7" cy="536.9" rx="26.9" ry="46.7" fill="#fff" stroke="#222" stroke-width="1.8" transform="rotate(210 1111.7 536.9)"/>
<ellipse cx="1111.7" cy="536.9" rx="23.1" ry="40" fill="none" stroke="#222" stroke-width="0.8" transform="rotate(30 1111.7 536.9)"/>
<polygon points="1128.4,546.6 1128.1,547.2 1127.1,547.5 1126.7,548.1 1126.9,549.1 1126.5,549.8 1125.5,549.9 1125.1,550.5 1125.2,551.6 1124.7,552.2 1123.8,552.2 1123.4,552.8 1123.4,553.9 1122.9,554.5 1122.1,554.4 1121.6,554.9 1121.5,556.1 1121,556.7 1120.2,556.5 1119.7,557 1119.5,558.2 1119,558.7 1118.3,558.4 1117.8,558.8 1117.5,560.1 1117,560.5 1116.3,560.1 1115.8,560.5 1115.4,561.8 1114.9,562.2 1114.2,561.6 1113.7,562 1113.3,563.3 1112.8,563.6 1112.2,563 1111.7,563.3 1111.2,564.5 1110.6,564.8 1110.2,564.1 1109.6,564.3 1109,565.6 1108.5,565.8 1108.1,565 1107.6,565.2 1106.9,566.4 1106.4,566.6 1106.1,565.7 1105.6,565.8 1104.9,567 1104.4,567.1 1104.2,566.1 1103.7,566.2 1102.9,567.4 1102.4,567.4 1102.3,566.4 1101.8,566.4 1100.9,567.5 1100.5,567.5 1100.4,566.3 1100,566.3 1099.1,567.3 1098.6,567.3 1098.7,566.1 1098.3,566 1097.3,566.9 1096.9,566.8 1097.1,565.6 1096.7,565.4 1095.7,566.3 1095.3,566.1 1095.5,564.9 1095.2,564.7 1094.2,565.4 1093.9,565.2 1094.2,563.9 1093.8,563.7 1092.9,564.4 1092.5,564 1092.9,562.8 1092.6,562.4 1091.6,563 1091.4,562.7 1091.8,561.4 1091.6,561 1090.6,561.5 1090.4,561.1 1090.9,559.8 1090.7,559.4 1089.7,559.8 1089.5,559.3 1090.1,558.1 1090,557.6 1089,557.9 1088.9,557.4 1089.6,556.1 1089.4,555.6 1088.5,555.8 1088.4,555.2 1089.1,554.1 1089.1,553.5 1088.2,553.6 1088.1,553 1088.9,551.8 1088.9,551.3 1088,551.2 1088,550.6 1088.9,549.5 1088.9,548.9 1088.1,548.7 1088.1,548.1 1089,547.1 1089.1,546.4 1088.3,546.1 1088.4,545.5 1089.3,544.5 1089.4,543.9 1088.7,543.5 1088.9,542.8 1089.8,541.9 1090,541.3 1089.4,540.8 1089.5,540.1 1090.5,539.3 1090.7,538.7 1090.1,538 1090.4,537.4 1091.4,536.7 1091.6,536 1091.1,535.3 1091.4,534.6 1092.4,534 1092.6,533.4 1092.2,532.6 1092.5,531.9 1093.5,531.4 1093.9,530.8 1093.5,529.9 1093.9,529.2 1094.9,528.8 1095.2,528.2 1095,527.2 1095.3,526.6 1096.3,526.3 1096.7,525.7 1096.5,524.7 1096.9,524 1097.9,523.9 1098.3,523.3 1098.2,522.2 1098.7,521.6 1099.6,521.6 1100,521 1100,519.9 1100.5,519.3 1101.3,519.4 1101.8,518.9 1101.9,517.7 1102.4,517.1 1103.2,517.3 1103.7,516.8 1103.9,515.6 1104.4,515.1 1105.1,515.4 1105.6,515 1105.9,513.7 1106.4,513.3 1107.1,513.7 1107.6,513.3 1108,512 1108.5,511.6 1109.2,512.2 1109.7,511.8 1110.1,510.5 1110.6,510.2 1111.2,510.8 1111.7,510.5 1112.2,509.3 1112.8,509 1113.2,509.7 1113.8,509.5 1114.4,508.2 1114.9,508 1115.3,508.8 1115.8,508.6 1116.5,507.4 1117,507.2 1117.3,508.1 1117.8,508 1118.5,506.8 1119,506.7 1119.2,507.7 1119.7,507.6 1120.5,506.4 1121,506.4 1121.1,507.4 1121.6,507.4 1122.5,506.3 1122.9,506.3 1123,507.5 1123.4,507.5 1124.3,506.5 1124.8,506.5 1124.7,507.7 1125.1,507.8 1126.1,506.9 1126.5,507 1126.3,508.2 1126.7,508.4 1127.7,507.5 1128.1,507.7 1127.9,508.9 1128.2,509.1 1129.2,508.4 1129.5,508.6 1129.2,509.9 1129.6,510.1 1130.5,509.4 1130.9,509.8 1130.5,511 1130.8,511.4 1131.8,510.8 1132,511.1 1131.6,512.4 1131.8,512.8 1132.8,512.3 1133,512.7 1132.5,514 1132.7,514.4 1133.7,514 1133.9,514.5 1133.3,515.7 1133.4,516.2 1134.4,515.9 1134.5,516.4 1133.8,517.7 1134,518.2 1134.9,518 1135,518.6 1134.3,519.7 1134.3,520.3 1135.2,520.2 1135.3,520.8 1134.5,522 1134.5,522.5 1135.4,522.6 1135.4,523.2 1134.5,524.3 1134.5,524.9 1135.3,525.1 1135.3,525.7 1134.4,526.7 1134.3,527.4 1135.1,527.7 1135,528.3 1134.1,529.3 1134,529.9 1134.7,530.3 1134.5,531 1133.6,531.9 1133.4,532.5 1134,533 1133.9,533.7 1132.9,534.5 1132.7,535.1 1133.3,535.8 1133,536.4 1132,537.1 1131.8,537.8 1132.3,538.5 1132,539.2 1131,539.8 1130.8,540.4 1131.2,541.2 1130.9,541.9 1129.9,542.4 1129.5,543 1129.9,543.9 1129.5,544.6 1128.5,545 1128.2,545.6" fill="#fff" stroke="#222" stroke-width="1.0" stroke-linejoin="round"/>
<line x1="1129.6" y1="509.9" x2="1127.3" y2="508.6" stroke="#222" stroke-width="0.6"/>
<line x1="1130.5" y1="510.8" x2="1126.8" y2="508.6" stroke="#222" stroke-width="0.6"/>
<line x1="1131.4" y1="511.9" x2="1126.2" y2="508.8" stroke="#222" stroke-width="0.6"/>
<line x1="1132.2" y1="513" x2="1125.5" y2="509.2" stroke="#222" stroke-width="0.6"/>
<line x1="1132.9" y1="514.3" x2="1124.7" y2="509.6" stroke="#222" stroke-width="0.6"/>
<line x1="1133.4" y1="515.7" x2="1124.8" y2="510.7" stroke="#222" stroke-width="0.6"/>
<line x1="1133.9" y1="517.2" x2="1125.2" y2="512.2" stroke="#222" stroke-width="0.6"/>
<line x1="1134.3" y1="518.8" x2="1125.6" y2="513.8" stroke="#222" stroke-width="0.6"/>
<line x1="1134.5" y1="520.5" x2="1125.8" y2="515.5" stroke="#222" stroke-width="0.6"/>
<line x1="1134.6" y1="522.3" x2="1126" y2="517.3" stroke="#222" stroke-width="0.6"/>
<line x1="1134.7" y1="524.1" x2="1126" y2="519.1" stroke="#222" stroke-width="0.6"/>
<line x1="1134.6" y1="526" x2="1125.9" y2="521" stroke="#222" stroke-width="0.6"/>
<line x1="1134.4" y1="527.9" x2="1125.7" y2="522.9" stroke="#222" stroke-width="0.6"/>
<line x1="1134.1" y1="529.9" x2="1125.4" y2="524.9" stroke="#222" stroke-width="0.6"/>
<line x1="1133.7" y1="532" x2="1125" y2="527" stroke="#222" stroke-width="0.6"/>
<line x1="1133.1" y1="534" x2="1124.5" y2="529" stroke="#222" stroke-width="0.6"/>
<line x1="1132.5" y1="536.1" x2="1123.9" y2="531.1" stroke="#222" stroke-width="0.6"/>
<line x1="1131.8" y1="538.2" x2="1123.1" y2="533.2" stroke="#222" stroke-width="0.6"/>
<line x1="1131" y1="540.2" x2="1122.3" y2="535.2" stroke="#222" stroke-width="0.6"/>
<line x1="1130" y1="542.3" x2="1121.4" y2="537.3" stroke="#222" stroke-width="0.6"/>
<line x1="1129" y1="544.3" x2="1120.4" y2="539.3" stroke="#222" stroke-width="0.6"/>
<line x1="1127.9" y1="546.3" x2="1119.3" y2="541.3" stroke="#222" stroke-width="0.6"/>
<line x1="1126.8" y1="548.2" x2="1118.1" y2="543.2" stroke="#222" stroke-width="0.6"/>
<line x1="1125.5" y1="550.1" x2="1116.9" y2="545.1" stroke="#222" stroke-width="0.6"/>
<line x1="1124.2" y1="551.9" x2="1115.5" y2="546.9" stroke="#222" stroke-width="0.6"/>
<line x1="1122.8" y1="553.7" x2="1114.2" y2="548.7" stroke="#222" stroke-width="0.6"/>
<line x1="1121.4" y1="555.3" x2="1112.7" y2="550.3" stroke="#222" stroke-width="0.6"/>
<line x1="1119.9" y1="556.9" x2="1111.3" y2="551.9" stroke="#222" stroke-width="0.6"/>
<line x1="1118.4" y1="558.4" x2="1109.8" y2="553.4" stroke="#222" stroke-width="0.6"/>
<line x1="1116.9" y1="559.8" x2="1108.2" y2="554.8" stroke="#222" stroke-width="0.6"/>
<line x1="1115.3" y1="561" x2="1106.6" y2="556" stroke="#222" stroke-width="0.6"/>
<line x1="1113.7" y1="562.2" x2="1105" y2="557.2" stroke="#222" stroke-width="0.6"/>
<line x1="1112.1" y1="563.2" x2="1103.4" y2="558.2" stroke="#222" stroke-width="0.6"/>
<line x1="1110.5" y1="564.1" x2="1101.8" y2="559.1" stroke="#222" stroke-width="0.6"/>
<line x1="1108.9" y1="564.9" x2="1100.2" y2="559.9" stroke="#222" stroke-width="0.6"/>
<line x1="1107.3" y1="565.5" x2="1098.6" y2="560.5" stroke="#222" stroke-width="0.6"/>
<line x1="1105.7" y1="566" x2="1097.1" y2="561" stroke="#222" stroke-width="0.6"/>
<line x1="1104.2" y1="566.3" x2="1095.6" y2="561.3" stroke="#222" stroke-width="0.6"/>
<line x1="1102.7" y1="566.5" x2="1094.6" y2="561.8" stroke="#222" stroke-width="0.6"/>
<line x1="1101.3" y1="566.6" x2="1094.6" y2="562.7" stroke="#222" stroke-width="0.6"/>
<line x1="1099.9" y1="566.5" x2="1094.6" y2="563.5" stroke="#222" stroke-width="0.6"/>
<line x1="1098.5" y1="566.2" x2="1094.8" y2="564.1" stroke="#222" stroke-width="0.6"/>
<line x1="1097.2" y1="565.9" x2="1095" y2="564.6" stroke="#222" stroke-width="0.6"/>
<path d="M1119.3,503.8 A18.8,32.5 210 0 1 1086.8,560" fill="none" stroke="#222" stroke-width="1.0"/>
<ellipse cx="1104.4" cy="509.6" rx="1.6" ry="1.6" fill="#fff" stroke="#222" stroke-width="0.7"/>
<ellipse cx="1131.7" cy="502.3" rx="1.6" ry="1.6" fill="#fff" stroke="#222" stroke-width="0.7"/>
<ellipse cx="1139" cy="529.6" rx="1.6" ry="1.6" fill="#fff" stroke="#222" stroke-width="0.7"/>
<ellipse cx="1119" cy="564.2" rx="1.6" ry="1.6" fill="#fff" stroke="#222" stroke-width="0.7"/>
<ellipse cx="1091.7" cy="571.5" rx="1.6" ry="1.6" fill="#fff" stroke="#222" stroke-width="0.7"/>
<ellipse cx="1084.4" cy="544.2" rx="1.6" ry="1.6" fill="#fff" stroke="#222" stroke-width="0.7"/>
<polygon points="1173.2,524.2 1157.6,515.2 1154.6,520.4 1170.2,529.4" fill="#fff" stroke="#222" stroke-width="1.4" stroke-linejoin="round"/>
<line x1="1171.3" y1="523.1" x2="1167.6" y2="527.9" stroke="#222" stroke-width="0.7"/>
<line x1="1169.3" y1="522" x2="1165.6" y2="526.7" stroke="#222" stroke-width="0.7"/>
<line x1="1167.4" y1="520.8" x2="1163.7" y2="525.6" stroke="#222" stroke-width="0.7"/>
<line x1="1165.4" y1="519.7" x2="1161.7" y2="524.5" stroke="#222" stroke-width="0.7"/>
<line x1="1163.5" y1="518.6" x2="1159.8" y2="523.4" stroke="#222" stroke-width="0.7"/>
<line x1="1161.5" y1="517.5" x2="1157.8" y2="522.2" stroke="#222" stroke-width="0.7"/>
<line x1="1159.6" y1="516.3" x2="1155.9" y2="521.1" stroke="#222" stroke-width="0.7"/>
<ellipse cx="1171.7" cy="526.8" rx="3.6" ry="6" fill="#fff" stroke="#222" stroke-width="1.4" transform="rotate(210 1171.7 526.8)"/>
<polygon points="1182,525.8 1174.7,521.6 1168.7,532 1176,536.2" fill="#fff" stroke="none" stroke-width="0" stroke-linejoin="round"/>
<line x1="1182" y1="525.8" x2="1174.7" y2="521.6" stroke="#222" stroke-width="1.4"/>
<line x1="1176" y1="536.2" x2="1168.7" y2="532" stroke="#222" stroke-width="1.4"/>
<ellipse cx="1179" cy="531" rx="3.6" ry="6" fill="#fff" stroke="#222" stroke-width="1.4" transform="rotate(210 1179 531)"/>
<ellipse cx="1179" cy="531" rx="1.8" ry="3" fill="none" stroke="#222" stroke-width="0.8" transform="rotate(210 1179 531)"/>
<ellipse cx="1188.5" cy="581.8" rx="13.8" ry="24" fill="#fff" stroke="#222" stroke-width="1.7" transform="rotate(210 1188.5 581.8)"/>
<polygon points="1210.9,567 1200.5,561 1176.5,602.6 1186.9,608.6" fill="#fff" stroke="none" stroke-width="0" stroke-linejoin="round"/>
<line x1="1210.9" y1="567" x2="1200.5" y2="561" stroke="#222" stroke-width="1.7"/>
<line x1="1186.9" y1="608.6" x2="1176.5" y2="602.6" stroke="#222" stroke-width="1.7"/>
<ellipse cx="1198.9" cy="587.8" rx="13.8" ry="24" fill="#fff" stroke="#222" stroke-width="1.7" transform="rotate(210 1198.9 587.8)"/>
<ellipse cx="1198.9" cy="587.8" rx="17.3" ry="30" fill="#fff" stroke="#222" stroke-width="1.7" transform="rotate(210 1198.9 587.8)"/>
<polygon points="1217.3,563.8 1213.9,561.8 1183.9,613.8 1187.3,615.8" fill="#fff" stroke="none" stroke-width="0" stroke-linejoin="round"/>
<line x1="1217.3" y1="563.8" x2="1213.9" y2="561.8" stroke="#222" stroke-width="1.7"/>
<line x1="1187.3" y1="615.8" x2="1183.9" y2="613.8" stroke="#222" stroke-width="1.7"/>
<ellipse cx="1202.3" cy="589.8" rx="17.3" ry="30" fill="#fff" stroke="#222" stroke-width="1.7" transform="rotate(210 1202.3 589.8)"/>
<ellipse cx="1202.3" cy="589.8" rx="19.2" ry="33.2" fill="#fff" stroke="#222" stroke-width="1.7" transform="rotate(210 1202.3 589.8)"/>
<polygon points="1230.2,567.5 1218.9,561 1185.7,618.6 1197,625.1" fill="#fff" stroke="none" stroke-width="0" stroke-linejoin="round"/>
<line x1="1230.2" y1="567.5" x2="1218.9" y2="561" stroke="#222" stroke-width="1.7"/>
<line x1="1197" y1="625.1" x2="1185.7" y2="618.6" stroke="#222" stroke-width="1.7"/>
<ellipse cx="1213.6" cy="596.3" rx="19.2" ry="33.2" fill="#fff" stroke="#222" stroke-width="1.7" transform="rotate(210 1213.6 596.3)"/>
<path d="M1208.3,565.5 A13.8,24 210 0 0 1184.3,607.1" fill="none" stroke="#222" stroke-width="0.7"/>
<path d="M1205.7,564 A13.8,24 210 0 0 1181.7,605.6" fill="none" stroke="#222" stroke-width="0.7"/>
<ellipse cx="1213.6" cy="596.3" rx="17.3" ry="30" fill="none" stroke="#222" stroke-width="0.7" transform="rotate(30 1213.6 596.3)"/>
<ellipse cx="1217" cy="595" rx="6.3" ry="11" fill="none" stroke="#222" stroke-width="0.9" transform="rotate(30 1217 595)"/>
<ellipse cx="1222.1" cy="607.6" rx="2.3" ry="3" fill="none" stroke="#222" stroke-width="0.8" transform="rotate(-30 1222.1 607.6)"/>
<ellipse cx="1222.1" cy="607.6" rx="1.2" ry="1.6" fill="none" stroke="#222" stroke-width="0.6" transform="rotate(-30 1222.1 607.6)"/>
<ellipse cx="1205.9" cy="617" rx="2.3" ry="3" fill="none" stroke="#222" stroke-width="0.8" transform="rotate(-30 1205.9 617)"/>
<ellipse cx="1197.7" cy="605.4" rx="2.3" ry="3" fill="none" stroke="#222" stroke-width="0.8" transform="rotate(-30 1197.7 605.4)"/>
<ellipse cx="1197.7" cy="605.4" rx="1.2" ry="1.6" fill="none" stroke="#222" stroke-width="0.6" transform="rotate(-30 1197.7 605.4)"/>
<ellipse cx="1205.9" cy="584.4" rx="2.3" ry="3" fill="none" stroke="#222" stroke-width="0.8" transform="rotate(-30 1205.9 584.4)"/>
<ellipse cx="1222.1" cy="575" rx="2.3" ry="3" fill="none" stroke="#222" stroke-width="0.8" transform="rotate(-30 1222.1 575)"/>
<ellipse cx="1222.1" cy="575" rx="1.2" ry="1.6" fill="none" stroke="#222" stroke-width="0.6" transform="rotate(-30 1222.1 575)"/>
<ellipse cx="1230.3" cy="586.6" rx="2.3" ry="3" fill="none" stroke="#222" stroke-width="0.8" transform="rotate(-30 1230.3 586.6)"/>
<polygon points="1222.4,526 1222.8,525.2 1223.9,524.8 1224.3,524.1 1224.4,522.9 1224.9,522.2 1225.9,522.2 1226.4,521.6 1226.7,520.2 1227.3,519.6 1228.1,519.9 1228.7,519.4 1229.2,518 1229.8,517.5 1230.5,518.1 1231.1,517.7 1231.8,516.4 1232.4,516 1232.9,516.8 1233.5,516.6 1234.3,515.4 1234.9,515.2 1235.2,516.2 1235.8,516.1 1236.7,515 1237.3,515.1 1237.4,516.2 1237.9,516.3 1238.9,515.4 1239.4,515.6 1239.3,516.9 1239.7,517.1 1240.7,516.5 1241.1,516.8 1240.8,518.2 1241.1,518.6 1242.1,518.1 1242.4,518.7 1241.9,520 1242.1,520.6 1243.1,520.4 1243.2,521 1242.5,522.3 1242.6,523 1243.5,523.1 1243.5,523.9 1242.6,525 1242.6,525.8 1243.3,526.2 1243.2,527 1242.2,528 1242.1,528.8 1242.7,529.4 1242.4,530.3 1241.4,531.1 1241.1,531.9 1241.5,532.8 1241.1,533.6 1240.1,534.2 1239.7,535 1239.9,536 1239.4,536.8 1238.4,537.2 1237.9,537.9 1237.8,539.1 1237.3,539.8 1236.3,539.8 1235.8,540.4 1235.5,541.8 1234.9,542.4 1234.1,542.1 1233.5,542.6 1233,544 1232.4,544.5 1231.7,543.9 1231.1,544.3 1230.5,545.6 1229.8,546 1229.3,545.2 1228.7,545.4 1227.9,546.6 1227.3,546.8 1227,545.8 1226.4,545.9 1225.5,547 1224.9,546.9 1224.8,545.8 1224.3,545.7 1223.3,546.6 1222.8,546.4 1223,545.1 1222.5,544.9 1221.5,545.5 1221.1,545.2 1221.4,543.8 1221.1,543.4 1220.1,543.9 1219.8,543.3 1220.3,542 1220.1,541.4 1219.2,541.6 1219,541 1219.7,539.7 1219.6,539 1218.8,538.9 1218.7,538.1 1219.6,537 1219.6,536.2 1218.9,535.8 1219,535 1220,534 1220.2,533.2 1219.6,532.6 1219.8,531.7 1220.8,530.9 1221.1,530.1 1220.7,529.2 1221.1,528.4 1222.2,527.8 1222.5,527" fill="#fff" stroke="#222" stroke-width="1.4" stroke-linejoin="round"/>
<polygon points="1250.2,521.8 1239.9,515.8 1222.4,546.2 1232.8,552.2" fill="#fff" stroke="none" stroke-width="0" stroke-linejoin="round"/>
<line x1="1250.2" y1="521.8" x2="1239.9" y2="515.8" stroke="#222" stroke-width="1.4"/>
<line x1="1232.8" y1="552.2" x2="1222.4" y2="546.2" stroke="#222" stroke-width="1.4"/>
<line x1="1233.5" y1="531.3" x2="1223.1" y2="525.3" stroke="#222" stroke-width="0.75"/>
<line x1="1234.4" y1="529.8" x2="1224" y2="523.8" stroke="#222" stroke-width="0.75"/>
<line x1="1235.5" y1="528.4" x2="1225.1" y2="522.4" stroke="#222" stroke-width="0.75"/>
<line x1="1236.6" y1="527.1" x2="1226.2" y2="521.1" stroke="#222" stroke-width="0.75"/>
<line x1="1237.8" y1="525.9" x2="1227.4" y2="519.9" stroke="#222" stroke-width="0.75"/>
<line x1="1239" y1="524.9" x2="1228.6" y2="518.9" stroke="#222" stroke-width="0.75"/>
<line x1="1240.2" y1="523.9" x2="1229.9" y2="517.9" stroke="#222" stroke-width="0.75"/>
<line x1="1241.5" y1="523.1" x2="1231.1" y2="517.1" stroke="#222" stroke-width="0.75"/>
<line x1="1242.8" y1="522.5" x2="1232.4" y2="516.5" stroke="#222" stroke-width="0.75"/>
<line x1="1244" y1="522" x2="1233.6" y2="516" stroke="#222" stroke-width="0.75"/>
<line x1="1245.2" y1="521.6" x2="1234.8" y2="515.6" stroke="#222" stroke-width="0.75"/>
<line x1="1246.4" y1="521.5" x2="1236" y2="515.5" stroke="#222" stroke-width="0.75"/>
<line x1="1247.5" y1="521.5" x2="1237.1" y2="515.5" stroke="#222" stroke-width="0.75"/>
<line x1="1248.6" y1="521.7" x2="1238.2" y2="515.7" stroke="#222" stroke-width="0.75"/>
<line x1="1249.6" y1="522" x2="1239.2" y2="516" stroke="#222" stroke-width="0.75"/>
<line x1="1232.6" y1="551.5" x2="1222.2" y2="545.5" stroke="#222" stroke-width="0.75"/>
<line x1="1231.8" y1="550.8" x2="1221.4" y2="544.8" stroke="#222" stroke-width="0.75"/>
<line x1="1231.1" y1="550" x2="1220.7" y2="544" stroke="#222" stroke-width="0.75"/>
<line x1="1230.5" y1="549" x2="1220.1" y2="543" stroke="#222" stroke-width="0.75"/>
<line x1="1230.1" y1="547.9" x2="1219.7" y2="541.9" stroke="#222" stroke-width="0.75"/>
<line x1="1229.7" y1="546.7" x2="1219.3" y2="540.7" stroke="#222" stroke-width="0.75"/>
<line x1="1229.5" y1="545.4" x2="1219.1" y2="539.4" stroke="#222" stroke-width="0.75"/>
<line x1="1229.5" y1="544" x2="1219.1" y2="538" stroke="#222" stroke-width="0.75"/>
<line x1="1229.5" y1="542.5" x2="1219.1" y2="536.5" stroke="#222" stroke-width="0.75"/>
<line x1="1229.7" y1="540.9" x2="1219.3" y2="534.9" stroke="#222" stroke-width="0.75"/>
<line x1="1230.1" y1="539.3" x2="1219.7" y2="533.3" stroke="#222" stroke-width="0.75"/>
<line x1="1230.5" y1="537.7" x2="1220.1" y2="531.7" stroke="#222" stroke-width="0.75"/>
<line x1="1231.1" y1="536.1" x2="1220.7" y2="530.1" stroke="#222" stroke-width="0.75"/>
<line x1="1231.8" y1="534.5" x2="1221.4" y2="528.5" stroke="#222" stroke-width="0.75"/>
<line x1="1232.6" y1="532.9" x2="1222.2" y2="526.9" stroke="#222" stroke-width="0.75"/>
<polygon points="1232.8,532 1233.2,531.2 1234.3,530.8 1234.7,530.1 1234.8,528.9 1235.3,528.2 1236.3,528.2 1236.8,527.6 1237.1,526.2 1237.7,525.6 1238.5,525.9 1239.1,525.4 1239.6,524 1240.2,523.5 1240.9,524.1 1241.5,523.7 1242.2,522.4 1242.8,522 1243.3,522.8 1243.9,522.6 1244.7,521.4 1245.3,521.2 1245.6,522.2 1246.2,522.1 1247.1,521 1247.7,521.1 1247.8,522.2 1248.3,522.3 1249.3,521.4 1249.8,521.6 1249.7,522.9 1250.1,523.1 1251.1,522.5 1251.5,522.8 1251.2,524.2 1251.5,524.6 1252.5,524.1 1252.8,524.7 1252.3,526 1252.5,526.6 1253.5,526.4 1253.6,527 1252.9,528.3 1253,529 1253.9,529.1 1253.9,529.9 1253,531 1253,531.8 1253.7,532.2 1253.6,533 1252.6,534 1252.5,534.8 1253,535.4 1252.8,536.3 1251.8,537.1 1251.5,537.9 1251.9,538.8 1251.5,539.6 1250.5,540.2 1250.1,541 1250.2,542 1249.8,542.8 1248.7,543.2 1248.3,543.9 1248.2,545.1 1247.7,545.8 1246.7,545.8 1246.2,546.4 1245.9,547.8 1245.3,548.4 1244.5,548.1 1243.9,548.6 1243.4,550 1242.8,550.5 1242.1,549.9 1241.5,550.3 1240.8,551.6 1240.2,552 1239.7,551.2 1239.1,551.4 1238.3,552.6 1237.7,552.8 1237.4,551.8 1236.8,551.9 1235.9,553 1235.3,552.9 1235.2,551.8 1234.7,551.7 1233.7,552.6 1233.2,552.4 1233.3,551.1 1232.9,550.9 1231.9,551.5 1231.5,551.2 1231.8,549.8 1231.5,549.4 1230.5,549.9 1230.2,549.3 1230.7,548 1230.5,547.4 1229.5,547.6 1229.4,547 1230.1,545.7 1230,545 1229.1,544.9 1229.1,544.1 1230,543 1230,542.2 1229.3,541.8 1229.4,541 1230.4,540 1230.5,539.2 1230,538.6 1230.2,537.7 1231.2,536.9 1231.5,536.1 1231.1,535.2 1231.5,534.4 1232.5,533.8 1232.9,533" fill="#fff" stroke="#222" stroke-width="1.4" stroke-linejoin="round"/>
<ellipse cx="1241.5" cy="537" rx="8.5" ry="14.8" fill="none" stroke="#222" stroke-width="0.7" transform="rotate(210 1241.5 537)"/>
<ellipse cx="1241.5" cy="537" rx="3.5" ry="6" fill="none" stroke="#222" stroke-width="1.2" transform="rotate(210 1241.5 537)"/>
<ellipse cx="1241.5" cy="537" rx="6.3" ry="11" fill="none" stroke="#222" stroke-width="0.7" transform="rotate(30 1241.5 537)"/>
<ellipse cx="1263.2" cy="548.5" rx="4.9" ry="8.5" fill="#fff" stroke="#222" stroke-width="1.4" transform="rotate(210 1263.2 548.5)"/>
<polygon points="1275.2,545.6 1267.5,541.1 1259,555.9 1266.8,560.4" fill="#fff" stroke="none" stroke-width="0" stroke-linejoin="round"/>
<line x1="1275.2" y1="545.6" x2="1267.5" y2="541.1" stroke="#222" stroke-width="1.4"/>
<line x1="1266.8" y1="560.4" x2="1259" y2="555.9" stroke="#222" stroke-width="1.4"/>
<ellipse cx="1271" cy="553" rx="4.9" ry="8.5" fill="#fff" stroke="#222" stroke-width="1.4" transform="rotate(210 1271 553)"/>
<line x1="1267.7" y1="549.2" x2="1259.9" y2="544.7" stroke="#222" stroke-width="0.6"/>
<line x1="1269.8" y1="546.9" x2="1262" y2="542.4" stroke="#222" stroke-width="0.6"/>
<line x1="1272.2" y1="545.5" x2="1264.4" y2="541" stroke="#222" stroke-width="0.6"/>
<line x1="1274.3" y1="545.3" x2="1266.5" y2="540.8" stroke="#222" stroke-width="0.6"/>
<line x1="1266" y1="559.7" x2="1258.2" y2="555.2" stroke="#222" stroke-width="0.6"/>
<line x1="1265.1" y1="557.8" x2="1257.3" y2="553.3" stroke="#222" stroke-width="0.6"/>
<line x1="1265.1" y1="555.1" x2="1257.3" y2="550.6" stroke="#222" stroke-width="0.6"/>
<line x1="1266" y1="552" x2="1258.2" y2="547.5" stroke="#222" stroke-width="0.6"/>
<ellipse cx="1271" cy="553" rx="4.9" ry="8.5" fill="none" stroke="#222" stroke-width="1.3" transform="rotate(30 1271 553)"/>
<ellipse cx="1271" cy="553" rx="3.5" ry="6" fill="none" stroke="#222" stroke-width="0.7" transform="rotate(30 1271 553)"/>
<ellipse cx="1286.1" cy="593.5" rx="3.2" ry="5.5" fill="#fff" stroke="#222" stroke-width="1.4" transform="rotate(210 1286.1 593.5)"/>
<polygon points="1308.8,600.2 1288.8,588.7 1283.3,598.3 1303.2,609.8" fill="#fff" stroke="none" stroke-width="0" stroke-linejoin="round"/>
<line x1="1308.8" y1="600.2" x2="1288.8" y2="588.7" stroke="#222" stroke-width="1.4"/>
<line x1="1303.2" y1="609.8" x2="1283.3" y2="598.3" stroke="#222" stroke-width="1.4"/>
<ellipse cx="1306" cy="605" rx="3.2" ry="5.5" fill="#fff" stroke="#222" stroke-width="1.4" transform="rotate(210 1306 605)"/>
<polyline points="1226.6,580.3 1244.5,589.6 1261.6,580.3 1282.6,591.2" fill="none" stroke="#222" stroke-width="0.7" stroke-linejoin="round" stroke-dasharray="12 3 2 3"/>
<polygon points="1276.7,629.8 1262.9,621.8 1260.1,626.5 1274,634.5" fill="#fff" stroke="#222" stroke-width="1.4" stroke-linejoin="round"/>
<line x1="1274.7" y1="628.6" x2="1271.3" y2="633" stroke="#222" stroke-width="0.7"/>
<line x1="1272.7" y1="627.5" x2="1269.3" y2="631.8" stroke="#222" stroke-width="0.7"/>
<line x1="1270.8" y1="626.3" x2="1267.3" y2="630.7" stroke="#222" stroke-width="0.7"/>
<line x1="1268.8" y1="625.2" x2="1265.3" y2="629.6" stroke="#222" stroke-width="0.7"/>
<line x1="1266.8" y1="624.1" x2="1263.4" y2="628.4" stroke="#222" stroke-width="0.7"/>
<line x1="1264.8" y1="622.9" x2="1261.4" y2="627.3" stroke="#222" stroke-width="0.7"/>
<ellipse cx="1275.3" cy="632.1" rx="3.3" ry="5.5" fill="#fff" stroke="#222" stroke-width="1.4" transform="rotate(210 1275.3 632.1)"/>
<polygon points="1284.8,631.2 1278.1,627.4 1272.6,636.9 1279.2,640.8" fill="#fff" stroke="none" stroke-width="0" stroke-linejoin="round"/>
<line x1="1284.8" y1="631.2" x2="1278.1" y2="627.4" stroke="#222" stroke-width="1.4"/>
<line x1="1279.2" y1="640.8" x2="1272.6" y2="636.9" stroke="#222" stroke-width="1.4"/>
<ellipse cx="1282" cy="636" rx="3.3" ry="5.5" fill="#fff" stroke="#222" stroke-width="1.4" transform="rotate(210 1282 636)"/>
<ellipse cx="1282" cy="636" rx="1.6" ry="2.8" fill="none" stroke="#222" stroke-width="0.8" transform="rotate(210 1282 636)"/>
<line x1="1293" y1="641" x2="1300" y2="646" stroke="#222" stroke-width="0.8"/>
<ellipse cx="1174.8" cy="641.1" rx="8.1" ry="14" fill="none" stroke="#222" stroke-width="1.3" transform="rotate(30 1174.8 641.1)"/>
<ellipse cx="1174.8" cy="641.1" rx="1.7" ry="3" fill="none" stroke="#222" stroke-width="0.9" transform="rotate(30 1174.8 641.1)"/>
<line x1="1182" y1="625" x2="1192" y2="612" stroke="#222" stroke-width="0.7"/>
<line x1="1232" y1="553" x2="1225" y2="566" stroke="#222" stroke-width="0.7"/>
<ellipse cx="860.2" cy="531" rx="9.2" ry="12" fill="none" stroke="#222" stroke-width="1.0" transform="rotate(-8 860.2 531)"/>
<ellipse cx="860.2" cy="531" rx="8" ry="10.8" fill="none" stroke="#222" stroke-width="0.7" transform="rotate(-8 860.2 531)"/>
<path d="M871.5,518.4 L891.3,507.5 Q893,507 894.2,507.8 L900.8,511.5 L902.3,519.9 L897.1,536.8 L896.4,542.6 Q894,544.5 891.3,544.1 L876.6,534.6 L873.7,530.2 Z" fill="#fff" stroke="#222" stroke-width="1.8" />
<path d="M872.5,519.5 L879.5,523.5 L881,531.5 L876.6,532.5 M879.5,523.5 Q884,521 882.5,519 L879,519.3 M883,521 L895.5,513.5 M892.6,510.4 L897,508.8 Q899.5,512 897.5,514.5 L894.6,515.5 M877.5,532.8 L891.5,543 M892.5,535.5 Q891.5,540 894,541" fill="none" stroke="#222" stroke-width="0.8" />
<line x1="894" y1="539" x2="905" y2="538" stroke="#222" stroke-width="0.8"/>
<polygon points="909.5,532.5 921,530.2 922,537 910.5,539.4" fill="#fff" stroke="#222" stroke-width="1.3" stroke-linejoin="round"/>
<line x1="912" y1="532.3" x2="912.6" y2="538.9" stroke="#222" stroke-width="0.7"/>
<line x1="914.3" y1="531.8" x2="914.9" y2="538.4" stroke="#222" stroke-width="0.7"/>
<line x1="916.6" y1="531.4" x2="917.2" y2="538" stroke="#222" stroke-width="0.7"/>
<line x1="918.9" y1="530.9" x2="919.5" y2="537.5" stroke="#222" stroke-width="0.7"/>
<ellipse cx="920.1" cy="533.5" rx="2.8" ry="4.6" fill="#fff" stroke="#222" stroke-width="1.4" transform="rotate(190 920.1 533.5)"/>
<polygon points="926.8,530 920.9,528.9 919.3,538 925.2,539" fill="#fff" stroke="none" stroke-width="0" stroke-linejoin="round"/>
<line x1="926.8" y1="530" x2="920.9" y2="528.9" stroke="#222" stroke-width="1.4"/>
<line x1="925.2" y1="539" x2="919.3" y2="538" stroke="#222" stroke-width="1.4"/>
<ellipse cx="926" cy="534.5" rx="2.8" ry="4.6" fill="#fff" stroke="#222" stroke-width="1.4" transform="rotate(190 926 534.5)"/>
<ellipse cx="926" cy="534.5" rx="1.6" ry="2.6" fill="none" stroke="#222" stroke-width="0.8" transform="rotate(10 926 534.5)"/>
<polyline points="478,878 470.3,868.9 512,845.2 778.2,1147.9 820.4,1125 813,1115" fill="none" stroke="#222" stroke-width="0.8" stroke-linejoin="round" stroke-dasharray="12 3 2 3"/>
<polyline points="560.4,828.2 553.8,820.5 630.3,776.2 897,1078.7 924,1064 870,1003" fill="none" stroke="#222" stroke-width="0.8" stroke-linejoin="round" stroke-dasharray="12 3 2 3"/>
<ellipse cx="490" cy="890" rx="2.8" ry="5.5" fill="#fff" stroke="#222" stroke-width="1.6" transform="rotate(228.5 490 890)"/>
<polygon points="514,908.8 494.1,886.4 485.9,893.6 505.8,916.1" fill="#fff" stroke="none" stroke-width="0" stroke-linejoin="round"/>
<line x1="514" y1="908.8" x2="494.1" y2="886.4" stroke="#222" stroke-width="1.6"/>
<line x1="505.8" y1="916.1" x2="485.9" y2="893.6" stroke="#222" stroke-width="1.6"/>
<ellipse cx="509.9" cy="912.5" rx="2.8" ry="5.5" fill="#fff" stroke="#222" stroke-width="1.6" transform="rotate(228.5 509.9 912.5)"/>
<ellipse cx="509.9" cy="912.5" rx="3.5" ry="7" fill="#fff" stroke="#222" stroke-width="1.6" transform="rotate(228.5 509.9 912.5)"/>
<polygon points="536.3,931.8 515.1,907.8 504.6,917.1 525.8,941.1" fill="#fff" stroke="none" stroke-width="0" stroke-linejoin="round"/>
<line x1="536.3" y1="931.8" x2="515.1" y2="907.8" stroke="#222" stroke-width="1.6"/>
<line x1="525.8" y1="941.1" x2="504.6" y2="917.1" stroke="#222" stroke-width="1.6"/>
<ellipse cx="531.1" cy="936.4" rx="3.5" ry="7" fill="#fff" stroke="#222" stroke-width="1.6" transform="rotate(228.5 531.1 936.4)"/>
<ellipse cx="531.1" cy="936.4" rx="4.8" ry="9.5" fill="#fff" stroke="#222" stroke-width="1.6" transform="rotate(228.5 531.1 936.4)"/>
<polygon points="542.8,935.4 538.2,930.1 524,942.7 528.6,948" fill="#fff" stroke="none" stroke-width="0" stroke-linejoin="round"/>
<line x1="542.8" y1="935.4" x2="538.2" y2="930.1" stroke="#222" stroke-width="1.6"/>
<line x1="528.6" y1="948" x2="524" y2="942.7" stroke="#222" stroke-width="1.6"/>
<ellipse cx="535.7" cy="941.7" rx="4.8" ry="9.5" fill="#fff" stroke="#222" stroke-width="1.6" transform="rotate(228.5 535.7 941.7)"/>
<ellipse cx="535.7" cy="941.7" rx="4.1" ry="8.2" fill="#fff" stroke="#222" stroke-width="1.6" transform="rotate(228.5 535.7 941.7)"/>
<polygon points="698.9,1113.7 541.9,936.2 529.6,947.1 686.6,1124.6" fill="#fff" stroke="none" stroke-width="0" stroke-linejoin="round"/>
<line x1="698.9" y1="1113.7" x2="541.9" y2="936.2" stroke="#222" stroke-width="1.6"/>
<line x1="686.6" y1="1124.6" x2="529.6" y2="947.1" stroke="#222" stroke-width="1.6"/>
<ellipse cx="692.8" cy="1119.2" rx="4.1" ry="8.2" fill="#fff" stroke="#222" stroke-width="1.6" transform="rotate(228.5 692.8 1119.2)"/>
<path d="M545.5,940.4 A4.1,8.2 228.5 0 0 533.3,951.3" fill="none" stroke="#222" stroke-width="0.75"/>
<path d="M548.9,944.2 A4.1,8.2 228.5 0 0 536.6,955.1" fill="none" stroke="#222" stroke-width="0.75"/>
<path d="M552.3,948 A4.1,8.2 228.5 0 0 540,958.9" fill="none" stroke="#222" stroke-width="0.75"/>
<path d="M555.6,951.8 A4.1,8.2 228.5 0 0 543.4,962.7" fill="none" stroke="#222" stroke-width="0.75"/>
<path d="M559,955.6 A4.1,8.2 228.5 0 0 546.7,966.5" fill="none" stroke="#222" stroke-width="0.75"/>
<path d="M562.4,959.4 A4.1,8.2 228.5 0 0 550.1,970.3" fill="none" stroke="#222" stroke-width="0.75"/>
<path d="M565.8,963.3 A4.1,8.2 228.5 0 0 553.5,974.1" fill="none" stroke="#222" stroke-width="0.75"/>
<path d="M569.1,967.1 A4.1,8.2 228.5 0 0 556.8,977.9" fill="none" stroke="#222" stroke-width="0.75"/>
<path d="M572.5,970.9 A4.1,8.2 228.5 0 0 560.2,981.7" fill="none" stroke="#222" stroke-width="0.75"/>
<path d="M575.9,974.7 A4.1,8.2 228.5 0 0 563.6,985.6" fill="none" stroke="#222" stroke-width="0.75"/>
<path d="M579.2,978.5 A4.1,8.2 228.5 0 0 567,989.4" fill="none" stroke="#222" stroke-width="0.75"/>
<path d="M582.6,982.3 A4.1,8.2 228.5 0 0 570.3,993.2" fill="none" stroke="#222" stroke-width="0.75"/>
<path d="M586,986.1 A4.1,8.2 228.5 0 0 573.7,997" fill="none" stroke="#222" stroke-width="0.75"/>
<path d="M589.4,989.9 A4.1,8.2 228.5 0 0 577.1,1000.8" fill="none" stroke="#222" stroke-width="0.75"/>
<path d="M592.7,993.7 A4.1,8.2 228.5 0 0 580.4,1004.6" fill="none" stroke="#222" stroke-width="0.75"/>
<path d="M596.1,997.5 A4.1,8.2 228.5 0 0 583.8,1008.4" fill="none" stroke="#222" stroke-width="0.75"/>
<path d="M599.5,1001.4 A4.1,8.2 228.5 0 0 587.2,1012.2" fill="none" stroke="#222" stroke-width="0.75"/>
<path d="M602.8,1005.2 A4.1,8.2 228.5 0 0 590.6,1016" fill="none" stroke="#222" stroke-width="0.75"/>
<path d="M606.2,1009 A4.1,8.2 228.5 0 0 593.9,1019.8" fill="none" stroke="#222" stroke-width="0.75"/>
<path d="M609.6,1012.8 A4.1,8.2 228.5 0 0 597.3,1023.7" fill="none" stroke="#222" stroke-width="0.75"/>
<path d="M612.9,1016.6 A4.1,8.2 228.5 0 0 600.7,1027.5" fill="none" stroke="#222" stroke-width="0.75"/>
<path d="M616.3,1020.4 A4.1,8.2 228.5 0 0 604,1031.3" fill="none" stroke="#222" stroke-width="0.75"/>
<path d="M619.7,1024.2 A4.1,8.2 228.5 0 0 607.4,1035.1" fill="none" stroke="#222" stroke-width="0.75"/>
<path d="M623.1,1028 A4.1,8.2 228.5 0 0 610.8,1038.9" fill="none" stroke="#222" stroke-width="0.75"/>
<path d="M626.4,1031.8 A4.1,8.2 228.5 0 0 614.1,1042.7" fill="none" stroke="#222" stroke-width="0.75"/>
<path d="M629.8,1035.6 A4.1,8.2 228.5 0 0 617.5,1046.5" fill="none" stroke="#222" stroke-width="0.75"/>
<path d="M633.2,1039.5 A4.1,8.2 228.5 0 0 620.9,1050.3" fill="none" stroke="#222" stroke-width="0.75"/>
<path d="M636.5,1043.3 A4.1,8.2 228.5 0 0 624.3,1054.1" fill="none" stroke="#222" stroke-width="0.75"/>
<path d="M639.9,1047.1 A4.1,8.2 228.5 0 0 627.6,1057.9" fill="none" stroke="#222" stroke-width="0.75"/>
<path d="M643.3,1050.9 A4.1,8.2 228.5 0 0 631,1061.8" fill="none" stroke="#222" stroke-width="0.75"/>
<path d="M646.7,1054.7 A4.1,8.2 228.5 0 0 634.4,1065.6" fill="none" stroke="#222" stroke-width="0.75"/>
<path d="M650,1058.5 A4.1,8.2 228.5 0 0 637.7,1069.4" fill="none" stroke="#222" stroke-width="0.75"/>
<path d="M653.4,1062.3 A4.1,8.2 228.5 0 0 641.1,1073.2" fill="none" stroke="#222" stroke-width="0.75"/>
<path d="M656.8,1066.1 A4.1,8.2 228.5 0 0 644.5,1077" fill="none" stroke="#222" stroke-width="0.75"/>
<path d="M660.1,1069.9 A4.1,8.2 228.5 0 0 647.9,1080.8" fill="none" stroke="#222" stroke-width="0.75"/>
<path d="M663.5,1073.7 A4.1,8.2 228.5 0 0 651.2,1084.6" fill="none" stroke="#222" stroke-width="0.75"/>
<path d="M666.9,1077.6 A4.1,8.2 228.5 0 0 654.6,1088.4" fill="none" stroke="#222" stroke-width="0.75"/>
<path d="M670.3,1081.4 A4.1,8.2 228.5 0 0 658,1092.2" fill="none" stroke="#222" stroke-width="0.75"/>
<path d="M673.6,1085.2 A4.1,8.2 228.5 0 0 661.3,1096" fill="none" stroke="#222" stroke-width="0.75"/>
<path d="M677,1089 A4.1,8.2 228.5 0 0 664.7,1099.8" fill="none" stroke="#222" stroke-width="0.75"/>
<path d="M680.4,1092.8 A4.1,8.2 228.5 0 0 668.1,1103.7" fill="none" stroke="#222" stroke-width="0.75"/>
<path d="M683.7,1096.6 A4.1,8.2 228.5 0 0 671.5,1107.5" fill="none" stroke="#222" stroke-width="0.75"/>
<path d="M687.1,1100.4 A4.1,8.2 228.5 0 0 674.8,1111.3" fill="none" stroke="#222" stroke-width="0.75"/>
<path d="M690.5,1104.2 A4.1,8.2 228.5 0 0 678.2,1115.1" fill="none" stroke="#222" stroke-width="0.75"/>
<path d="M693.8,1108 A4.1,8.2 228.5 0 0 681.6,1118.9" fill="none" stroke="#222" stroke-width="0.75"/>
<path d="M697.2,1111.8 A4.1,8.2 228.5 0 0 684.9,1122.7" fill="none" stroke="#222" stroke-width="0.75"/>
<ellipse cx="692.8" cy="1119.2" rx="3" ry="6" fill="none" stroke="#222" stroke-width="0.7" transform="rotate(48.5 692.8 1119.2)"/>
<line x1="496.4" y1="895.0" x2="505.7" y2="905.5" stroke="#222" stroke-width="3.2" stroke-linecap="round"/>
<line x1="496.4" y1="895.0" x2="505.7" y2="905.5" stroke="#fff" stroke-width="1.8" stroke-linecap="round"/>
<rect x="508" y="880" width="18" height="6" rx="3" fill="#fff" stroke="#222" stroke-width="1.5" transform="rotate(50 517 883)"/>
<rect x="508" y="879.2" width="18" height="6" rx="3" fill="#fff" transform="rotate(50 517 882.2)"/>
<rect x="508" y="878.5" width="18" height="6" rx="3" fill="#fff" transform="rotate(50 517 881.5)"/>
<rect x="508" y="877.8" width="18" height="6" rx="3" fill="#fff" transform="rotate(50 517 880.8)"/>
<rect x="508" y="877" width="18" height="6" rx="3" fill="#fff" transform="rotate(50 517 880)"/>
<rect x="508" y="877" width="18" height="6" rx="3" fill="#fff" stroke="#222" stroke-width="1.5" transform="rotate(50 517 880)"/>
<line x1="516" y1="893" x2="507" y2="905" stroke="#222" stroke-width="0.7"/>
<ellipse cx="701.4" cy="1129.5" rx="7" ry="14" fill="#fff" stroke="#222" stroke-width="1.7" transform="rotate(228.5 701.4 1129.5)"/>
<polygon points="718.5,1127.7 711.9,1120.2 690.9,1138.8 697.5,1146.3" fill="#fff" stroke="none" stroke-width="0" stroke-linejoin="round"/>
<line x1="718.5" y1="1127.7" x2="711.9" y2="1120.2" stroke="#222" stroke-width="1.7"/>
<line x1="697.5" y1="1146.3" x2="690.9" y2="1138.8" stroke="#222" stroke-width="1.7"/>
<ellipse cx="708" cy="1137" rx="7" ry="14" fill="#fff" stroke="#222" stroke-width="1.7" transform="rotate(228.5 708 1137)"/>
<ellipse cx="708" cy="1137" rx="4.5" ry="9" fill="none" stroke="#222" stroke-width="1.2" transform="rotate(48.5 708 1137)"/>
<line x1="700" y1="1122" x2="707" y2="1132" stroke="#222" stroke-width="0.7"/>
<path d="M566,868 L560,890 C562,898 572,902 586,898" fill="#fff" stroke="#222" stroke-width="1.7" />
<ellipse cx="568" cy="882" rx="4" ry="5" fill="#fff" stroke="#222" stroke-width="0.8" transform="rotate(-30 568 882)"/>
<ellipse cx="567.9" cy="837.4" rx="12" ry="24" fill="#fff" stroke="#222" stroke-width="1.8" transform="rotate(228.5 567.9 837.4)"/>
<polygon points="632.3,873.9 585.9,821.5 549.9,853.3 596.3,905.7" fill="#fff" stroke="none" stroke-width="0" stroke-linejoin="round"/>
<line x1="632.3" y1="873.9" x2="585.9" y2="821.5" stroke="#222" stroke-width="1.8"/>
<line x1="596.3" y1="905.7" x2="549.9" y2="853.3" stroke="#222" stroke-width="1.8"/>
<ellipse cx="614.3" cy="889.8" rx="12" ry="24" fill="#fff" stroke="#222" stroke-width="1.8" transform="rotate(228.5 614.3 889.8)"/>
<ellipse cx="614.3" cy="889.8" rx="9.5" ry="19" fill="none" stroke="#222" stroke-width="0.9" transform="rotate(48.5 614.3 889.8)"/>
<line x1="618" y1="895" x2="632" y2="908" stroke="#222" stroke-width="0.7"/>
<ellipse cx="636.7" cy="918.5" rx="4.2" ry="8.5" fill="#fff" stroke="#222" stroke-width="1.5" transform="rotate(228.5 636.7 918.5)"/>
<polygon points="650.4,921.1 643.1,912.9 630.4,924.1 637.6,932.4" fill="#fff" stroke="none" stroke-width="0" stroke-linejoin="round"/>
<line x1="650.4" y1="921.1" x2="643.1" y2="912.9" stroke="#222" stroke-width="1.5"/>
<line x1="637.6" y1="932.4" x2="630.4" y2="924.1" stroke="#222" stroke-width="1.5"/>
<ellipse cx="644" cy="926.8" rx="4.2" ry="8.5" fill="#fff" stroke="#222" stroke-width="1.5" transform="rotate(228.5 644 926.8)"/>
<ellipse cx="644" cy="926.8" rx="5.8" ry="11.5" fill="#fff" stroke="#222" stroke-width="1.5" transform="rotate(228.5 644 926.8)"/>
<polygon points="654.6,921.4 652.6,919.1 635.4,934.4 637.4,936.6" fill="#fff" stroke="none" stroke-width="0" stroke-linejoin="round"/>
<line x1="654.6" y1="921.4" x2="652.6" y2="919.1" stroke="#222" stroke-width="1.5"/>
<line x1="637.4" y1="936.6" x2="635.4" y2="934.4" stroke="#222" stroke-width="1.5"/>
<ellipse cx="646" cy="929" rx="5.8" ry="11.5" fill="#fff" stroke="#222" stroke-width="1.5" transform="rotate(228.5 646 929)"/>
<ellipse cx="646" cy="929" rx="3.8" ry="7.5" fill="none" stroke="#222" stroke-width="0.8" transform="rotate(48.5 646 929)"/>
<line x1="650" y1="935" x2="660" y2="944" stroke="#222" stroke-width="0.7"/>
<ellipse cx="669.6" cy="952.7" rx="8.8" ry="17.5" fill="#fff" stroke="#222" stroke-width="1.8" transform="rotate(228.5 669.6 952.7)"/>
<polygon points="700.6,961.3 682.7,941.1 656.5,964.3 674.4,984.5" fill="#fff" stroke="none" stroke-width="0" stroke-linejoin="round"/>
<line x1="700.6" y1="961.3" x2="682.7" y2="941.1" stroke="#222" stroke-width="1.8"/>
<line x1="674.4" y1="984.5" x2="656.5" y2="964.3" stroke="#222" stroke-width="1.8"/>
<ellipse cx="687.5" cy="972.9" rx="8.8" ry="17.5" fill="#fff" stroke="#222" stroke-width="1.8" transform="rotate(228.5 687.5 972.9)"/>
<ellipse cx="687.5" cy="972.9" rx="8" ry="16" fill="#fff" stroke="#222" stroke-width="1.8" transform="rotate(228.5 687.5 972.9)"/>
<polygon points="825.4,1104.6 699.5,962.3 675.5,983.5 801.4,1125.8" fill="#fff" stroke="none" stroke-width="0" stroke-linejoin="round"/>
<line x1="825.4" y1="1104.6" x2="699.5" y2="962.3" stroke="#222" stroke-width="1.8"/>
<line x1="801.4" y1="1125.8" x2="675.5" y2="983.5" stroke="#222" stroke-width="1.8"/>
<ellipse cx="813.4" cy="1115.2" rx="8" ry="16" fill="#fff" stroke="#222" stroke-width="1.8" transform="rotate(228.5 813.4 1115.2)"/>
<path d="M698.6,959.1 A8.8,17.5 228.5 0 0 672.4,982.2" fill="none" stroke="#222" stroke-width="0.8"/>
<path d="M696.2,956.4 A8.8,17.5 228.5 0 0 670,979.6" fill="none" stroke="#222" stroke-width="0.8"/>
<path d="M693.9,953.7 A8.8,17.5 228.5 0 0 667.6,976.9" fill="none" stroke="#222" stroke-width="0.8"/>
<path d="M691.5,951 A8.8,17.5 228.5 0 0 665.3,974.2" fill="none" stroke="#222" stroke-width="0.8"/>
<path d="M689.1,948.3 A8.8,17.5 228.5 0 0 662.9,971.5" fill="none" stroke="#222" stroke-width="0.8"/>
<path d="M686.7,945.6 A8.8,17.5 228.5 0 0 660.5,968.8" fill="none" stroke="#222" stroke-width="0.8"/>
<ellipse cx="813.4" cy="1115.2" rx="6.2" ry="12.5" fill="none" stroke="#222" stroke-width="0.8" transform="rotate(48.5 813.4 1115.2)"/>
<ellipse cx="775.3" cy="895" rx="1.8" ry="3.6" fill="#fff" stroke="#222" stroke-width="1.3" transform="rotate(228.5 775.3 895)"/>
<polygon points="785.9,901.6 778,892.6 772.6,897.4 780.6,906.4" fill="#fff" stroke="none" stroke-width="0" stroke-linejoin="round"/>
<line x1="785.9" y1="901.6" x2="778" y2="892.6" stroke="#222" stroke-width="1.3"/>
<line x1="780.6" y1="906.4" x2="772.6" y2="897.4" stroke="#222" stroke-width="1.3"/>
<ellipse cx="783.3" cy="904" rx="1.8" ry="3.6" fill="#fff" stroke="#222" stroke-width="1.3" transform="rotate(228.5 783.3 904)"/>
<path d="M779.3,894.1 A1.8,3.6 228.5 0 0 773.9,898.9" fill="none" stroke="#222" stroke-width="0.6"/>
<path d="M781,896.1 A1.8,3.6 228.5 0 0 775.7,900.8" fill="none" stroke="#222" stroke-width="0.6"/>
<path d="M782.8,898 A1.8,3.6 228.5 0 0 777.4,902.8" fill="none" stroke="#222" stroke-width="0.6"/>
<path d="M784.5,899.9 A1.8,3.6 228.5 0 0 779.1,904.7" fill="none" stroke="#222" stroke-width="0.6"/>
<ellipse cx="770" cy="889" rx="3" ry="6" fill="#fff" stroke="#222" stroke-width="1.6" transform="rotate(228.5 770 889)"/>
<polygon points="779.8,891 774.5,885 765.5,893 770.8,899" fill="#fff" stroke="none" stroke-width="0" stroke-linejoin="round"/>
<line x1="779.8" y1="891" x2="774.5" y2="885" stroke="#222" stroke-width="1.6"/>
<line x1="770.8" y1="899" x2="765.5" y2="893" stroke="#222" stroke-width="1.6"/>
<ellipse cx="775.3" cy="895" rx="3" ry="6" fill="#fff" stroke="#222" stroke-width="1.6" transform="rotate(228.5 775.3 895)"/>
<ellipse cx="789.8" cy="910.1" rx="5" ry="10" fill="#fff" stroke="#222" stroke-width="1.6" transform="rotate(228.5 789.8 910.1)"/>
<polygon points="799,905.4 797.3,903.5 782.4,916.8 784,918.6" fill="#fff" stroke="none" stroke-width="0" stroke-linejoin="round"/>
<line x1="799" y1="905.4" x2="797.3" y2="903.5" stroke="#222" stroke-width="1.6"/>
<line x1="784" y1="918.6" x2="782.4" y2="916.8" stroke="#222" stroke-width="1.6"/>
<ellipse cx="791.5" cy="912" rx="5" ry="10" fill="#fff" stroke="#222" stroke-width="1.6" transform="rotate(228.5 791.5 912)"/>
<ellipse cx="791.5" cy="912" rx="1.5" ry="3" fill="none" stroke="#222" stroke-width="0.8" transform="rotate(228.5 791.5 912)"/>
<ellipse cx="800.8" cy="923" rx="5.8" ry="11.5" fill="#fff" stroke="#222" stroke-width="1.6" transform="rotate(228.5 800.8 923)"/>
<polygon points="824,931.9 809.4,915.4 792.2,930.7 806.8,947.1" fill="#fff" stroke="none" stroke-width="0" stroke-linejoin="round"/>
<line x1="824" y1="931.9" x2="809.4" y2="915.4" stroke="#222" stroke-width="1.6"/>
<line x1="806.8" y1="947.1" x2="792.2" y2="930.7" stroke="#222" stroke-width="1.6"/>
<ellipse cx="815.4" cy="939.5" rx="5.8" ry="11.5" fill="#fff" stroke="#222" stroke-width="1.6" transform="rotate(228.5 815.4 939.5)"/>
<ellipse cx="815.4" cy="939.5" rx="8.8" ry="17.5" fill="#fff" stroke="#222" stroke-width="1.6" transform="rotate(228.5 815.4 939.5)"/>
<polygon points="830.5,930.2 828.5,927.9 802.3,951.1 804.3,953.4" fill="#fff" stroke="none" stroke-width="0" stroke-linejoin="round"/>
<line x1="830.5" y1="930.2" x2="828.5" y2="927.9" stroke="#222" stroke-width="1.6"/>
<line x1="804.3" y1="953.4" x2="802.3" y2="951.1" stroke="#222" stroke-width="1.6"/>
<ellipse cx="817.4" cy="941.8" rx="8.8" ry="17.5" fill="#fff" stroke="#222" stroke-width="1.6" transform="rotate(228.5 817.4 941.8)"/>
<ellipse cx="817.4" cy="941.8" rx="8" ry="16" fill="#fff" stroke="#222" stroke-width="1.6" transform="rotate(228.5 817.4 941.8)"/>
<polygon points="831.3,933.4 829.3,931.2 805.4,952.4 807.4,954.6" fill="#fff" stroke="none" stroke-width="0" stroke-linejoin="round"/>
<line x1="831.3" y1="933.4" x2="829.3" y2="931.2" stroke="#222" stroke-width="1.6"/>
<line x1="807.4" y1="954.6" x2="805.4" y2="952.4" stroke="#222" stroke-width="1.6"/>
<ellipse cx="819.3" cy="944" rx="8" ry="16" fill="#fff" stroke="#222" stroke-width="1.6" transform="rotate(228.5 819.3 944)"/>
<ellipse cx="819.3" cy="944" rx="8.8" ry="17.5" fill="#fff" stroke="#222" stroke-width="1.6" transform="rotate(228.5 819.3 944)"/>
<polygon points="835.1,935.4 832.5,932.4 806.2,955.6 808.9,958.6" fill="#fff" stroke="none" stroke-width="0" stroke-linejoin="round"/>
<line x1="835.1" y1="935.4" x2="832.5" y2="932.4" stroke="#222" stroke-width="1.6"/>
<line x1="808.9" y1="958.6" x2="806.2" y2="955.6" stroke="#222" stroke-width="1.6"/>
<ellipse cx="822" cy="947" rx="8.8" ry="17.5" fill="#fff" stroke="#222" stroke-width="1.6" transform="rotate(228.5 822 947)"/>
<ellipse cx="822" cy="947" rx="6.5" ry="13" fill="none" stroke="#222" stroke-width="0.8" transform="rotate(48.5 822 947)"/>
<ellipse cx="822" cy="947" rx="4" ry="8" fill="none" stroke="#222" stroke-width="0.8" transform="rotate(48.5 822 947)"/>
<ellipse cx="822" cy="947" rx="2.5" ry="5" fill="none" stroke="#222" stroke-width="0.7" transform="rotate(48.5 822 947)"/>
<ellipse cx="840" cy="967.3" rx="8.2" ry="16.5" fill="#fff" stroke="#222" stroke-width="1.7" transform="rotate(228.5 840 967.3)"/>
<polygon points="854.4,958.6 852.4,956.3 827.7,978.2 829.6,980.4" fill="#fff" stroke="none" stroke-width="0" stroke-linejoin="round"/>
<line x1="854.4" y1="958.6" x2="852.4" y2="956.3" stroke="#222" stroke-width="1.7"/>
<line x1="829.6" y1="980.4" x2="827.7" y2="978.2" stroke="#222" stroke-width="1.7"/>
<ellipse cx="842" cy="969.5" rx="8.2" ry="16.5" fill="#fff" stroke="#222" stroke-width="1.7" transform="rotate(228.5 842 969.5)"/>
<ellipse cx="842" cy="969.5" rx="6" ry="12" fill="none" stroke="#222" stroke-width="1.5" transform="rotate(228.5 842 969.5)"/>
<ellipse cx="857.4" cy="990.3" rx="5.8" ry="11.5" fill="#fff" stroke="#222" stroke-width="1.5" transform="rotate(228.5 857.4 990.3)"/>
<polygon points="868,984.9 866,982.6 848.8,997.9 850.8,1000.1" fill="#fff" stroke="none" stroke-width="0" stroke-linejoin="round"/>
<line x1="868" y1="984.9" x2="866" y2="982.6" stroke="#222" stroke-width="1.5"/>
<line x1="850.8" y1="1000.1" x2="848.8" y2="997.9" stroke="#222" stroke-width="1.5"/>
<ellipse cx="859.4" cy="992.5" rx="5.8" ry="11.5" fill="#fff" stroke="#222" stroke-width="1.5" transform="rotate(228.5 859.4 992.5)"/>
<ellipse cx="859.4" cy="992.5" rx="4.2" ry="8.5" fill="#fff" stroke="#222" stroke-width="1.5" transform="rotate(228.5 859.4 992.5)"/>
<polygon points="872.4,994.4 865.7,986.9 853,998.1 859.6,1005.6" fill="#fff" stroke="none" stroke-width="0" stroke-linejoin="round"/>
<line x1="872.4" y1="994.4" x2="865.7" y2="986.9" stroke="#222" stroke-width="1.5"/>
<line x1="859.6" y1="1005.6" x2="853" y2="998.1" stroke="#222" stroke-width="1.5"/>
<ellipse cx="866" cy="1000" rx="4.2" ry="8.5" fill="#fff" stroke="#222" stroke-width="1.5" transform="rotate(228.5 866 1000)"/>
<polyline points="778,897 866,1000" fill="none" stroke="#333" stroke-width="0.75" stroke-linejoin="round"/>
<ellipse cx="582.7" cy="284" rx="5.9" ry="8.5" fill="#fff" stroke="#222" stroke-width="1.7" transform="rotate(-30 582.7 284)"/>
<polygon points="578.2,296.4 586.9,291.4 578.4,276.6 569.8,281.6" fill="#fff" stroke="none" stroke-width="0" stroke-linejoin="round"/>
<line x1="578.2" y1="296.4" x2="586.9" y2="291.4" stroke="#222" stroke-width="1.7"/>
<line x1="569.8" y1="281.6" x2="578.4" y2="276.6" stroke="#222" stroke-width="1.7"/>
<ellipse cx="574" cy="289" rx="5.9" ry="8.5" fill="#fff" stroke="#222" stroke-width="1.7" transform="rotate(-30 574 289)"/>
<ellipse cx="576.6" cy="287.5" rx="5.9" ry="8.5" fill="none" stroke="#222" stroke-width="0.7" transform="rotate(-30 576.6 287.5)"/>
<ellipse cx="578.8" cy="286.2" rx="5.9" ry="8.5" fill="none" stroke="#222" stroke-width="0.7" transform="rotate(-30 578.8 286.2)"/>
<ellipse cx="580.9" cy="285" rx="5.9" ry="8.5" fill="none" stroke="#222" stroke-width="0.7" transform="rotate(-30 580.9 285)"/>
<ellipse cx="574" cy="289" rx="5.9" ry="8.5" fill="#fff" stroke="#222" stroke-width="1.7" transform="rotate(-30 574 289)"/>
<line x1="580" y1="293" x2="594" y2="303" stroke="#222" stroke-width="0.7" stroke-dasharray="4 3"/>
<text x="414" y="98" font-size="19">30 x6</text>
<text x="461" y="119" font-size="19">40</text>
<text x="503" y="151" font-size="19">50</text>
<text x="535" y="171" font-size="19">60</text>
<text x="592" y="189" font-size="19">70</text>
<text x="757" y="207" font-size="19">10</text>
<text x="525" y="293" font-size="19">20</text>
<text x="95" y="227" font-size="19">440</text>
<text x="142" y="231" font-size="19">430</text>
<text x="175" y="216" font-size="19">420</text>
<text x="218" y="218" font-size="19">410</text>
<text x="278" y="215" font-size="19">Z=1</text>
<text x="319" y="204" font-size="19">670</text>
<text x="45" y="318" font-size="19">840 x4</text>
<text x="933" y="84" font-size="19">550</text>
<text x="1027" y="84" font-size="19">530 x6</text>
<text x="849" y="124" font-size="19">520</text>
<text x="800" y="169" font-size="19">510</text>
<text x="913" y="200" font-size="19">540</text>
<text x="1053" y="227" font-size="19">300</text>
<text x="1017" y="244" font-size="19">150</text>
<text x="984" y="274" font-size="19">160</text>
<text x="949" y="290" font-size="19">170</text>
<text x="915" y="312" font-size="19">180</text>
<text x="862" y="228" font-size="19">300</text>
<text x="1103" y="200" font-size="19">140</text>
<text x="1123" y="70" font-size="19">320</text>
<text x="1072" y="245" font-size="19">600</text>
<text x="1249" y="135" font-size="19">310 x6</text>
<text x="1142" y="176" font-size="19">130</text>
<text x="1325" y="213" font-size="19">620</text>
<text x="1282" y="259" font-size="19">640</text>
<text x="1202" y="305" font-size="19">630</text>
<text x="1158" y="334" font-size="19">460</text>
<text x="172" y="339" font-size="19">400</text>
<text x="169" y="432" font-size="19">Z=23</text>
<text x="219" y="415" font-size="19">380</text>
<text x="243" y="331" font-size="19">390</text>
<text x="294" y="320" font-size="19">370</text>
<text x="343" y="317" font-size="19">360</text>
<text x="380" y="300" font-size="19">350</text>
<text x="411" y="315" font-size="19">340</text>
<text x="461" y="288" font-size="19">330</text>
<text x="443" y="373" font-size="19">460</text>
<text x="408" y="396" font-size="19">450</text>
<text x="333" y="423" font-size="19">460</text>
<text x="300" y="461" font-size="19">500</text>
<text x="254" y="472" font-size="19">680</text>
<text x="269" y="583" font-size="19">Z=21</text>
<text x="220" y="501" font-size="19">490</text>
<text x="199" y="522" font-size="19">480</text>
<text x="160" y="542" font-size="19">470</text>
<text x="122" y="559" font-size="19">510</text>
<text x="88" y="577" font-size="19">560</text>
<text x="62" y="597" font-size="19">540</text>
<text x="25" y="612" font-size="19">550</text>
<text x="15" y="744" font-size="19">530 x6</text>
<text x="329" y="744" font-size="19">840 x3</text>
<text x="334" y="547" font-size="19">Z=2</text>
<text x="384" y="500" font-size="19">270</text>
<text x="439" y="474" font-size="19">280</text>
<text x="493" y="436" font-size="19">660</text>
<text x="515" y="418" font-size="19">Z=21</text>
<text x="603" y="467" font-size="19">290</text>
<text x="659" y="570" font-size="19">260</text>
<text x="623" y="588" font-size="19">190</text>
<text x="587" y="607" font-size="19">200</text>
<text x="551" y="632" font-size="19">260</text>
<text x="513" y="640" font-size="19">240</text>
<text x="476" y="656" font-size="19">250</text>
<text x="441" y="696" font-size="19">220</text>
<text x="395" y="734" font-size="19">230</text>
<text x="1042" y="370" font-size="19">590</text>
<text x="856" y="461" font-size="19">Z=1</text>
<text x="921" y="482" font-size="19">650</text>
<text x="977" y="523" font-size="19">80</text>
<text x="1009" y="539" font-size="19">90</text>
<text x="1033" y="556" font-size="19">100</text>
<text x="1090" y="474" font-size="19">Z=78</text>
<text x="1094" y="611" font-size="19">110</text>
<text x="1154" y="503" font-size="19">120x6</text>
<text x="847" y="580" font-size="19">210</text>
<text x="897" y="580" font-size="19">230 x3</text>
<text x="1177" y="552" font-size="19">Z=33</text>
<text x="1215" y="488" font-size="19">1520 x2</text>
<text x="1248" y="517" font-size="19">1510 x2</text>
<text x="1270" y="575" font-size="19">1550 x2</text>
<text x="1150" y="689" font-size="19">1540</text>
<text x="1189" y="661" font-size="19">1500</text>
<text x="1262" y="688" font-size="19">1530</text>
<text x="1228" y="747" font-size="19">1495</text>
<text x="631" y="853" font-size="19">1670</text>
<text x="411" y="886" font-size="19">1640</text>
<text x="679" y="924" font-size="19">1660</text>
<text x="748" y="855" font-size="19">1610</text>
<text x="776" y="880" font-size="19">1620</text>
<text x="810" y="912" font-size="19">1630</text>
<text x="880" y="969" font-size="19">1650</text>
<text x="892" y="993" font-size="19">1660</text>
<text x="730" y="985" font-size="19">1680</text>
<text x="549" y="1064" font-size="19">1700</text>
<text x="622" y="1149" font-size="19">1690</text>
<line x1="66" y1="265" x2="66" y2="300" stroke="#222" stroke-width="1.4"/>
<line x1="111" y1="230" x2="111" y2="245" stroke="#222" stroke-width="1.4"/>
<line x1="158" y1="233" x2="158" y2="248" stroke="#222" stroke-width="1.4"/>
<line x1="191" y1="219" x2="191" y2="244" stroke="#222" stroke-width="1.4"/>
<line x1="234" y1="221" x2="234" y2="237" stroke="#222" stroke-width="1.4"/>
<line x1="292" y1="218" x2="292" y2="231" stroke="#222" stroke-width="1.4"/>
<line x1="335" y1="207" x2="335" y2="223" stroke="#222" stroke-width="1.4"/>
<line x1="428" y1="101" x2="428" y2="116" stroke="#222" stroke-width="1.4"/>
<line x1="471" y1="122" x2="471" y2="136" stroke="#222" stroke-width="1.4"/>
<line x1="513" y1="154" x2="513" y2="169" stroke="#222" stroke-width="1.4"/>
<line x1="546" y1="174" x2="546" y2="190" stroke="#222" stroke-width="1.4"/>
<line x1="767" y1="210" x2="767" y2="224" stroke="#222" stroke-width="1.4"/>
<line x1="549" y1="286" x2="566" y2="286" stroke="#222" stroke-width="1.4"/>
<line x1="948" y1="86" x2="948" y2="101" stroke="#222" stroke-width="1.4"/>
<line x1="1043" y1="86" x2="1043" y2="104" stroke="#222" stroke-width="1.4"/>
<line x1="816" y1="172" x2="816" y2="186" stroke="#222" stroke-width="1.4"/>
<line x1="928" y1="167" x2="928" y2="183" stroke="#222" stroke-width="1.4"/>
<line x1="1068" y1="198" x2="1068" y2="211" stroke="#222" stroke-width="1.4"/>
<line x1="1032" y1="212" x2="1032" y2="226" stroke="#222" stroke-width="1.4"/>
<line x1="999" y1="240" x2="999" y2="258" stroke="#222" stroke-width="1.4"/>
<line x1="963" y1="251" x2="963" y2="273" stroke="#222" stroke-width="1.4"/>
<line x1="929" y1="278" x2="929" y2="295" stroke="#222" stroke-width="1.4"/>
<line x1="877" y1="232" x2="877" y2="242" stroke="#222" stroke-width="1.4"/>
<line x1="1117" y1="169" x2="1117" y2="183" stroke="#222" stroke-width="1.4"/>
<line x1="1158" y1="62" x2="1175" y2="62" stroke="#222" stroke-width="1.4"/>
<line x1="1104" y1="238" x2="1117" y2="238" stroke="#222" stroke-width="1.4"/>
<line x1="1266" y1="101" x2="1266" y2="117" stroke="#222" stroke-width="1.4"/>
<line x1="1157" y1="144" x2="1157" y2="158" stroke="#222" stroke-width="1.4"/>
<line x1="1341" y1="181" x2="1341" y2="196" stroke="#222" stroke-width="1.4"/>
<line x1="1174" y1="302" x2="1174" y2="316" stroke="#222" stroke-width="1.4"/>
<line x1="187" y1="341" x2="187" y2="353" stroke="#222" stroke-width="1.4"/>
<line x1="187" y1="400" x2="187" y2="418" stroke="#222" stroke-width="1.4"/>
<line x1="234" y1="381" x2="234" y2="396" stroke="#222" stroke-width="1.4"/>
<line x1="257" y1="334" x2="257" y2="346" stroke="#222" stroke-width="1.4"/>
<line x1="309" y1="323" x2="309" y2="336" stroke="#222" stroke-width="1.4"/>
<line x1="358" y1="320" x2="358" y2="332" stroke="#222" stroke-width="1.4"/>
<line x1="394" y1="303" x2="394" y2="324" stroke="#222" stroke-width="1.4"/>
<line x1="426" y1="317" x2="426" y2="330" stroke="#222" stroke-width="1.4"/>
<line x1="478" y1="366" x2="493" y2="366" stroke="#222" stroke-width="1.4"/>
<line x1="423" y1="399" x2="423" y2="420" stroke="#222" stroke-width="1.4"/>
<line x1="349" y1="427" x2="349" y2="444" stroke="#222" stroke-width="1.4"/>
<line x1="315" y1="464" x2="315" y2="482" stroke="#222" stroke-width="1.4"/>
<line x1="270" y1="476" x2="270" y2="494" stroke="#222" stroke-width="1.4"/>
<line x1="287" y1="551" x2="287" y2="569" stroke="#222" stroke-width="1.4"/>
<line x1="236" y1="504" x2="236" y2="523" stroke="#222" stroke-width="1.4"/>
<line x1="215" y1="526" x2="215" y2="545" stroke="#222" stroke-width="1.4"/>
<line x1="175" y1="545" x2="175" y2="566" stroke="#222" stroke-width="1.4"/>
<line x1="138" y1="562" x2="138" y2="579" stroke="#222" stroke-width="1.4"/>
<line x1="103" y1="580" x2="103" y2="598" stroke="#222" stroke-width="1.4"/>
<line x1="77" y1="601" x2="77" y2="620" stroke="#222" stroke-width="1.4"/>
<line x1="40" y1="613" x2="40" y2="626" stroke="#222" stroke-width="1.4"/>
<line x1="29" y1="712" x2="29" y2="727" stroke="#222" stroke-width="1.4"/>
<line x1="346" y1="712" x2="346" y2="727" stroke="#222" stroke-width="1.4"/>
<line x1="365" y1="540" x2="381" y2="540" stroke="#222" stroke-width="1.4"/>
<line x1="399" y1="502" x2="399" y2="519" stroke="#222" stroke-width="1.4"/>
<line x1="454" y1="476" x2="454" y2="492" stroke="#222" stroke-width="1.4"/>
<line x1="508" y1="437" x2="508" y2="448" stroke="#222" stroke-width="1.4"/>
<line x1="533" y1="420" x2="533" y2="455" stroke="#222" stroke-width="1.4"/>
<line x1="585" y1="459" x2="600" y2="459" stroke="#222" stroke-width="1.4"/>
<line x1="673" y1="538" x2="673" y2="553" stroke="#222" stroke-width="1.4"/>
<line x1="637" y1="556" x2="637" y2="573" stroke="#222" stroke-width="1.4"/>
<line x1="603" y1="567" x2="603" y2="590" stroke="#222" stroke-width="1.4"/>
<line x1="566" y1="598" x2="566" y2="615" stroke="#222" stroke-width="1.4"/>
<line x1="529" y1="608" x2="529" y2="624" stroke="#222" stroke-width="1.4"/>
<line x1="491" y1="610" x2="491" y2="637" stroke="#222" stroke-width="1.4"/>
<line x1="456" y1="664" x2="456" y2="680" stroke="#222" stroke-width="1.4"/>
<line x1="410" y1="701" x2="410" y2="718" stroke="#222" stroke-width="1.4"/>
<line x1="1057" y1="337" x2="1057" y2="355" stroke="#222" stroke-width="1.4"/>
<line x1="887" y1="455" x2="901" y2="455" stroke="#222" stroke-width="1.4"/>
<line x1="901" y1="455" x2="901" y2="440" stroke="#222" stroke-width="1.4"/>
<line x1="936" y1="450" x2="936" y2="465" stroke="#222" stroke-width="1.4"/>
<line x1="986" y1="490" x2="986" y2="506" stroke="#222" stroke-width="1.4"/>
<line x1="1019" y1="507" x2="1019" y2="524" stroke="#222" stroke-width="1.4"/>
<line x1="1049" y1="525" x2="1049" y2="539" stroke="#222" stroke-width="1.4"/>
<line x1="1109" y1="478" x2="1109" y2="491" stroke="#222" stroke-width="1.4"/>
<line x1="1109" y1="580" x2="1109" y2="593" stroke="#222" stroke-width="1.4"/>
<line x1="1169" y1="506" x2="1169" y2="519" stroke="#222" stroke-width="1.4"/>
<line x1="861" y1="545" x2="861" y2="563" stroke="#222" stroke-width="1.4"/>
<line x1="911" y1="542" x2="911" y2="563" stroke="#222" stroke-width="1.4"/>
<line x1="1196" y1="531" x2="1220" y2="531" stroke="#222" stroke-width="1.4"/>
<line x1="1196" y1="531" x2="1196" y2="540" stroke="#222" stroke-width="1.4"/>
<line x1="1234" y1="490" x2="1234" y2="515" stroke="#222" stroke-width="1.4"/>
<line x1="1268" y1="520" x2="1268" y2="544" stroke="#222" stroke-width="1.4"/>
<line x1="1298" y1="578" x2="1298" y2="592" stroke="#222" stroke-width="1.4"/>
<line x1="1172" y1="656" x2="1172" y2="673" stroke="#222" stroke-width="1.4"/>
<line x1="1208" y1="627" x2="1208" y2="646" stroke="#222" stroke-width="1.4"/>
<line x1="1281" y1="639" x2="1281" y2="673" stroke="#222" stroke-width="1.4"/>
<line x1="609" y1="844" x2="628" y2="844" stroke="#222" stroke-width="1.4"/>
<line x1="456" y1="876" x2="508" y2="876" stroke="#222" stroke-width="1.4"/>
<line x1="658" y1="916" x2="677" y2="916" stroke="#222" stroke-width="1.4"/>
<line x1="768" y1="856" x2="768" y2="877" stroke="#222" stroke-width="1.4"/>
<line x1="795" y1="881" x2="795" y2="903" stroke="#222" stroke-width="1.4"/>
<line x1="830" y1="915" x2="830" y2="931" stroke="#222" stroke-width="1.4"/>
<line x1="860" y1="959" x2="878" y2="959" stroke="#222" stroke-width="1.4"/>
<line x1="872" y1="984" x2="889" y2="984" stroke="#222" stroke-width="1.4"/>
<line x1="752" y1="987" x2="752" y2="1013" stroke="#222" stroke-width="1.4"/>
<line x1="570" y1="1013" x2="570" y2="1044" stroke="#222" stroke-width="1.4"/>
<line x1="666" y1="1141" x2="689" y2="1141" stroke="#222" stroke-width="1.4"/>
<polyline points="1235,471 1235,455 1338,455 1338,710 1172,710 1172,693" fill="none" stroke="#222" stroke-width="2.2" stroke-linejoin="miter"/>
<line x1="1208" y1="666" x2="1208" y2="710" stroke="#222" stroke-width="2.2"/>
<line x1="1281" y1="692" x2="1281" y2="710" stroke="#222" stroke-width="2.2"/>
<line x1="1248" y1="710" x2="1248" y2="725" stroke="#222" stroke-width="2.2"/>
<line x1="1315" y1="511" x2="1338" y2="511" stroke="#222" stroke-width="2.2"/>
<polyline points="1298,561 1298,542 1338,542" fill="none" stroke="#222" stroke-width="2.2" stroke-linejoin="miter"/>
<polyline points="581,208 581,196 620,218 620,232" fill="none" stroke="#222" stroke-width="1.4" stroke-linejoin="round"/>
<line x1="601" y1="189" x2="601" y2="207" stroke="#222" stroke-width="1.4"/>
<polyline points="848,168 848,151 888,130 888,145" fill="none" stroke="#222" stroke-width="1.4" stroke-linejoin="round"/>
<line x1="866" y1="126" x2="866" y2="141" stroke="#222" stroke-width="1.4"/>
<polyline points="458,317 458,302.5 491,302.5 491,314" fill="none" stroke="#222" stroke-width="1.4" stroke-linejoin="round"/>
<line x1="475" y1="291" x2="475" y2="302" stroke="#222" stroke-width="1.4"/>
<polyline points="1269,220 1269,243 1307,223 1307,205" fill="none" stroke="#222" stroke-width="1.4" stroke-linejoin="round"/>
<line x1="1290" y1="211" x2="1290" y2="232" stroke="#222" stroke-width="1.4"/>
<line x1="1298" y1="231" x2="1298" y2="243" stroke="#222" stroke-width="1.4"/>
<polyline points="1200,265 1200,283 1228,268 1228,251" fill="none" stroke="#222" stroke-width="1.4" stroke-linejoin="round"/>
<line x1="1218" y1="273" x2="1218" y2="288" stroke="#222" stroke-width="1.4"/>
<circle cx="1001" cy="106" r="10.5" fill="#fff" stroke="#222" stroke-width="1.0"/>
<text x="1001" y="112.5" font-size="19" text-anchor="middle">C</text>
<circle cx="16" cy="677" r="10.5" fill="#fff" stroke="#222" stroke-width="1.0"/>
<text x="16" y="683.5" font-size="19" text-anchor="middle">D</text>
<circle cx="1309" cy="651" r="10.5" fill="#fff" stroke="#222" stroke-width="1.0"/>
<text x="1309" y="657.5" font-size="19" text-anchor="middle">F</text>
</svg></body></html>
